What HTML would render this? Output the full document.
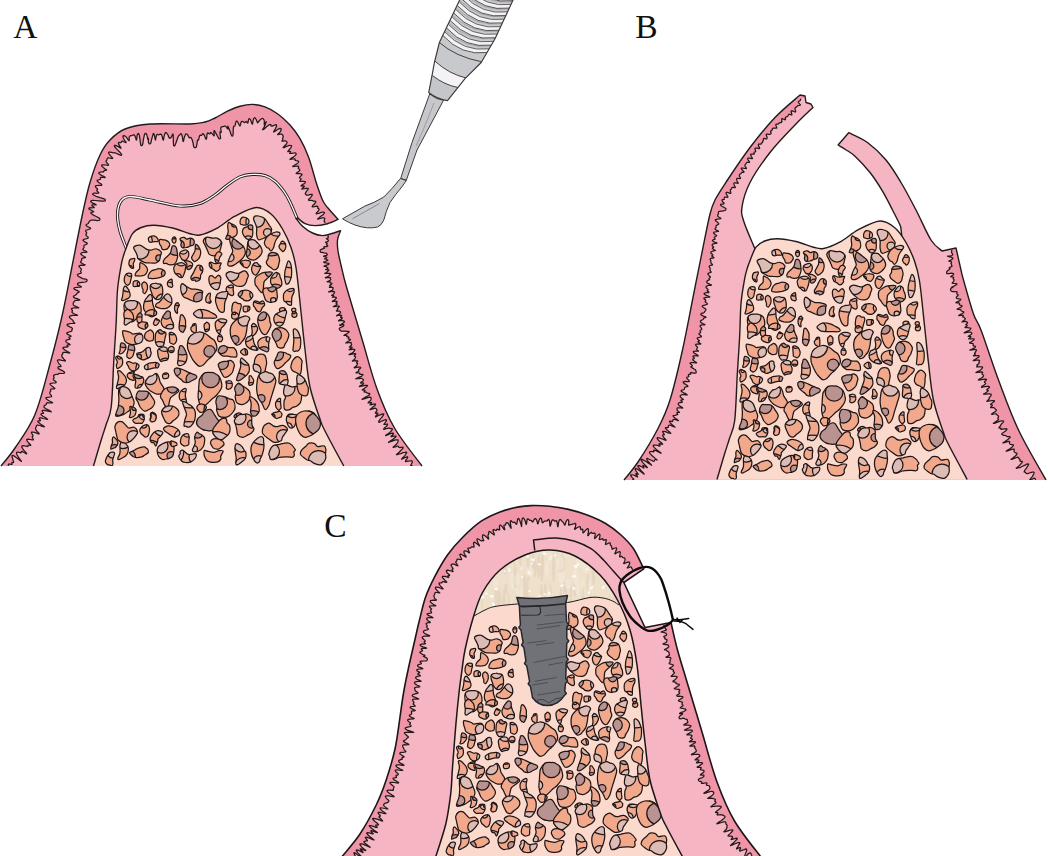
<!DOCTYPE html>
<html><head><meta charset="utf-8"><title>Figure</title>
<style>html,body{margin:0;padding:0;background:#fff}body{width:1048px;height:856px;overflow:hidden;font-family:"Liberation Serif",serif}svg{display:block}</style>
</head><body>
<svg width="1048" height="856" viewBox="0 0 1048 856">
<defs><path id="b0" d="M158.3 240.3C158.4 241 158.3 241.5 157.6 241.7C156.9 241.9 155.3 241.5 154.2 241.6C153.1 241.7 152.1 242.3 151.2 242.3C150.4 242.3 149.6 242.1 149.2 241.7C148.7 241.3 148.7 240.7 148.6 240.1C148.4 239.4 148 238.5 148.6 237.8C149.1 237.2 150.7 236.5 151.7 236.2C152.8 235.9 153.9 235.9 154.8 236.1C155.7 236.4 156.5 237.1 157.1 237.8C157.7 238.5 158.2 239.7 158.3 240.3Z"/>
<clipPath id="c0"><use href="#b0"/></clipPath>
<path id="b1" d="M168.7 242.1C169.4 242.9 169.9 243.9 169.8 244.9C169.7 245.9 168.5 247.4 167.9 248.2C167.2 248.9 166.8 249.2 165.9 249.4C164.9 249.6 163.2 249.9 162.4 249.4C161.6 248.9 161.6 247.3 161.1 246.3C160.6 245.3 159.6 244.5 159.4 243.4C159.1 242.3 159.1 240.2 159.7 239.6C160.4 239.1 162.4 239.8 163.4 239.9C164.4 240 164.6 239.7 165.5 240.1C166.4 240.5 168 241.3 168.7 242.1Z"/>
<path id="b2" d="M176 240C176 240.7 175.9 241.6 175.5 242.2C175.2 242.7 174.6 243.2 174.1 243.2C173.6 243.2 173.1 242.6 172.7 242.1C172.4 241.5 172 240.7 172 240C172 239.3 172.3 238.4 172.7 237.9C173 237.4 173.6 237 174.1 236.9C174.6 236.9 175.3 237.2 175.6 237.7C175.9 238.3 176.1 239.3 176 240Z"/>
<clipPath id="c2"><use href="#b2"/></clipPath>
<path id="b3" d="M194.3 241.5C194.4 242.6 193.9 244.4 193.2 245.1C192.5 245.8 191.3 245.6 190.2 246C189.1 246.4 187.7 247.2 186.4 247.5C185.1 247.8 183.3 248.2 182.4 247.8C181.5 247.4 181.1 246.2 180.9 245.2C180.7 244.3 181.5 243.3 181.4 242.3C181.2 241.2 179.6 239.6 180 238.7C180.5 237.9 182.9 237.2 184 237.3C185.1 237.4 185.7 239.1 186.7 239.2C187.7 239.3 189 238.3 190 238.2C191 238.1 191.9 238.2 192.6 238.7C193.3 239.3 194.2 240.5 194.3 241.5Z"/>
<clipPath id="c3"><use href="#b3"/></clipPath>
<path id="b4" d="M221.3 245.4C221 246.9 220.7 249.2 219.8 250.8C219 252.4 217.5 254.1 216.4 254.9C215.3 255.7 214.6 255.9 213.5 255.8C212.3 255.7 210.3 255.3 209.3 254.4C208.3 253.5 208.1 251.7 207.5 250.4C206.9 249 206.4 248 205.7 246.4C205 244.8 203.1 242.5 203.3 241C203.5 239.4 205.4 237.6 207 237.1C208.5 236.6 210.8 238 212.5 238.1C214.2 238.3 215.6 237.6 217.1 238.2C218.6 238.8 220.8 240.5 221.5 241.7C222.2 242.9 221.6 243.8 221.3 245.4Z"/>
<clipPath id="c4"><use href="#b4"/></clipPath>
<path id="b5" d="M237.2 232.8C237.1 234.4 236.4 235.2 235.4 236.1C234.4 236.9 232.4 237.4 231.4 237.9C230.4 238.4 230.1 238.8 229.2 239C228.2 239.2 226 239.7 225.7 238.9C225.5 238.1 227.2 235.3 227.6 234.1C228 232.8 228.2 232.7 228.2 231.4C228.3 230 227.6 227.3 227.7 225.9C227.8 224.4 228.1 222.9 228.7 222.5C229.3 222.2 230.5 223.4 231.4 223.8C232.3 224.2 233 224.4 233.8 224.9C234.6 225.4 235.5 225.5 236.1 226.8C236.7 228.2 237.4 231.3 237.2 232.8Z"/>
<clipPath id="c5"><use href="#b5"/></clipPath>
<path id="b6" d="M160.5 255.5C160.2 256.9 160.2 259.2 159.4 260.4C158.7 261.6 157.4 262.3 155.9 262.8C154.4 263.2 152.4 263.1 150.4 263C148.5 262.9 146.4 263 144.3 262.3C142.3 261.5 139.2 259.7 138.1 258.7C136.9 257.6 137.7 257 137.4 256C137 255 136.6 254 136 252.5C135.4 251.1 133.1 248.5 133.7 247.3C134.4 246.1 137.6 244.8 139.8 245.2C142 245.5 145.1 248.6 146.9 249.4C148.7 250.2 149.2 250.2 150.8 250.1C152.3 250 154.6 248.4 156.3 248.8C158.1 249.1 160.6 250.9 161.3 252.1C162 253.2 160.8 254.1 160.5 255.5Z"/>
<clipPath id="c6"><use href="#b6"/></clipPath>
<path id="b7" d="M177.3 258.3C176.9 259.8 176.1 262.8 174.7 263.9C173.4 265 170.5 264.8 169.1 264.7C167.7 264.6 167.5 263.7 166.5 263.4C165.6 263.2 164 263.9 163.6 263.3C163.2 262.6 163.2 260.9 164.1 259.6C164.9 258.2 167.5 256.4 168.6 255.2C169.7 254 170.2 253.6 170.7 252.3C171.3 250.9 171.4 248.1 171.9 247C172.4 245.9 173 245.5 173.7 245.6C174.4 245.7 175.6 246.1 176.2 247.6C176.9 249.2 177.3 252.9 177.5 254.7C177.7 256.4 177.8 256.8 177.3 258.3Z"/>
<clipPath id="c7"><use href="#b7"/></clipPath>
<path id="b8" d="M188.8 254.8C188.8 255.8 188.5 256.6 188 257.5C187.4 258.4 186.6 259.8 185.7 260.2C184.8 260.6 183.4 260.3 182.6 259.9C181.8 259.6 181.6 258.8 181.1 258C180.6 257.1 179.8 255.9 179.7 254.9C179.6 254 179.8 252.9 180.3 252.2C180.9 251.5 181.9 250.9 182.9 250.6C183.9 250.2 185.3 249.9 186.2 250C187 250.2 187.7 250.7 188.2 251.5C188.6 252.3 188.9 253.8 188.8 254.8Z"/>
<clipPath id="c8"><use href="#b8"/></clipPath>
<path id="b9" d="M200.2 255.4C199.9 256.6 199.7 257.6 198.8 258.6C197.8 259.7 195.4 261.3 194.6 261.6C193.7 261.9 193.8 261 193.5 260.7C193.2 260.4 192.8 260.3 192.5 259.7C192.2 259.2 191.4 258.7 191.6 257.5C191.9 256.4 193.4 254.3 193.9 253.1C194.5 251.9 194.9 251.6 195.1 250.3C195.4 249 195.1 246.1 195.4 245.2C195.6 244.2 196 244.2 196.6 244.6C197.3 245 198.6 246.4 199.2 247.6C199.9 248.7 200.5 250.2 200.6 251.5C200.8 252.8 200.6 254.2 200.2 255.4Z"/>
<clipPath id="c9"><use href="#b9"/></clipPath>
<path id="b10" d="M219.5 257.7C219 258.7 219.4 259.1 219.1 260C218.7 261 218.2 262.9 217.6 263.2C217 263.5 216.1 262.7 215.7 262C215.2 261.3 214.9 259.8 214.8 258.9C214.6 258 214.6 257.5 215 256.4C215.4 255.3 216.4 253.1 217.2 252.4C217.9 251.6 219 251.9 219.7 251.9C220.3 252 220.6 252.3 221 252.7C221.3 253 222 253.4 221.8 254.2C221.5 255.1 219.9 256.8 219.5 257.7Z"/>
<clipPath id="c10"><use href="#b10"/></clipPath>
<path id="b11" d="M245.3 253.2C245.1 255.1 243.8 256.8 242.6 258.3C241.4 259.8 239.6 261.1 238 262.3C236.5 263.5 234.8 264.8 233.4 265.4C231.9 266.1 230.3 266.4 229.3 266.1C228.4 265.9 227.6 265.5 227.7 264C227.8 262.5 228.9 259.3 229.8 257.2C230.6 255.1 232.3 253.3 232.7 251.7C233 250 232.1 249 231.6 247.3C231.2 245.6 230.2 243.2 229.9 241.6C229.7 239.9 229.4 237.4 230.4 237.2C231.4 237 234.4 239.3 236 240.4C237.6 241.4 238.7 242.5 240 243.6C241.2 244.6 242.9 245.2 243.7 246.8C244.6 248.4 245.5 251.3 245.3 253.2Z"/>
<clipPath id="c11"><use href="#b11"/></clipPath>
<path id="b12" d="M133.3 263.6C133.1 264.8 133.6 266.2 133.6 267C133.6 267.8 133.5 268.2 133.1 268.4C132.7 268.5 131.9 268.5 131.3 268.1C130.7 267.6 129.8 266.5 129.4 265.6C129 264.8 128.7 263.9 128.9 262.9C129 261.9 129.5 260.2 130.1 259.5C130.7 258.8 131.8 258.9 132.6 258.7C133.3 258.6 134.1 258.2 134.4 258.4C134.8 258.6 135 259.1 134.8 259.9C134.6 260.8 133.5 262.5 133.3 263.6Z"/>
<clipPath id="c12"><use href="#b12"/></clipPath>
<path id="b13" d="M147.3 271.4C146.9 272.6 146 274.3 144.8 275C143.7 275.8 141.7 275.8 140.5 276C139.3 276.1 138.6 276 137.7 275.9C136.8 275.9 135.3 276.1 135.1 275.5C134.8 274.9 135.6 273.3 136.3 272.2C137.1 271.1 138.9 269.8 139.5 268.9C140 268 139.6 267.7 139.7 266.7C139.8 265.6 139.6 263.1 140.1 262.6C140.5 262 141.4 263.1 142.2 263.5C143 263.9 143.8 264.1 144.6 264.9C145.5 265.7 146.8 267.2 147.2 268.3C147.6 269.3 147.7 270.3 147.3 271.4Z"/>
<path id="b14" d="M165.2 273C165.2 273.8 164.7 274.8 164.3 275.4C163.9 275.9 163.8 276 162.8 276.4C161.8 276.8 160.1 277.5 158.5 277.9C156.9 278.2 154.4 278.6 153.2 278.7C152 278.8 152.1 278.5 151.3 278.4C150.5 278.2 149 278.5 148.5 278C148 277.4 147.9 276.4 148.4 275.2C148.9 274 150.2 271.9 151.4 271C152.5 270.1 154.1 270 155.4 269.6C156.7 269.2 157.8 268.5 159.2 268.7C160.7 268.8 163.1 269.8 164.1 270.5C165.1 271.2 165.1 272.2 165.2 273Z"/>
<clipPath id="c14"><use href="#b14"/></clipPath>
<path id="b15" d="M185.1 270.6C184.8 272 184.6 272.4 184.2 273.5C183.8 274.6 183.2 276.6 182.5 277.3C181.7 277.9 180.4 277.5 179.6 277.2C178.9 277 178.6 276.3 177.9 275.7C177.1 275.1 175.9 274.4 175.2 273.4C174.5 272.3 173.9 270.5 173.8 269.3C173.6 268.2 173.7 267.4 174.2 266.5C174.7 265.5 175.7 264.3 176.8 263.7C177.8 263.1 179.5 263 180.6 262.8C181.6 262.7 182 262.6 182.9 263C183.7 263.4 185.4 264 185.8 265.2C186.1 266.5 185.3 269.2 185.1 270.6Z"/>
<clipPath id="c15"><use href="#b15"/></clipPath>
<path id="b16" d="M192.6 263.8C192.9 264.6 192.3 266 191.9 266.9C191.5 267.8 190.8 268.6 190.2 269C189.6 269.5 188.8 269.6 188.3 269.6C187.7 269.5 187.2 269.3 186.9 268.8C186.7 268.2 186.7 266.9 186.7 266.1C186.7 265.3 187.2 264.5 186.8 263.7C186.5 262.9 184.4 261.7 184.4 261.3C184.5 260.8 186.3 260.7 187.2 260.8C188.2 260.9 189.3 261.2 190.2 261.7C191.1 262.2 192.3 262.9 192.6 263.8Z"/>
<clipPath id="c16"><use href="#b16"/></clipPath>
<path id="b17" d="M200.7 274.9C200.3 276.3 200.7 278.5 199.9 279.6C199.2 280.7 197 281.3 196.1 281.5C195.3 281.6 195.8 280.5 195 280.2C194.3 280 192.5 280.6 191.8 280.1C191.1 279.5 190.7 278.2 190.9 277C191.2 275.8 192.7 274.2 193.4 272.9C194.1 271.6 194.5 270.3 195.1 269.1C195.7 268 196.3 266.6 197 265.9C197.7 265.3 198.5 265 199.4 265.2C200.3 265.3 201.8 265.8 202.3 266.9C202.9 267.9 202.9 270.3 202.6 271.6C202.4 272.9 201.2 273.6 200.7 274.9Z"/>
<clipPath id="c17"><use href="#b17"/></clipPath>
<path id="b18" d="M219.8 266.5C219.6 267.4 220.6 267.8 220 268.7C219.5 269.5 217.6 271.2 216.5 271.3C215.4 271.5 214.5 270 213.5 269.4C212.5 268.7 211.1 268.6 210.4 267.6C209.7 266.6 209.1 264.4 209.2 263.5C209.2 262.6 209.9 262.1 210.7 262.1C211.6 262.1 213 263.3 214.1 263.5C215.2 263.8 216 263.6 217.2 263.5C218.3 263.4 220.7 262.5 221.2 263C221.6 263.5 219.9 265.6 219.8 266.5Z"/>
<clipPath id="c18"><use href="#b18"/></clipPath>
<path id="b19" d="M220.4 281C220.3 282.1 220.4 283.1 220 284.4C219.7 285.8 219.1 288.2 218.3 289C217.6 289.9 216.4 289.8 215.3 289.5C214.2 289.2 212.7 288 211.9 287.2C211 286.5 210.7 285.9 210.2 284.8C209.7 283.8 209.1 282.4 209 281C208.8 279.6 208.8 277.4 209.4 276.5C210 275.6 211.4 275.6 212.4 275.8C213.3 276.1 214.1 278.2 215.1 278.1C216.1 278 217.2 275.4 218.2 275.3C219.1 275.1 220.4 276.4 220.8 277.4C221.2 278.3 220.6 279.8 220.4 281Z"/>
<clipPath id="c19"><use href="#b19"/></clipPath>
<path id="b20" d="M247.1 279C246.7 280.3 246.5 281.9 245.8 283C245.1 284.2 244.6 285.3 243.1 285.8C241.6 286.3 238.5 286.6 236.6 286C234.7 285.5 232.7 283.4 231.5 282.4C230.2 281.4 229.9 281.4 229 280.2C228.1 278.9 225.9 276.1 226 274.7C226.2 273.3 228.4 272 230 271.7C231.6 271.5 234 272.8 235.5 273C237 273.3 237.5 273.5 239.1 273.2C240.6 272.8 243.1 270.4 244.7 270.8C246.2 271.1 247.9 273.9 248.3 275.2C248.7 276.6 247.5 277.7 247.1 279Z"/>
<clipPath id="c20"><use href="#b20"/></clipPath>
<path id="b21" d="M131 278.9C130.7 280 130.5 281.7 130.2 282.7C129.8 283.6 129.4 284 128.9 284.4C128.4 284.9 128 285.6 127.3 285.3C126.6 285 125.2 283.7 124.7 282.6C124.2 281.4 124.1 279.8 124.3 278.4C124.5 277 125.2 275.1 126 274.2C126.7 273.3 127.8 273.2 128.7 273.1C129.6 273 130.8 273.2 131.3 273.7C131.8 274.2 131.7 275.1 131.7 276C131.6 276.9 131.2 277.8 131 278.9Z"/>
<clipPath id="c21"><use href="#b21"/></clipPath>
<path id="b22" d="M139.8 283.8C139.8 284.5 139.6 285.7 139.1 286.2C138.5 286.6 137.2 286.4 136.3 286.4C135.4 286.5 133.9 286.7 133.4 286.3C132.9 285.8 133 284.6 133.1 283.8C133.1 283 133.1 282.1 133.7 281.6C134.2 281 135.4 280.7 136.3 280.7C137.2 280.7 138.2 281.2 138.8 281.7C139.4 282.2 139.7 283.1 139.8 283.8Z"/>
<clipPath id="c22"><use href="#b22"/></clipPath>
<path id="b23" d="M147.5 287.8C147.5 288.8 147.4 289.3 147 290.2C146.5 291.2 145.5 293.2 144.9 293.6C144.3 293.9 143.5 293.1 143.1 292.5C142.8 291.9 143.1 290.7 143 289.8C142.8 288.9 142.3 288.3 142.1 287.4C141.9 286.5 141.7 285.2 141.8 284.4C142 283.6 142.6 282.9 143.1 282.5C143.6 282.1 144.2 281.8 144.9 282.1C145.5 282.3 146.6 283.2 147.1 284.2C147.5 285.1 147.5 286.8 147.5 287.8Z"/>
<path id="b24" d="M162.6 289.1C162.9 290.4 162.8 291.4 162.7 292.3C162.7 293.3 162.9 293.9 162.5 294.9C162.1 295.9 161.4 297.6 160.4 298.4C159.4 299.1 157.5 299.7 156.2 299.4C155 299 153.7 297.5 152.9 296.2C152.1 295 151.9 293.3 151.5 292.1C151 290.9 150.5 290.3 150.4 289.1C150.2 287.9 149.7 285.8 150.5 284.8C151.3 283.8 153.9 283.2 155.1 283.1C156.3 282.9 156.7 283.6 157.7 283.9C158.7 284.1 160.5 283.7 161.3 284.6C162.2 285.5 162.4 287.8 162.6 289.1Z"/>
<clipPath id="c24"><use href="#b24"/></clipPath>
<path id="b25" d="M172.3 283.9C172.4 284.7 172.9 285.4 172.8 286C172.7 286.5 172.2 287.1 171.7 287.3C171.2 287.4 170.5 287.1 169.9 287C169.4 286.8 168.6 286.8 168.2 286.2C167.8 285.7 167.3 284.3 167.4 283.4C167.4 282.5 167.9 281.5 168.4 280.9C168.9 280.2 169.8 279.8 170.3 279.5C170.9 279.3 171.5 279.1 171.8 279.3C172.1 279.6 172.1 280.3 172.2 281.1C172.3 281.8 172.2 283 172.3 283.9Z"/>
<clipPath id="c25"><use href="#b25"/></clipPath>
<path id="b26" d="M202.1 295.8C202 296.8 202.5 298.7 201.5 299.7C200.5 300.7 198 301.8 196.1 301.8C194.3 301.8 191.7 300.5 190.3 299.9C188.9 299.4 188.9 299.2 187.7 298.7C186.6 298.1 184.5 297.8 183.4 296.6C182.3 295.5 181.5 293.4 181.1 291.7C180.7 289.9 180.5 287.3 180.8 286C181 284.7 181.4 283.5 182.4 283.6C183.5 283.8 185.6 285.9 187 286.8C188.4 287.6 189.6 288.4 191 288.8C192.4 289.2 193.7 288.8 195.6 289.2C197.5 289.6 201.3 290.5 202.4 291.2C203.5 292 202.3 293.1 202.2 293.9C202.2 294.6 202.2 294.9 202.1 295.8Z"/>
<clipPath id="c26"><use href="#b26"/></clipPath>
<path id="b27" d="M209.9 298.5C210 299.4 211.1 300.9 211.1 301.7C211.2 302.5 210.5 303 210 303.3C209.6 303.5 209.3 303.1 208.7 302.9C208.1 302.7 206.9 302.8 206.4 302.2C205.9 301.5 205.6 300.2 205.7 299.1C205.8 298.1 206.3 296.6 206.9 295.6C207.5 294.6 208.7 293.6 209.2 293.3C209.8 293 210.3 293.2 210.4 293.7C210.6 294.2 210.3 295.5 210.2 296.3C210.1 297.1 209.7 297.6 209.9 298.5Z"/>
<clipPath id="c27"><use href="#b27"/></clipPath>
<path id="b28" d="M224.8 302.5C224.4 304.2 224.6 305.1 224.5 306.6C224.4 308 224.6 310.4 224.1 311.4C223.6 312.3 222.4 312.5 221.4 312.3C220.5 312 219.4 311.2 218.5 309.9C217.7 308.7 216.9 306.3 216.4 304.6C215.9 303 215.3 301.6 215.5 299.9C215.6 298.2 216.2 295.7 217.1 294.4C218 293.1 219.8 292.6 221.1 292.2C222.4 291.7 223.8 291.7 224.8 291.7C225.9 291.6 227.2 290.9 227.6 291.6C228 292.4 227.7 294.5 227.2 296.3C226.7 298.1 225.3 300.8 224.8 302.5Z"/>
<clipPath id="c28"><use href="#b28"/></clipPath>
<path id="b29" d="M233.1 289.4C233.2 290.5 233.6 291.9 233.6 292.8C233.7 293.6 233.8 294.2 233.5 294.6C233.2 295.1 232.7 295.8 231.8 295.6C230.8 295.4 229 294.3 228.1 293.5C227.2 292.7 226.6 292 226.4 291C226.1 289.9 226.1 288.1 226.6 287.2C227.1 286.2 228.6 285.9 229.4 285.5C230.2 285.1 230.9 284.7 231.5 284.8C232.2 284.9 233.1 285.3 233.4 286.1C233.6 286.8 233.1 288.3 233.1 289.4Z"/>
<clipPath id="c29"><use href="#b29"/></clipPath>
<path id="b30" d="M130.2 295.3C130.1 296.4 129.8 297.1 129 297.8C128.2 298.5 126.5 299.1 125.5 299.6C124.5 300 123.7 300.5 123 300.6C122.3 300.6 121.6 300.6 121.5 300.1C121.4 299.5 122.1 298.3 122.4 297.1C122.6 296 122.9 294.3 123 293C123.2 291.7 123.2 290.3 123.3 289.3C123.5 288.4 123.7 287.8 124 287.3C124.4 286.8 124.7 286 125.4 286.2C126.1 286.4 127.3 287.7 127.9 288.6C128.6 289.5 129 290.5 129.4 291.6C129.8 292.7 130.3 294.3 130.2 295.3Z"/>
<clipPath id="c30"><use href="#b30"/></clipPath>
<path id="b31" d="M141.2 311.1C141 313 139.4 314.2 138.6 315.6C137.7 316.9 137.1 317.9 136 319C134.9 320 133.3 321.9 132 321.9C130.7 321.8 128.9 320 127.9 318.7C127 317.5 127 315.8 126.4 314.4C125.8 312.9 124.6 311.9 124.3 310.1C123.9 308.3 123.9 305 124.4 303.5C125 302 126.2 301.4 127.6 300.9C129.1 300.4 131.8 300.6 133.1 300.6C134.5 300.7 134.5 300.5 135.7 301C136.8 301.6 138.9 302.2 139.9 303.8C140.8 305.5 141.4 309.1 141.2 311.1Z"/>
<clipPath id="c31"><use href="#b31"/></clipPath>
<path id="b32" d="M153.3 305.9C153.7 307.4 154.8 309.1 154.9 310.4C155.1 311.7 154.5 312.5 154.3 313.5C154 314.5 154.5 315.8 153.7 316.3C152.9 316.7 150.6 316.8 149.2 316C147.8 315.3 146.3 313.1 145.3 311.8C144.4 310.5 143.7 309.8 143.6 308.1C143.4 306.4 143.9 303.2 144.5 301.4C145.1 299.6 146.1 298.5 147.1 297.4C148 296.2 149.4 294.4 150.2 294.4C151.1 294.3 151.9 295.9 152.2 297C152.6 298.2 152.2 300 152.4 301.4C152.5 302.9 152.8 304.4 153.3 305.9Z"/>
<clipPath id="c32"><use href="#b32"/></clipPath>
<path id="b33" d="M170.1 295.3C170.8 296.1 171.4 297.3 171.7 298.7C171.9 300 172.2 302 171.7 303.5C171.2 304.9 169.5 306.4 168.5 307.3C167.4 308.1 166.6 308.4 165.3 308.6C163.9 308.8 161.9 308.7 160.3 308.4C158.7 308 156.3 307.3 155.6 306.5C155 305.7 155.9 304.3 156.5 303.6C157.1 302.9 158.2 303.1 159.2 302.2C160.2 301.4 161.2 300 162.3 298.7C163.3 297.4 164.8 295.4 165.7 294.6C166.6 293.8 166.9 293.7 167.6 293.9C168.4 294 169.4 294.5 170.1 295.3Z"/>
<clipPath id="c33"><use href="#b33"/></clipPath>
<path id="b34" d="M178.1 307.4C177.8 308.1 177.4 308.6 177.3 309.6C177.2 310.5 177.7 312.5 177.5 313C177.3 313.5 176.7 313.2 176.2 312.7C175.8 312.3 175.1 311.2 174.8 310.3C174.6 309.3 174.4 308.2 174.6 307.1C174.8 306 175.3 304.4 175.8 303.6C176.4 302.9 177.4 302.6 177.8 302.6C178.2 302.6 178.2 303.1 178.4 303.5C178.7 303.9 179.4 304.3 179.3 304.9C179.3 305.6 178.5 306.6 178.1 307.4Z"/>
<clipPath id="c34"><use href="#b34"/></clipPath>
<path id="b35" d="M216.7 317.5C216.6 318.1 215.6 318.1 214.3 318.2C213.1 318.4 210.8 318.2 209.3 318.2C207.8 318.1 206.5 318 205.4 318C204.2 318 203.5 318.1 202.3 318.1C201 318 199 317.9 197.9 317.6C196.8 317.3 196.4 316.8 195.7 316.3C195 315.8 194 314.9 193.7 314.4C193.4 313.8 193.3 313.6 193.8 313C194.3 312.3 195.5 311.1 196.7 310.5C197.9 309.9 199.1 309.3 200.9 309.4C202.7 309.4 205.8 310.1 207.5 310.6C209.2 311.1 209.8 311.8 211.1 312.5C212.4 313.2 214.3 314 215.3 314.8C216.2 315.6 216.9 316.9 216.7 317.5Z"/>
<clipPath id="c35"><use href="#b35"/></clipPath>
<path id="b36" d="M240.1 310.6C239.8 312 239.5 313.1 239.2 314.2C238.8 315.3 238.6 316.5 238 317.2C237.4 318 236.5 318.7 235.8 318.8C235.1 318.9 234.3 318.9 233.7 317.8C233.1 316.6 232.4 313.4 232.1 312.1C231.7 310.7 231.6 311.1 231.8 309.7C231.9 308.2 232.3 304.7 233 303.4C233.6 302.1 234.8 302 235.7 302.1C236.6 302.1 237.4 303.4 238.2 303.7C239 303.9 240 303.3 240.5 303.7C241 304.1 241.4 304.8 241.3 306C241.3 307.1 240.5 309.2 240.1 310.6Z"/>
<path id="b37" d="M249 221.5C249 222.4 248.7 223.5 248.1 224.1C247.5 224.6 246.3 224.9 245.5 225.1C244.7 225.2 244 225.1 243.1 225C242.3 224.9 241 224.8 240.5 224.2C240 223.6 240 222.2 240.1 221.3C240.2 220.4 240.5 219.5 240.9 218.8C241.4 218.1 241.9 217.3 242.7 217.1C243.5 216.9 244.8 217.2 245.7 217.5C246.6 217.9 247.7 218.4 248.2 219.1C248.8 219.8 249 220.7 249 221.5Z"/>
<clipPath id="c37"><use href="#b37"/></clipPath>
<path id="b38" d="M269.2 225.2C269.8 226.3 271.7 227.6 271.7 229.5C271.6 231.4 270.1 235.1 269 236.4C267.9 237.8 266.4 237.2 265.2 237.6C264 238 263 238.7 261.8 239C260.7 239.4 259.1 240.3 258.3 239.6C257.4 238.9 256.8 236.7 256.6 234.9C256.3 233 256.8 230.1 256.7 228.4C256.6 226.8 256.4 226.5 255.9 225C255.4 223.4 253.7 220.6 253.6 219.1C253.4 217.7 254.2 216.6 255 216.1C255.9 215.6 257 215.7 258.6 216C260.1 216.3 262.8 217 264.3 218.2C265.8 219.3 266.9 221.7 267.7 222.9C268.5 224 268.5 224.1 269.2 225.2Z"/>
<clipPath id="c38"><use href="#b38"/></clipPath>
<path id="b39" d="M252.8 233.1C252.6 234.2 252.7 235.7 252.1 236.7C251.5 237.8 250 239 249.1 239.4C248.2 239.7 247.4 239.1 246.8 238.8C246.2 238.6 246 238.4 245.6 237.8C245.1 237.3 244.4 236.6 243.8 235.6C243.3 234.7 242.5 233.5 242.4 232.3C242.3 231.1 242.8 229.2 243.5 228.3C244.2 227.4 245.6 227.4 246.7 226.9C247.7 226.3 248.8 225.1 249.8 224.9C250.8 224.7 252.1 225 252.6 225.9C253.1 226.7 252.7 228.9 252.7 230.1C252.8 231.3 252.9 232 252.8 233.1Z"/>
<clipPath id="c39"><use href="#b39"/></clipPath>
<path id="b40" d="M274.8 242.9C274.2 244.4 274.1 246.7 273.4 248C272.7 249.4 271.6 250.9 270.8 250.9C270 251 269.4 248.8 268.7 248.2C268 247.6 267.3 248.2 266.6 247.4C265.9 246.5 264.4 244.7 264.3 243C264.3 241.4 265.6 238.9 266.5 237.4C267.5 236 268.5 235.3 270 234.4C271.6 233.5 274.3 232.4 275.8 232C277.4 231.7 278.4 232 279.1 232.4C279.8 232.8 280.4 233.2 280 234.3C279.6 235.4 277.5 237.6 276.6 239C275.7 240.5 275.3 241.4 274.8 242.9Z"/>
<clipPath id="c40"><use href="#b40"/></clipPath>
<path id="b41" d="M285.8 246.1C285.8 247.1 285.5 248.6 285 249.5C284.5 250.4 283.4 251.5 282.8 251.7C282.3 251.8 282.1 250.7 281.7 250.3C281.3 250 280.8 250.1 280.4 249.4C279.9 248.8 279 247.3 279 246.4C279 245.4 280 244.5 280.4 243.7C280.8 242.9 281 242.1 281.4 241.7C281.8 241.2 282.1 240.9 282.7 241.1C283.3 241.4 284.6 242.3 285.1 243.2C285.6 244 285.8 245 285.8 246.1Z"/>
<clipPath id="c41"><use href="#b41"/></clipPath>
<path id="b42" d="M262.2 250.7C262.3 252.1 261.6 253.5 260.9 254.7C260.1 255.9 258.8 257.1 257.7 258C256.5 258.9 255.5 260 253.9 260C252.3 260.1 249.4 259.3 248.1 258.3C246.8 257.4 246.4 255.8 246.2 254.5C246 253.1 246.7 251.8 246.9 250.4C247.1 249 247.2 247.6 247.4 246C247.7 244.4 247.4 241.8 248.4 240.8C249.5 239.7 252.4 239.5 253.9 239.8C255.3 240.1 255.9 241.5 257 242.5C258 243.5 259.3 244.4 260.2 245.8C261 247.1 262.1 249.2 262.2 250.7Z"/>
<clipPath id="c42"><use href="#b42"/></clipPath>
<path id="b43" d="M279.6 259.9C279.7 261.3 279.3 261.7 279 262.9C278.7 264.2 278.6 266.4 277.8 267.6C277 268.8 275.3 269.9 274.2 269.9C273 269.9 271.8 268.3 270.7 267.5C269.6 266.7 268.3 266.1 267.6 265.2C266.9 264.3 266.3 263.2 266.3 262.1C266.4 261 267.7 259.9 268.1 258.8C268.4 257.7 267.9 256.4 268.3 255.4C268.7 254.4 269.4 253.2 270.5 252.8C271.7 252.3 274.1 252.6 275.3 252.9C276.6 253.3 277.3 253.6 278 254.7C278.7 255.9 279.4 258.5 279.6 259.9Z"/>
<clipPath id="c43"><use href="#b43"/></clipPath>
<path id="b44" d="M250.4 262.7C250.3 263.3 250.2 264.1 249.7 265C249.2 265.8 248.3 267.4 247.4 267.8C246.4 268.1 244.9 267.4 244 267C243.2 266.6 242.9 266.1 242.3 265.4C241.6 264.6 240.2 263.2 240 262.5C239.9 261.8 240.7 261.5 241.4 261.1C242 260.8 242.9 260.6 243.9 260.5C244.8 260.3 246 260.1 247 260.3C248 260.4 249.3 260.9 249.9 261.3C250.5 261.7 250.4 262.1 250.4 262.7Z"/>
<clipPath id="c44"><use href="#b44"/></clipPath>
<path id="b45" d="M259.6 269.7C259.1 270.7 258.9 271.4 258.3 272.3C257.7 273.2 256.7 274.7 255.9 275C255.1 275.3 254 274.6 253.3 273.9C252.6 273.2 252.1 271.7 251.8 270.7C251.6 269.7 251.4 269.1 251.7 267.9C252 266.8 252.8 264.6 253.6 263.7C254.4 262.9 255.9 262.6 256.7 262.7C257.5 262.8 257.7 263.9 258.4 264.5C259.1 265.2 260.6 265.6 260.8 266.4C261 267.3 260 268.7 259.6 269.7Z"/>
<clipPath id="c45"><use href="#b45"/></clipPath>
<path id="b46" d="M264.2 281.6C263.5 282.9 263.9 283.6 263.6 285.4C263.4 287.2 263.4 291.4 262.7 292.3C262.1 293.3 260.8 291.9 259.8 290.9C258.8 290 257.6 287.8 256.8 286.7C256 285.5 255.4 285.5 255.1 284.1C254.9 282.6 254.5 279.5 255.4 277.8C256.3 276.1 259.1 274.7 260.6 273.8C262.1 272.9 262.6 272.7 264.4 272.4C266.2 272.1 270.2 271.8 271.5 272C272.7 272.2 272.4 272.9 271.9 273.7C271.4 274.6 269.6 276.1 268.4 277.4C267.1 278.7 265 280.2 264.2 281.6Z"/>
<clipPath id="c46"><use href="#b46"/></clipPath>
<path id="b47" d="M281.4 280.1C281.7 281.2 282.1 282.9 281.9 284.1C281.7 285.3 280.7 286.5 280 287.1C279.3 287.8 278.4 288 277.7 288.2C276.9 288.4 276.4 288.9 275.5 288.4C274.6 288 273.1 286.5 272.4 285.6C271.6 284.6 271 284.1 270.8 282.8C270.5 281.6 270.6 279.3 270.9 278.1C271.3 276.9 271.9 276.4 272.6 275.5C273.4 274.6 274.4 272.8 275.5 272.6C276.6 272.3 278.5 273.2 279.3 274C280.1 274.8 279.8 276.4 280.2 277.4C280.5 278.4 281.1 279 281.4 280.1Z"/>
<clipPath id="c47"><use href="#b47"/></clipPath>
<path id="b48" d="M291.6 274C291.5 275.6 291.5 276.4 291.1 277.9C290.6 279.4 289.7 282 288.9 283C288.1 284 286.9 284.3 286.3 284.1C285.7 283.9 285.7 283 285.4 281.8C285.1 280.7 284.7 279 284.6 277.3C284.6 275.6 284.7 273.3 284.9 271.8C285.1 270.2 285.5 269.3 285.8 268.1C286.1 267 286.4 266 286.8 264.8C287.2 263.6 287.6 261.3 288.2 261C288.8 260.7 289.9 261.8 290.4 263C291 264.2 291.3 266.4 291.5 268.3C291.7 270.1 291.7 272.4 291.6 274Z"/>
<clipPath id="c48"><use href="#b48"/></clipPath>
<path id="b49" d="M252.8 296.4C252.6 297.3 251.8 298 251.1 298.7C250.4 299.4 249.8 300.4 248.7 300.6C247.6 300.9 245.4 300.6 244.4 300.3C243.4 300 243.5 299.4 242.8 298.9C242 298.4 240.6 297.9 239.8 297.2C239.1 296.4 238 295.4 238.1 294.5C238.2 293.5 239.6 292.1 240.4 291.5C241.2 290.8 242 290.8 242.9 290.6C243.9 290.4 244.8 290 246 290.1C247.2 290.2 248.9 290.6 249.9 291.2C250.9 291.8 251.8 292.6 252.2 293.5C252.7 294.4 253 295.6 252.8 296.4Z"/>
<clipPath id="c49"><use href="#b49"/></clipPath>
<path id="b50" d="M277 293.4C277.2 295 277.5 296.1 277.3 297.4C277.1 298.6 276.7 300.2 275.9 301C275.1 301.8 273.5 301.9 272.4 302.1C271.3 302.3 270.3 302.4 269.2 302.2C268.1 301.9 266.7 301.3 265.9 300.4C265.1 299.5 264.8 298.1 264.3 296.6C263.8 295.2 262.8 292.9 262.9 291.5C262.9 290.2 263.5 288.9 264.5 288.3C265.5 287.7 267.6 288.2 268.9 287.9C270.3 287.6 271.5 286.5 272.8 286.5C274 286.5 275.5 286.7 276.2 287.8C276.9 289 276.8 291.8 277 293.4Z"/>
<clipPath id="c50"><use href="#b50"/></clipPath>
<path id="b51" d="M291.9 297.1C291.5 298.7 291.7 300.6 291.6 301.9C291.5 303.3 291.8 304.9 291.2 305.3C290.6 305.7 288.7 304.8 287.9 304.4C287.1 303.9 286.9 303 286.2 302.3C285.5 301.7 284.4 301.9 283.9 300.6C283.5 299.3 283.3 296.1 283.5 294.5C283.8 293 284.5 292.3 285.4 291.4C286.3 290.5 287.8 289.6 288.7 289.2C289.5 288.7 289.6 288.7 290.5 288.7C291.3 288.6 293.2 288 293.8 288.6C294.4 289.2 294.3 290.6 294 292C293.7 293.4 292.3 295.4 291.9 297.1Z"/>
<clipPath id="c51"><use href="#b51"/></clipPath>
<path id="b52" d="M264.6 304.8C264.4 305.9 263 306.5 262.3 307.6C261.6 308.7 261.2 311 260.3 311.6C259.5 312.2 258.1 311.7 257.2 311.1C256.3 310.5 255.8 308.9 255.1 307.9C254.5 306.9 253.6 306.4 253.4 305.3C253.3 304.2 253.5 301.9 254.2 301.2C254.9 300.6 256.9 301.2 257.8 301.4C258.7 301.5 258.7 302.3 259.6 302.3C260.5 302.2 262.3 300.6 263.1 301C264 301.4 264.7 303.7 264.6 304.8Z"/>
<clipPath id="c52"><use href="#b52"/></clipPath>
<path id="b53" d="M249.9 308.8C249.8 309.5 249.2 310.3 248.6 310.8C248 311.3 247.2 311.8 246.3 311.9C245.4 311.9 244 311.7 243.5 311.2C243 310.7 243.2 309.6 243.2 308.8C243.2 308 243 306.8 243.5 306.4C244 305.9 245.4 306.2 246.3 306.2C247.2 306.2 248.6 305.9 249.2 306.3C249.8 306.8 250 308.1 249.9 308.8Z"/>
<clipPath id="c53"><use href="#b53"/></clipPath>
<path id="b54" d="M285.5 310C285.5 310.6 285.2 311.4 284.7 311.8C284.2 312.3 283.2 312.6 282.5 312.5C281.8 312.5 280.9 312.2 280.4 311.8C279.9 311.3 279.4 310.6 279.4 310C279.4 309.4 279.8 308.6 280.3 308.2C280.8 307.8 281.8 307.5 282.5 307.5C283.2 307.5 284.2 307.7 284.7 308.1C285.2 308.6 285.5 309.4 285.5 310Z"/>
<clipPath id="c54"><use href="#b54"/></clipPath>
<path id="b55" d="M295.8 310C295.8 310.5 295.6 311.1 295.3 311.5C294.9 311.8 294.3 312 293.8 312C293.3 312 292.8 311.7 292.4 311.4C292 311.1 291.6 310.5 291.6 310C291.6 309.5 292 308.9 292.4 308.6C292.7 308.3 293.3 308.1 293.8 308.1C294.3 308.1 295 308.1 295.3 308.5C295.7 308.8 295.8 309.5 295.8 310Z"/>
<path id="b56" d="M133.6 318.8C133.4 320.1 132.3 320.7 131.5 321.4C130.8 322.1 130 322.3 129 322.9C128.1 323.6 126.6 324.9 125.8 325.1C125 325.2 124.4 324.8 124.2 323.8C124 322.8 124.6 320.5 124.5 319.1C124.5 317.8 123.9 316.8 123.9 315.6C123.8 314.5 123.8 313.1 124.2 312.1C124.7 311.1 125.8 310 126.6 309.6C127.3 309.3 128.3 309.7 129 310C129.7 310.4 130.1 310.9 130.8 311.6C131.4 312.2 132.2 312.6 132.7 313.8C133.2 315 133.8 317.5 133.6 318.8Z"/>
<clipPath id="c56"><use href="#b56"/></clipPath>
<path id="b57" d="M141.9 318C141.9 319 142 319.9 141.9 320.6C141.7 321.3 141.5 321.8 141.1 322.3C140.7 322.7 140.3 323.3 139.7 323.2C139.1 323 137.7 322.4 137.3 321.5C136.8 320.6 136.9 318.8 136.9 317.8C136.9 316.8 136.9 316.1 137.4 315.2C138 314.4 139.5 312.8 140.1 312.6C140.7 312.3 140.7 313.3 141.1 313.7C141.4 314.1 142 314.1 142.1 314.9C142.2 315.6 141.9 317.1 141.9 318Z"/>
<clipPath id="c57"><use href="#b57"/></clipPath>
<path id="b58" d="M147.6 324.4C147.7 325 148.3 325.5 147.9 326.3C147.4 327 146.2 328.8 145.1 329.1C144.1 329.5 142.6 328.8 141.5 328.4C140.4 328 139 327.5 138.4 326.7C137.8 326 137.9 324.7 138 324.1C138.2 323.5 138.7 323.5 139.2 323.2C139.8 322.8 140.7 322.1 141.5 321.9C142.4 321.7 143.4 322.1 144.3 322.1C145.2 322.2 146.6 322.1 147.1 322.5C147.7 322.8 147.5 323.8 147.6 324.4Z"/>
<clipPath id="c58"><use href="#b58"/></clipPath>
<path id="b59" d="M156.6 313.8C156.5 314.5 156.1 314.9 155.5 315.2C154.9 315.6 154.1 315.8 153.2 315.8C152.2 315.8 151 315.3 150 315.2C149 315.1 147.9 315 147.1 314.9C146.3 314.9 145.2 315.2 145 314.8C144.9 314.3 145.3 313 146.1 312.2C146.8 311.4 148.2 310.5 149.3 310.1C150.5 309.6 151.6 309.4 152.8 309.6C153.9 309.9 155.6 310.8 156.3 311.5C156.9 312.2 156.7 313.2 156.6 313.8Z"/>
<clipPath id="c59"><use href="#b59"/></clipPath>
<path id="b60" d="M158.3 323.2C157.9 323.9 157.2 324.8 156.6 325.1C156 325.5 155 325.4 154.5 325.1C154 324.8 153.4 324 153.4 323.3C153.4 322.6 153.9 321.7 154.3 320.9C154.7 320 155.4 318.6 156 318.4C156.5 318.1 157.2 319.1 157.8 319.4C158.4 319.8 159.4 319.9 159.5 320.6C159.6 321.2 158.8 322.4 158.3 323.2Z"/>
<clipPath id="c60"><use href="#b60"/></clipPath>
<path id="b61" d="M171.8 320.4C172.3 321.7 173.3 322.9 173.5 324.2C173.7 325.5 173.6 327.4 173 328.2C172.4 329 170.9 328.8 169.7 328.8C168.6 328.8 167.2 328.7 166 328.2C164.8 327.7 163.3 326.9 162.5 325.8C161.7 324.7 161.2 323 161.1 321.7C161 320.4 161.5 319.4 162.1 318.2C162.6 316.9 163.6 315.3 164.4 314.2C165.2 313 166.1 311.5 167.1 311.1C168 310.8 169.5 311.3 170.1 312.2C170.7 313.1 170.2 315.1 170.5 316.5C170.8 317.8 171.3 319.1 171.8 320.4Z"/>
<clipPath id="c61"><use href="#b61"/></clipPath>
<path id="b62" d="M185.5 323.8C185.5 325 185.9 325.9 185.6 327.3C185.2 328.6 184 331.1 183.5 331.9C182.9 332.7 182.7 332.1 182.2 332C181.8 331.8 181.2 331.7 180.7 331.2C180.2 330.7 179.4 330 179.2 328.8C178.9 327.5 179.2 325.3 179.3 323.7C179.5 322.2 179.8 320.6 180 319.4C180.1 318.1 180 317 180.3 316.2C180.5 315.4 181 314.7 181.5 314.7C182.1 314.8 183.1 315.5 183.7 316.4C184.4 317.4 185.2 319.2 185.5 320.5C185.8 321.7 185.5 322.7 185.5 323.8Z"/>
<clipPath id="c62"><use href="#b62"/></clipPath>
<path id="b63" d="M196.3 328.1C196.3 329 196.4 330.3 196.3 331.1C196.1 332 195.8 333.1 195.4 333.3C194.9 333.4 194 332.6 193.4 332.2C192.7 331.8 192 331.7 191.6 331C191.2 330.3 190.8 328.9 190.8 328.2C190.9 327.4 191.5 327.1 191.9 326.5C192.3 325.8 192.6 324.6 193.2 324.1C193.9 323.7 195.2 323.5 195.7 323.8C196.2 324 196.1 325.1 196.2 325.8C196.3 326.5 196.3 327.2 196.3 328.1Z"/>
<clipPath id="c63"><use href="#b63"/></clipPath>
<path id="b64" d="M209.4 326.8C209.4 327.7 209.5 329.1 209.1 329.9C208.8 330.6 207.9 331 207.3 331.3C206.7 331.5 205.9 331.9 205.4 331.5C205 331.2 204.8 330 204.6 329.3C204.4 328.5 204.2 327.8 204.1 327C204.1 326.2 204.1 324.9 204.3 324.3C204.6 323.7 205.1 323.7 205.5 323.3C205.9 323 206.2 321.9 206.8 322.1C207.5 322.3 208.9 323.6 209.3 324.4C209.7 325.2 209.5 325.9 209.4 326.8Z"/>
<clipPath id="c64"><use href="#b64"/></clipPath>
<path id="b65" d="M223.5 325.9C222.8 326.7 221.8 327.4 221.3 328.3C220.8 329.2 220.8 330.5 220.5 331.4C220.2 332.3 220.1 333.7 219.5 333.6C218.9 333.6 217.5 332.5 216.8 331.2C216.1 330 215.6 327.8 215.4 326.3C215.2 324.8 214.9 323.5 215.4 322.4C216 321.2 217.7 319.7 218.8 319.2C219.9 318.6 221.2 318.9 222.1 318.9C223.1 319 223.6 319 224.4 319.2C225.2 319.4 226.7 319.6 226.8 320.3C227 321 226.1 322.6 225.5 323.5C225 324.4 224.2 325.1 223.5 325.9Z"/>
<clipPath id="c65"><use href="#b65"/></clipPath>
<path id="b66" d="M142.8 339.4C142.5 340.5 142 341.7 140.9 342.5C139.8 343.3 137.8 343.9 136.2 344.2C134.5 344.5 132.6 344.7 130.8 344.3C129 343.9 126.3 342.7 125.2 341.6C124 340.5 124.3 338.9 123.9 337.8C123.5 336.6 123 335.9 122.9 334.7C122.8 333.5 122 331 123.2 330.6C124.5 330.3 128.9 331.9 130.5 332.5C132.1 333.1 131.3 333.9 132.9 334C134.4 334.1 138.3 332.8 139.9 333.1C141.6 333.3 142.1 334.7 142.6 335.7C143.1 336.8 143 338.2 142.8 339.4Z"/>
<clipPath id="c66"><use href="#b66"/></clipPath>
<path id="b67" d="M153.6 336.1C153.6 337.3 153.7 338.9 153.2 339.8C152.7 340.6 151.5 340.9 150.7 341C149.9 341.2 149.1 341.2 148.2 340.9C147.3 340.5 145.9 339.8 145.3 338.9C144.7 338.1 144.4 336.8 144.5 335.7C144.7 334.6 145.4 333.2 146 332.4C146.7 331.6 147.6 331.3 148.3 330.9C149.1 330.5 149.7 329.6 150.5 329.9C151.4 330.2 152.8 331.8 153.3 332.8C153.8 333.8 153.6 335 153.6 336.1Z"/>
<path id="b68" d="M164.9 338.8C164.5 340.4 164.3 342.6 164 343.8C163.6 345 163.4 345.4 162.9 345.9C162.3 346.3 161.6 346.4 160.7 346.4C159.9 346.5 158.7 346.9 157.8 346.2C156.9 345.4 155.8 343.7 155.4 342.1C155 340.6 155.2 338.4 155.3 336.8C155.4 335.2 155.4 333.9 156.1 332.7C156.9 331.5 159 329.8 160 329.6C161.1 329.4 161.5 330.8 162.4 331.3C163.2 331.7 164.4 331.7 165.1 332.2C165.7 332.6 166.1 332.8 166 333.9C166 335 165.2 337.1 164.9 338.8Z"/>
<clipPath id="c68"><use href="#b68"/></clipPath>
<path id="b69" d="M176.5 337.9C176.8 339.2 176.6 340.6 176.2 341.6C175.8 342.7 174.6 343.8 173.9 344.2C173.2 344.5 172.6 343.8 171.9 343.6C171.3 343.4 170.4 343.5 170 342.8C169.6 342 169.8 340.3 169.6 339C169.5 337.7 169.4 336 169.3 335C169.3 333.9 169 333.3 169.4 332.8C169.7 332.4 170.4 332.2 171.3 332.3C172.1 332.5 173.4 332.8 174.3 333.8C175.2 334.7 176.2 336.6 176.5 337.9Z"/>
<clipPath id="c69"><use href="#b69"/></clipPath>
<path id="b70" d="M222.6 338.3C222.7 339.1 222.2 340.3 221.8 340.8C221.4 341.4 220.6 341.7 220 341.7C219.4 341.7 218.5 341.6 218.1 341C217.7 340.4 217.5 339.1 217.5 338.3C217.6 337.5 217.9 336.6 218.3 335.9C218.7 335.3 219.4 334.4 220 334.4C220.6 334.4 221.2 335.3 221.7 336C222.1 336.6 222.6 337.5 222.6 338.3Z"/>
<clipPath id="c70"><use href="#b70"/></clipPath>
<path id="b71" d="M216.8 349C216.3 351.7 213.1 354.9 211.5 356.7C210 358.6 209 358.7 207.7 360C206.3 361.3 205.1 363.5 203.7 364.6C202.2 365.6 200.8 366.8 199.1 366.2C197.5 365.7 195.1 362.7 193.8 361.1C192.4 359.5 192.1 358.7 191.1 356.6C190.1 354.5 188.3 351.2 187.7 348.7C187.2 346.1 187.2 343.5 187.8 341.3C188.3 339.1 189.1 337.1 190.9 335.6C192.8 334 196.3 332.3 198.8 332C201.2 331.7 203.5 332.8 205.5 333.8C207.5 334.8 209.3 336.8 210.9 338C212.4 339.1 213.7 339 214.7 340.9C215.7 342.7 217.3 346.4 216.8 349Z"/>
<clipPath id="c71"><use href="#b71"/></clipPath>
<path id="b72" d="M236.6 352.1C236.8 353.3 237.5 356 236.5 356.7C235.6 357.5 232.4 356.9 230.8 356.8C229.3 356.7 228.8 356.3 227.5 356.1C226.1 356 224.2 356.6 222.7 355.9C221.2 355.2 219.1 353.2 218.4 352C217.8 350.9 218.4 350 218.8 349C219.2 348.1 220 346.9 220.9 346.4C221.9 345.8 223 345.5 224.3 345.7C225.5 345.9 226.8 347.1 228.3 347.4C229.8 347.8 232.1 347.4 233.3 347.7C234.4 348.1 234.8 348.8 235.4 349.5C235.9 350.3 236.4 350.9 236.6 352.1Z"/>
<clipPath id="c72"><use href="#b72"/></clipPath>
<path id="b73" d="M125.9 348.4C125.7 349.3 125.2 350 124.5 350.8C123.8 351.7 122.6 353.1 121.7 353.5C120.8 354 119.3 354.1 119.1 353.6C118.8 353.2 119.8 351.8 120 350.8C120.2 349.8 120.2 348.8 120.2 347.8C120.3 346.8 120.3 345.5 120.5 344.7C120.7 343.9 120.9 343.1 121.4 342.9C121.9 342.6 122.7 342.9 123.4 343.3C124.1 343.7 125.2 344.6 125.6 345.4C126 346.3 126.1 347.5 125.9 348.4Z"/>
<clipPath id="c73"><use href="#b73"/></clipPath>
<path id="b74" d="M134 352C133.7 353.1 133.6 354.9 132.9 356C132.2 357.1 130.5 358.3 129.7 358.6C128.9 358.8 128.5 357.9 128 357.6C127.6 357.3 127.1 357.3 126.9 356.8C126.8 356.3 126.8 355.4 126.9 354.4C127.1 353.4 127.6 352.1 127.9 350.7C128.2 349.3 128.2 346.9 128.6 345.9C128.9 344.9 129.6 344.8 130.1 344.7C130.7 344.6 131.2 345.1 131.9 345.2C132.5 345.3 133.3 344.6 133.8 345.3C134.3 346 134.7 348.1 134.8 349.3C134.8 350.4 134.3 350.9 134 352Z"/>
<clipPath id="c74"><use href="#b74"/></clipPath>
<path id="b75" d="M150.5 350.8C150.7 351.6 151.3 352.1 151.2 353.1C151 354.2 150.6 356 149.7 357C148.7 358 146.8 358.8 145.6 359.2C144.4 359.7 143.9 360 142.7 359.8C141.5 359.5 139.3 358.3 138.3 357.7C137.4 357.1 137.5 356.6 137.2 355.9C137 355.2 136.3 354 136.9 353.4C137.5 352.8 139.8 352.6 140.8 352.3C141.8 351.9 142.1 352 143.1 351.2C144.1 350.5 145.7 348.3 146.9 347.8C148.1 347.3 149.6 347.7 150.2 348.2C150.8 348.7 150.4 349.9 150.5 350.8Z"/>
<clipPath id="c75"><use href="#b75"/></clipPath>
<path id="b76" d="M168.6 355C168.7 356.3 168.2 358.6 167.7 359.5C167.2 360.4 166.5 360.3 165.7 360.5C164.9 360.7 163.7 360.6 162.9 360.8C162.1 360.9 161.7 362 161 361.4C160.3 360.9 159.1 358.6 158.6 357.4C158.1 356.2 158.1 355.2 157.9 354.2C157.8 353.1 157.3 351.9 157.6 350.9C157.9 349.9 158.6 348.9 159.6 348.2C160.7 347.5 162.5 346.8 163.7 346.8C164.9 346.8 166.2 347.4 166.9 348.2C167.5 349.1 167.2 350.8 167.5 351.9C167.8 353.1 168.6 353.8 168.6 355Z"/>
<clipPath id="c76"><use href="#b76"/></clipPath>
<path id="b77" d="M174.2 349.5C174.2 350.2 174 351.2 173.5 351.7C173 352.2 172 352.6 171.3 352.6C170.6 352.6 169.7 352.2 169.2 351.6C168.6 351.1 168.2 350.2 168.2 349.5C168.2 348.8 168.7 347.9 169.2 347.4C169.7 346.9 170.6 346.4 171.3 346.4C172 346.4 173.1 346.7 173.5 347.3C174 347.8 174.2 348.8 174.2 349.5Z"/>
<clipPath id="c77"><use href="#b77"/></clipPath>
<path id="b78" d="M187 356.6C187 358.2 186.5 360.6 185.8 361.9C185.1 363.3 184 364.1 182.9 364.7C181.7 365.3 179.8 365.8 178.9 365.6C178 365.4 177.7 364.4 177.5 363.4C177.4 362.4 177.9 360.7 178.1 359.6C178.2 358.4 178.2 357.9 178.3 356.6C178.3 355.2 178.2 352.9 178.3 351.6C178.5 350.2 178.9 349.4 179.2 348.5C179.5 347.5 179.3 346.1 180 345.8C180.7 345.6 182.2 345.7 183.2 346.8C184.2 347.9 185.4 350.8 186.1 352.4C186.7 354.1 187.1 355 187 356.6Z"/>
<clipPath id="c78"><use href="#b78"/></clipPath>
<path id="b79" d="M122.7 362.6C122.7 363.8 122.4 364.6 121.8 365.5C121.3 366.3 120 367.2 119.2 367.7C118.4 368.2 117.5 368.9 117 368.4C116.5 367.9 116.4 365.8 116.4 364.8C116.5 363.7 117.5 363.3 117.4 362.1C117.2 360.9 115.7 358.8 115.7 357.8C115.6 356.7 116.6 356.2 117.2 356C117.8 355.8 118.4 356.2 119.2 356.6C120 357 121.4 357.4 122 358.4C122.5 359.4 122.7 361.4 122.7 362.6Z"/>
<clipPath id="c79"><use href="#b79"/></clipPath>
<path id="b80" d="M138.5 367.7C138.1 368.5 137.4 369.2 136.6 369.8C135.8 370.3 134.6 371.2 133.4 371.1C132.3 371.1 130.6 370.1 129.8 369.2C128.9 368.4 128.9 367.4 128.4 366.3C127.8 365.2 126.4 363.6 126.5 362.8C126.6 362 127.8 361.5 129 361.6C130.1 361.7 132.1 363.1 133.2 363.3C134.3 363.5 134.5 362.6 135.4 362.9C136.4 363.1 138.4 364.3 138.9 365.1C139.4 365.9 138.9 366.9 138.5 367.7Z"/>
<clipPath id="c80"><use href="#b80"/></clipPath>
<path id="b81" d="M158.5 366.6C158.3 367.1 158.5 367.5 157.8 367.8C157.1 368 155.4 367.8 154.4 367.9C153.5 368 153 368.1 151.9 368.4C150.8 368.7 148.9 369.6 147.8 369.7C146.7 369.8 145.8 369.4 145.3 369C144.7 368.7 144.5 368.1 144.5 367.6C144.4 367 144.1 366.5 144.8 365.8C145.4 365.1 147.3 364 148.4 363.5C149.5 363 149.9 363 151.3 362.8C152.6 362.6 155.3 362.3 156.6 362.5C157.9 362.8 158.8 363.6 159.2 364.3C159.5 365 158.7 366 158.5 366.6Z"/>
<clipPath id="c81"><use href="#b81"/></clipPath>
<path id="b82" d="M233.6 368.4C233.3 369.8 233 371.3 232.3 372.5C231.5 373.7 230.1 375 229.1 375.8C228.2 376.5 227.4 376.9 226.5 377.1C225.6 377.3 224.8 377.6 224 376.9C223.1 376.3 222.3 374.5 221.5 373C220.7 371.5 219.7 369.4 219.2 367.9C218.7 366.4 217.7 365.1 218.3 364.1C218.9 363 221.2 362 222.6 361.6C224 361.1 225.4 361.5 226.8 361.4C228.1 361.2 229.4 359.9 230.7 360.4C231.9 360.9 233.9 363 234.3 364.4C234.8 365.7 234 367.1 233.6 368.4Z"/>
<clipPath id="c82"><use href="#b82"/></clipPath>
<path id="b83" d="M126.5 381C126.3 382.3 125.4 384.1 124.7 385C124.1 386 123.6 385.9 122.5 386.5C121.3 387.1 119.1 388.3 118.1 388.5C117.1 388.7 116.6 388.5 116.5 387.8C116.3 387 116.8 385.7 117.2 384.2C117.5 382.8 118.2 380.5 118.4 379.1C118.7 377.7 118.6 377.1 118.5 375.8C118.3 374.4 117.3 371.7 117.6 371C117.9 370.2 119.2 370.6 120.2 371.1C121.1 371.6 122.4 373.1 123.3 374.1C124.2 375.1 125 376 125.5 377.1C126 378.2 126.6 379.6 126.5 381Z"/>
<clipPath id="c83"><use href="#b83"/></clipPath>
<path id="b84" d="M133 376.1C133 377 133.8 377.6 134 378.3C134.1 379 134.5 380.2 134 380.4C133.5 380.6 132 380 131.1 379.7C130.3 379.4 129.5 379.2 128.8 378.5C128.1 377.8 127.1 376.3 127.1 375.4C127.1 374.5 128.1 373.6 128.8 373C129.5 372.5 130.4 372.3 131.4 372C132.3 371.6 134 370.7 134.4 370.8C134.8 371 134.2 372 133.9 372.9C133.7 373.7 133 375.2 133 376.1Z"/>
<clipPath id="c84"><use href="#b84"/></clipPath>
<path id="b85" d="M143.8 380.4C143.8 381.4 143.3 382.8 142.7 383.9C142.1 385 141.2 386.5 140.4 387.1C139.7 387.8 139 387.7 138.3 387.9C137.5 388.1 136.5 388.4 136 388.2C135.4 387.9 135 387.3 135 386.2C134.9 385.1 135.7 382.8 135.7 381.5C135.8 380.2 135.4 379.5 135.1 378.4C134.8 377.2 133.9 375.1 134.1 374.5C134.3 373.9 135.5 374.4 136.4 374.7C137.4 374.9 138.8 375.5 139.8 376C140.9 376.4 142.1 376.6 142.8 377.3C143.4 378 143.8 379.3 143.8 380.4Z"/>
<clipPath id="c85"><use href="#b85"/></clipPath>
<path id="b86" d="M168.7 375.8C168.6 376.6 168.3 377.5 167.8 378C167.3 378.4 166.4 378.5 165.6 378.5C164.8 378.6 163.7 378.7 163.2 378.2C162.7 377.8 162.5 376.5 162.5 375.8C162.6 375.1 163 374.2 163.5 373.7C164 373.2 164.9 372.9 165.6 372.9C166.3 372.9 167.4 373 167.9 373.5C168.4 374 168.7 375 168.7 375.8Z"/>
<clipPath id="c86"><use href="#b86"/></clipPath>
<path id="b87" d="M160.2 382.3C161 384.1 162.7 385.7 163.4 387.2C164 388.8 164.6 390.4 164.3 391.5C164 392.5 162.7 393 161.5 393.5C160.3 393.9 158.8 394.5 157 394.1C155.2 393.7 152.1 392 150.5 391C148.9 390 148.4 389.5 147.5 388.2C146.6 386.8 144.9 384.9 145.1 383C145.3 381.1 147.4 378.2 148.6 377C149.7 375.8 150.8 376.4 152.1 375.8C153.4 375.2 155.1 373.2 156.2 373.3C157.3 373.4 158 374.9 158.6 376.4C159.3 377.9 159.5 380.5 160.2 382.3Z"/>
<clipPath id="c87"><use href="#b87"/></clipPath>
<path id="b88" d="M196.3 378.1C195.6 379 193 380 191.6 380.8C190.3 381.5 189.5 382.4 188.1 382.5C186.8 382.7 184.6 382.4 183.5 381.9C182.4 381.5 182.3 380.5 181.5 379.8C180.7 379.1 179.6 378.5 178.6 377.6C177.6 376.7 176.3 375.8 175.6 374.5C174.8 373.2 174.1 371.1 174.2 370C174.3 369 175.2 368.4 176 368.1C176.8 367.8 177.6 368 178.8 368.3C180.1 368.6 182.1 369.4 183.6 370C185 370.6 186 371.3 187.5 371.9C188.9 372.5 190.8 373.2 192.2 373.8C193.7 374.4 195.5 374.7 196.1 375.4C196.8 376.1 197.1 377.2 196.3 378.1Z"/>
<clipPath id="c88"><use href="#b88"/></clipPath>
<path id="b89" d="M221 389C220.1 390.9 217.7 393.9 216.3 395.5C214.9 397.1 214.4 396.9 212.5 398.5C210.6 400.2 207.2 404.3 205.1 405.2C203 406.2 201.3 405.6 200.1 404.2C199 402.8 198.4 399.3 198.1 396.9C197.9 394.6 198.4 392.2 198.6 389.9C198.7 387.7 198.8 385.4 199 383.6C199.2 381.8 198.9 380.7 199.8 378.9C200.7 377.2 202.6 374.2 204.3 373.1C206.1 372 208.8 372.5 210.3 372.5C211.9 372.5 212.3 372.2 213.9 372.9C215.4 373.7 218.2 375.1 219.5 377C220.8 378.9 221.5 382.3 221.8 384.3C222.1 386.3 222 387.2 221 389Z"/>
<clipPath id="c89"><use href="#b89"/></clipPath>
<path id="b90" d="M232.3 384.6C232.4 385.6 232.2 386.6 231.6 387.3C231.1 388.1 229.7 388.9 228.9 389.2C228.2 389.4 227.4 389.1 227 388.9C226.5 388.7 226.3 388.6 226.3 387.9C226.2 387.3 226.6 386.3 226.6 385.2C226.5 384.1 225.7 382 225.9 381.4C226.1 380.7 227.2 381.3 227.8 381.1C228.3 381 228.4 380.5 229 380.5C229.6 380.6 230.8 380.8 231.4 381.5C231.9 382.2 232.3 383.6 232.3 384.6Z"/>
<clipPath id="c90"><use href="#b90"/></clipPath>
<path id="b91" d="M170.7 397.7C169.6 399.3 169.6 401.4 169.1 403.2C168.6 405.1 168.4 408.6 167.6 408.9C166.9 409.1 165.4 406.4 164.6 404.9C163.7 403.5 163.2 401.7 162.5 400.3C161.8 398.9 160.4 398 160.4 396.6C160.3 395.2 161.4 393.3 162.2 391.9C163 390.5 163.7 389.3 165.3 388.5C167 387.6 170.4 387 172.2 386.9C174 386.8 175.1 387.2 176.2 387.9C177.3 388.5 178.9 389.7 178.9 390.7C178.8 391.7 177.1 392.6 175.7 393.8C174.4 395 171.8 396.1 170.7 397.7Z"/>
<clipPath id="c91"><use href="#b91"/></clipPath>
<path id="b92" d="M185.3 395.6C185.4 397 186 398.9 186.2 400.1C186.4 401.3 186.8 402.4 186.5 402.8C186.3 403.2 185.5 402.9 184.7 402.7C184 402.4 182.9 401.8 182.1 401.3C181.3 400.7 180.4 400.3 179.9 399.3C179.4 398.3 179.2 396.5 179.2 395.4C179.2 394.3 179.4 393.6 179.9 392.7C180.4 391.8 181.1 390.8 182 390.1C182.9 389.4 184.4 388.4 185.1 388.3C185.8 388.2 186.1 388.8 186.2 389.4C186.3 390.1 185.9 391 185.8 392C185.6 393.1 185.2 394.3 185.3 395.6Z"/>
<clipPath id="c92"><use href="#b92"/></clipPath>
<path id="b93" d="M134.2 402.8C134.1 404.4 133.3 406.4 132.3 407.8C131.3 409.2 129.8 410.1 128.4 411.2C127 412.3 125.8 413.5 123.7 414.4C121.7 415.2 117.5 416.5 116.2 416.2C115 415.9 116 414 116.3 412.5C116.7 411 117.8 409.4 118.2 407.2C118.6 404.9 118.9 401.1 118.9 399C119 397 118.6 396.3 118.6 394.6C118.6 392.9 118.3 390.2 119 388.8C119.6 387.5 121.3 387 122.5 386.7C123.6 386.4 124.8 386.7 125.9 387.2C127.1 387.7 128.3 388.1 129.4 389.8C130.5 391.6 131.9 395.7 132.7 397.9C133.5 400 134.3 401.1 134.2 402.8Z"/>
<clipPath id="c93"><use href="#b93"/></clipPath>
<path id="b94" d="M152.2 397.4C153 398.8 154.6 400.5 154.7 402.1C154.8 403.6 154 405.3 152.9 406.6C151.9 407.9 149.9 409.1 148.5 409.8C147.1 410.6 145.8 411.5 144.4 411.1C143.1 410.7 141.5 409 140.4 407.5C139.4 406 138.7 403.6 138 402C137.2 400.5 135.9 399.7 135.9 398C135.9 396.2 137 392.8 138 391.6C139 390.5 140.3 391.2 141.8 391.1C143.3 391.1 145.6 390.8 146.9 391.3C148.3 391.7 148.9 392.6 149.8 393.6C150.6 394.7 151.3 396 152.2 397.4Z"/>
<clipPath id="c94"><use href="#b94"/></clipPath>
<path id="b95" d="M235.1 407.6C235.1 409.4 234.5 410.1 233.5 411.5C232.5 412.9 230.5 415.1 229.1 416.1C227.7 417.1 226.9 417.3 225.2 417.4C223.6 417.4 220.6 417.4 219.2 416.3C217.8 415.2 217.2 412.4 216.8 410.8C216.4 409.2 216.9 408.4 216.8 406.8C216.6 405.2 215.6 403 215.9 401.2C216.2 399.4 217 396.7 218.4 396C219.9 395.2 222.7 396.3 224.5 396.7C226.3 397.2 227.6 398.2 229.2 398.8C230.7 399.4 232.5 399.1 233.5 400.5C234.5 402 235.1 405.8 235.1 407.6Z"/>
<clipPath id="c95"><use href="#b95"/></clipPath>
<path id="b96" d="M135.8 412.6C135.6 413.7 135.3 414.8 134.6 415.6C133.8 416.4 132.5 417.2 131.6 417.4C130.7 417.7 129.6 417.8 129.4 417.3C129.2 416.8 130 415.2 130.2 414.3C130.3 413.5 130.5 413.2 130.5 412C130.4 410.7 129.7 407.6 129.9 406.7C130.1 405.9 131 406.8 131.6 406.9C132.3 406.9 133.1 406.7 133.8 407.2C134.5 407.6 135.6 408.5 136 409.4C136.3 410.3 136.1 411.6 135.8 412.6Z"/>
<clipPath id="c96"><use href="#b96"/></clipPath>
<path id="b97" d="M178.8 414.9C178.5 416.1 177.5 417.3 176.5 418.2C175.6 419.2 174.4 419.7 173.3 420.6C172.3 421.4 171.4 423 170.2 423.4C169 423.8 167.4 423.4 166.4 422.7C165.4 422 164.9 420.7 164.2 419.3C163.5 417.9 162.5 415.7 162 414.3C161.6 412.9 161.3 411.9 161.8 410.7C162.3 409.5 163.6 407.9 165 407.1C166.5 406.3 169 405.9 170.6 405.9C172.2 405.9 173.3 406.2 174.6 407C175.9 407.8 177.7 409.3 178.4 410.6C179.1 411.9 179.1 413.6 178.8 414.9Z"/>
<clipPath id="c97"><use href="#b97"/></clipPath>
<path id="b98" d="M195.4 414.1C195.5 415.9 195.4 418.2 194.6 420.2C193.9 422.2 192 425 190.9 426.1C189.8 427.3 188.9 427.1 188 427.1C187.2 427.1 186.4 426.4 185.7 426.2C185 425.9 184.1 426.8 184 425.7C183.9 424.6 184.5 421.5 184.9 419.7C185.3 417.9 186.3 416.3 186.5 414.9C186.6 413.5 186.3 413.3 185.7 411.3C185.1 409.3 182.9 404.5 182.7 402.9C182.6 401.3 184 401.6 185 401.8C186 402.1 187.8 403.7 188.8 404.4C189.9 405 190.2 404.8 191.2 405.7C192.1 406.5 193.7 408.1 194.4 409.5C195.1 410.9 195.4 412.4 195.4 414.1Z"/>
<clipPath id="c98"><use href="#b98"/></clipPath>
<path id="b99" d="M206.4 407.7C206.3 408.4 205.4 409.5 204.8 410.2C204.2 411 203.7 411.7 202.8 412C202 412.3 200.6 412.4 199.8 412.1C199.1 411.8 198.7 411 198.2 410.3C197.7 409.6 196.9 408.8 196.8 408C196.8 407.1 197.5 405.8 198 405.2C198.5 404.6 199.2 404.4 200 404.2C200.8 404 201.7 403.9 202.6 404.2C203.5 404.5 205 405.3 205.6 405.8C206.2 406.4 206.5 406.9 206.4 407.7Z"/>
<clipPath id="c99"><use href="#b99"/></clipPath>
<path id="b100" d="M144.2 416.4C144.2 417 144 417.9 143.5 418.3C143.1 418.7 142 418.9 141.3 418.9C140.6 418.8 139.7 418.6 139.1 418.2C138.6 417.8 138.2 417 138.2 416.4C138.2 415.8 138.6 415 139.1 414.6C139.6 414.2 140.5 414.1 141.3 414C142.1 414 143.2 414.1 143.6 414.4C144.1 414.8 144.2 415.8 144.2 416.4Z"/>
<clipPath id="c100"><use href="#b100"/></clipPath>
<path id="b101" d="M156.1 416.3C156 417.1 155.9 418.7 155.6 419.3C155.2 419.9 154.6 419.6 154 419.9C153.3 420.1 152.4 420.9 151.8 420.8C151.2 420.6 150.4 419.8 150.2 419.1C150.1 418.4 150.8 417.2 150.8 416.4C150.8 415.6 150.2 415.1 150.4 414.4C150.6 413.7 151.4 412.5 152 412.3C152.6 412 153.2 412.5 153.9 412.8C154.5 413.2 155.4 413.8 155.7 414.4C156.1 415 156.1 415.5 156.1 416.3Z"/>
<clipPath id="c101"><use href="#b101"/></clipPath>
<path id="b102" d="M238.8 315.8C238.9 316.6 238.1 317.7 237.5 318.3C236.9 318.9 235.9 319.2 235 319.2C234.1 319.2 232.9 319 232.4 318.4C231.8 317.9 231.5 316.7 231.6 315.8C231.6 314.9 231.8 313.8 232.4 313.2C233 312.6 234.2 312.1 235 312.1C235.8 312.2 236.7 312.9 237.3 313.5C237.9 314.1 238.8 315 238.8 315.8Z"/>
<clipPath id="c102"><use href="#b102"/></clipPath>
<path id="b103" d="M246.4 332C246 333.9 245.7 336.1 244.8 337.9C243.9 339.7 242.1 341.5 241.2 342.6C240.3 343.7 240.2 344.1 239.4 344.4C238.5 344.8 237.3 345.4 236.2 344.9C235.1 344.4 234 343.1 233 341.3C232 339.6 230.7 336.9 230.4 334.4C230 331.9 230.2 328.6 230.9 326.3C231.7 324.1 233.5 322.1 235.1 320.7C236.6 319.2 238.4 318.4 240.3 317.6C242.1 316.8 244.6 315.9 246.2 316C247.8 316.2 249.5 317.6 249.8 318.5C250.2 319.4 248.9 320.3 248.5 321.6C248 322.8 247.6 324.4 247.2 326.2C246.9 327.9 246.8 330 246.4 332Z"/>
<clipPath id="c103"><use href="#b103"/></clipPath>
<path id="b104" d="M257.7 328.9C257.6 330.1 256.6 331.9 256 332.9C255.4 333.9 255 334.2 254.3 334.8C253.5 335.4 251.8 336.8 251.5 336.3C251.2 335.9 252.1 333.3 252.2 332.1C252.3 331 252.1 330.4 252 329.3C251.8 328.2 251.4 326.4 251.5 325.6C251.6 324.8 252.2 324.7 252.6 324.3C252.9 323.9 252.8 323.2 253.4 323.4C254.1 323.6 255.6 324.7 256.3 325.6C257 326.5 257.7 327.7 257.7 328.9Z"/>
<clipPath id="c104"><use href="#b104"/></clipPath>
<path id="b105" d="M269.8 321.1C270 322.3 271 323.7 271 325.1C270.9 326.5 270.1 327.8 269.4 329.2C268.6 330.7 267.5 333.2 266.5 334C265.4 334.8 264.2 334.9 263.1 334.1C262 333.3 260.7 331.1 259.9 329.2C259 327.3 258.3 324.6 258 322.9C257.6 321.2 257.6 320.4 257.8 319.1C258 317.7 258.4 316.1 259.3 314.9C260.2 313.7 261.9 311.9 263.3 311.8C264.7 311.7 266.7 313.1 267.7 314.1C268.7 315.1 269.2 316.7 269.6 317.9C269.9 319.1 269.6 319.9 269.8 321.1Z"/>
<clipPath id="c105"><use href="#b105"/></clipPath>
<path id="b106" d="M284.8 319.5C284.4 320.8 283.8 322.8 283.3 323.8C282.7 324.8 282 325.1 281.3 325.5C280.7 325.9 280.3 326.4 279.5 326.2C278.6 326.1 277.2 325.6 276.2 324.6C275.3 323.6 274.2 321.9 273.9 320.3C273.7 318.8 274 316.7 274.7 315.5C275.5 314.2 277 313.5 278.3 312.7C279.5 311.9 281.1 311.2 282.4 310.9C283.6 310.5 285 310.2 285.7 310.4C286.4 310.6 286.6 311.3 286.6 312.2C286.6 313.2 285.8 314.9 285.5 316.1C285.2 317.3 285.2 318.3 284.8 319.5Z"/>
<clipPath id="c106"><use href="#b106"/></clipPath>
<path id="b107" d="M297 314.5C297 315.2 296.7 316.2 296.2 316.7C295.8 317.2 295 317.4 294.4 317.4C293.8 317.4 292.9 317.2 292.5 316.7C292.1 316.3 291.8 315.2 291.9 314.5C291.9 313.8 292.2 312.9 292.6 312.4C293.1 311.9 293.8 311.3 294.4 311.3C295 311.3 295.7 311.9 296.1 312.4C296.6 313 297 313.8 297 314.5Z"/>
<clipPath id="c107"><use href="#b107"/></clipPath>
<path id="b108" d="M253.9 342.7C254.3 344.1 254.6 344.7 255.3 345.7C256 346.8 257.6 348.1 257.9 348.8C258.2 349.6 258 350 257.2 350.2C256.4 350.4 254.4 350.1 253.2 349.8C251.9 349.6 251.1 349.3 250 348.6C248.9 348 247.4 346.9 246.7 345.8C245.9 344.6 245.5 343.1 245.5 341.7C245.6 340.3 246.5 338.4 247.1 337.5C247.7 336.7 248.4 337 249.1 336.6C249.9 336.3 251 335.3 251.6 335.4C252.2 335.5 252.5 336 252.8 337.2C253.2 338.5 253.5 341.2 253.9 342.7Z"/>
<clipPath id="c108"><use href="#b108"/></clipPath>
<path id="b109" d="M268.6 344.4C268.5 345.8 269 348.7 268.7 350C268.5 351.3 267.9 351.9 267.1 351.9C266.2 352 264.7 351 263.6 350.5C262.5 350 261.3 349.6 260.5 349C259.7 348.5 259.1 348.2 258.6 347C258.2 345.9 257.6 343.7 257.8 342.3C258.1 341 259.1 339.7 260.2 338.9C261.3 338 263.4 337.5 264.6 337.2C265.8 336.8 266.6 336.6 267.5 336.7C268.4 336.9 269.7 337.1 270 337.9C270.2 338.6 269.3 340.3 269.1 341.4C268.8 342.5 268.7 343 268.6 344.4Z"/>
<clipPath id="c109"><use href="#b109"/></clipPath>
<path id="b110" d="M288.9 334.6C289.1 336.4 287.7 339.2 287.1 340.8C286.4 342.4 285.6 343 285 344.1C284.4 345.3 284.4 347.2 283.3 347.7C282.1 348.2 279.3 348.1 278 347.3C276.8 346.5 276.8 344.4 275.9 342.7C275.1 341 273.5 338.8 272.9 337.3C272.2 335.8 271.8 335 272.2 333.6C272.5 332.3 273.7 330.2 274.8 329.2C275.9 328.2 277.3 328 278.6 327.8C279.8 327.5 281 327.5 282.3 327.9C283.5 328.3 285 328.8 286.1 329.9C287.2 331.1 288.7 332.8 288.9 334.6Z"/>
<clipPath id="c110"><use href="#b110"/></clipPath>
<path id="b111" d="M300.7 339.7C300.8 341.6 300.7 345.9 300.2 347.8C299.7 349.7 298.6 350.6 297.9 351.1C297.2 351.6 296.8 350.7 296.2 350.8C295.7 350.9 295.1 351.5 294.5 351.5C294 351.4 293.2 351.2 293 350.6C292.8 349.9 293.1 349.3 293.2 347.6C293.3 345.9 293.8 342.3 293.8 340.4C293.9 338.5 293.6 337.9 293.6 336.2C293.5 334.5 293.2 331.4 293.3 330.2C293.4 329 293.7 329.2 294.1 329C294.4 328.8 294.8 328.6 295.4 329C296 329.4 297.2 330.3 297.9 331.4C298.6 332.6 299.4 334.8 299.9 336.1C300.3 337.5 300.7 337.8 300.7 339.7Z"/>
<clipPath id="c111"><use href="#b111"/></clipPath>
<path id="b112" d="M247.5 352C247.6 352.8 247.8 354 247.3 354.5C246.8 355 245.3 355.2 244.4 355.1C243.5 355 242.9 354.4 242.2 353.9C241.6 353.4 240.5 352.7 240.5 352C240.4 351.3 241.4 350.5 242 350C242.7 349.4 243.6 348.8 244.4 348.7C245.2 348.7 246.4 349.3 246.9 349.9C247.4 350.4 247.4 351.2 247.5 352Z"/>
<clipPath id="c112"><use href="#b112"/></clipPath>
<path id="b113" d="M249.3 370.7C249 372.3 248.2 373.3 247.3 374.4C246.3 375.6 244.8 376.8 243.5 377.8C242.3 378.8 240.7 380 239.6 380.4C238.5 380.9 237.2 380.7 236.7 380.3C236.2 380 236.6 379.3 236.9 378.2C237.1 377.1 237.8 375.2 238.3 373.8C238.8 372.3 239.5 370.8 239.9 369.5C240.3 368.1 240.7 367.2 240.8 365.8C240.9 364.4 240.2 362.5 240.3 361.2C240.4 359.9 240.9 358.2 241.4 358C242 357.7 242.8 358.9 243.6 359.6C244.5 360.3 245.6 361.3 246.4 362.2C247.3 363.1 248.3 363.7 248.8 365.1C249.2 366.6 249.5 369.2 249.3 370.7Z"/>
<clipPath id="c113"><use href="#b113"/></clipPath>
<path id="b114" d="M266.1 365.9C265.7 367.6 265.4 370.6 264.6 372C263.8 373.3 262.5 374 261.3 374C260.1 374 258.7 372.4 257.5 371.8C256.3 371.2 254.8 371.4 254.1 370.4C253.3 369.4 253.1 367 253.1 365.8C253.2 364.6 254 364.2 254.3 363.1C254.6 362 254.3 360.5 254.9 359.2C255.4 357.8 256.3 355.9 257.5 355.1C258.7 354.2 260.7 354 262 354.2C263.3 354.3 264.3 354.6 265.1 355.9C265.8 357.2 266.4 360.3 266.6 362C266.8 363.6 266.4 364.2 266.1 365.9Z"/>
<clipPath id="c114"><use href="#b114"/></clipPath>
<path id="b115" d="M285.5 362.7C284.4 363.8 283.7 364.8 282.7 365.7C281.7 366.6 280.3 367.7 279.3 368.1C278.3 368.5 277.5 369.1 276.6 368.3C275.8 367.5 274.4 364.7 274.2 363.2C274 361.7 274.9 360.5 275.4 359.4C275.8 358.2 276.3 357.4 276.9 356.2C277.5 355 277.6 352.8 278.8 352.2C280.1 351.6 283 352.3 284.3 352.5C285.7 352.8 286 353.2 287 353.7C288.1 354.2 290.4 354.8 290.8 355.7C291.1 356.7 290.2 358 289.3 359.2C288.4 360.4 286.6 361.6 285.5 362.7Z"/>
<clipPath id="c115"><use href="#b115"/></clipPath>
<path id="b116" d="M301.6 364.7C301.5 366.1 301.6 368 301.4 369.5C301.2 371.1 300.9 373.3 300.4 374C299.9 374.7 298.9 374.1 298.2 373.8C297.4 373.5 296.7 372.6 295.8 372.2C294.9 371.7 293.7 371.8 292.9 371C292.1 370.1 291.1 368.6 290.9 367.3C290.7 366.1 291.3 364.7 291.6 363.5C291.9 362.4 292 361.5 292.7 360.5C293.5 359.4 294.9 357.7 295.9 357.1C296.9 356.5 297.7 356.4 298.7 357C299.7 357.6 301.5 359.5 302 360.8C302.5 362.1 301.7 363.2 301.6 364.7Z"/>
<path id="b117" d="M253.7 380.5C253.7 381.6 253.2 383.4 252.8 384.1C252.3 384.9 251.5 384.8 251 385C250.4 385.3 249.9 385.6 249.5 385.4C249.1 385.2 248.6 384.5 248.5 383.7C248.5 383 249.1 381.6 249.2 380.6C249.3 379.7 249 379.1 249.1 378.3C249.1 377.5 249.1 376.3 249.4 376C249.7 375.6 250.6 375.7 251.1 376C251.6 376.4 252 377.3 252.5 378C252.9 378.8 253.6 379.5 253.7 380.5Z"/>
<clipPath id="c117"><use href="#b117"/></clipPath>
<path id="b118" d="M287.5 378C287.7 379.3 288.3 380.3 288.1 381.5C288 382.7 287.3 385 286.6 385.5C285.8 386 284.5 384.9 283.7 384.7C282.9 384.6 282.4 384.8 281.7 384.5C280.9 384.2 279.5 383.9 279.1 383C278.7 382.1 279 380.1 279 378.9C279.1 377.7 279.3 376.9 279.3 375.9C279.4 374.8 279.2 373.4 279.3 372.6C279.5 371.8 279.6 371.3 280.3 371C281.1 370.7 282.8 370.4 283.9 370.9C284.9 371.4 286.1 372.9 286.7 374C287.3 375.2 287.3 376.8 287.5 378Z"/>
<clipPath id="c118"><use href="#b118"/></clipPath>
<path id="b119" d="M273.8 389C273 391.9 271.9 395.2 271 398C270.2 400.8 269.7 403.8 268.7 405.8C267.7 407.7 266.2 409.7 265.2 409.7C264.3 409.6 263.7 406.7 263 405.4C262.4 404.2 262.1 403.5 261.3 402.3C260.6 401.1 259.2 400.2 258.4 398C257.6 395.8 256.8 391.9 256.6 389C256.5 386.1 256.9 382.8 257.3 380.5C257.8 378.2 257.8 376.4 259.1 374.9C260.5 373.4 263.7 372 265.3 371.6C267 371.2 267.6 372.3 268.9 372.8C270.2 373.3 272 373.4 273.1 374.7C274.3 376 275.8 378.2 275.9 380.6C276 383 274.7 386.1 273.8 389Z"/>
<clipPath id="c119"><use href="#b119"/></clipPath>
<path id="b120" d="M249.3 391.1C250 392.5 250.2 395.3 250.1 396.9C250 398.4 249.5 399.5 248.5 400.6C247.6 401.8 245.8 403.1 244.7 403.8C243.5 404.4 242.9 404.7 241.6 404.6C240.2 404.4 237.9 404.1 236.9 402.9C235.8 401.6 235.4 398.7 235.2 397.1C235 395.5 235.9 394.8 235.8 393.3C235.7 391.8 234.3 389.7 234.7 388C235.2 386.4 237.2 383.6 238.6 383.2C239.9 382.9 241.6 385.3 242.8 386.1C244 386.9 244.8 387.2 245.9 388C247 388.9 248.6 389.6 249.3 391.1Z"/>
<clipPath id="c120"><use href="#b120"/></clipPath>
<path id="b121" d="M301.6 396.5C301.5 398.4 301.2 401 300.4 402.6C299.5 404.3 297.6 405.5 296.4 406.3C295.1 407.1 294.1 406.8 292.8 407.4C291.6 408 290.4 409.5 289.1 409.8C287.7 410.1 285.5 410.7 284.7 409.4C283.8 408 283.9 403.7 284 401.7C284.1 399.6 285.6 398.6 285.5 397.2C285.5 395.7 283.6 395 283.6 393C283.5 391 284.2 386.2 285.3 385.1C286.4 384 288.7 385.9 289.9 386.2C291.1 386.5 291.2 386.9 292.5 387C293.8 387 296 385.8 297.5 386.6C299 387.4 300.7 389.9 301.4 391.5C302.1 393.2 301.8 394.7 301.6 396.5Z"/>
<clipPath id="c121"><use href="#b121"/></clipPath>
<path id="b122" d="M306.7 384.3C307.2 385.5 308.1 386.4 308.3 388C308.5 389.6 308.1 392.7 307.8 394C307.4 395.3 306.8 395.5 306.1 395.8C305.4 396.1 304.4 395.9 303.5 395.7C302.7 395.5 301.6 395 300.8 394.5C300 393.9 299.3 393.5 298.7 392.2C298.1 391 297.5 388.7 297.2 387C296.9 385.3 297 383.3 297 381.9C296.9 380.5 296.6 379.7 296.7 378.5C296.9 377.4 297 375.5 297.6 375C298.2 374.4 299.4 374.9 300.4 375.4C301.5 376 303 377.3 303.9 378.2C304.7 379.2 305.2 380.2 305.7 381.2C306.2 382.2 306.3 383.2 306.7 384.3Z"/>
<clipPath id="c122"><use href="#b122"/></clipPath>
<path id="b123" d="M258.8 406.1C259 407.5 259.5 410 259.1 411.5C258.7 413.1 257.1 414.6 256.3 415.4C255.4 416.2 254.7 416.1 254 416.1C253.3 416.2 252.8 416.5 252.2 415.8C251.6 415.2 250.7 413.5 250.5 412.2C250.3 411 250.8 409.9 250.9 408.3C251 406.8 251.3 404.6 251.1 402.8C250.8 400.9 249.2 398.2 249.4 397.3C249.5 396.4 250.9 396.9 251.8 397.2C252.7 397.6 253.8 398.3 254.8 399.3C255.8 400.3 257.2 402 257.8 403.1C258.5 404.2 258.6 404.7 258.8 406.1Z"/>
<clipPath id="c123"><use href="#b123"/></clipPath>
<path id="b124" d="M280.8 404.9C280.9 405.9 281.2 407.3 281.1 407.9C281 408.6 280.5 408.6 280.1 409C279.7 409.4 279.5 410.6 278.8 410.4C278.2 410.1 276.7 408.7 276.2 407.6C275.6 406.5 275.5 405 275.5 404C275.5 403 275.7 402.5 276.2 401.7C276.6 400.9 277.5 399.6 278.3 399.1C279 398.5 280 398 280.4 398.5C280.8 398.9 280.4 400.8 280.5 401.8C280.5 402.9 280.7 403.9 280.8 404.9Z"/>
<clipPath id="c124"><use href="#b124"/></clipPath>
<path id="b125" d="M282 414.4C281.9 415 281.7 416.4 281.1 416.9C280.5 417.5 279.2 417.6 278.4 417.9C277.6 418.1 277.1 418.6 276.4 418.5C275.6 418.3 274.8 417.6 274 416.9C273.3 416.2 271.8 414.9 271.7 414.2C271.6 413.6 272.9 413.3 273.6 412.9C274.4 412.6 275.1 412.5 276.2 412.2C277.2 412 279 411.3 279.8 411.5C280.7 411.6 281.2 412.6 281.5 413.1C281.9 413.5 282.1 413.7 282 414.4Z"/>
<clipPath id="c125"><use href="#b125"/></clipPath>
<path id="b126" d="M243.3 416.7C243.2 417.3 242.8 417.7 242.2 418C241.6 418.3 240.4 418.5 239.6 418.6C238.9 418.7 238.3 418.7 237.6 418.6C236.9 418.5 236.1 418.3 235.5 418C234.9 417.7 234.2 417.4 234.1 416.9C234 416.4 234.2 415.7 234.8 415C235.4 414.4 236.9 413.4 237.8 413.1C238.7 412.8 239.3 412.9 240.1 413.2C241 413.5 242.1 414.4 242.7 415C243.2 415.5 243.4 416.2 243.3 416.7Z"/>
<clipPath id="c126"><use href="#b126"/></clipPath>
<path id="b127" d="M296.2 417.6C296.4 418.1 296.8 418.7 296.3 418.9C295.7 419.2 293.9 419.1 292.9 419.1C291.8 419.1 291.1 418.9 290 419C289 419 287.3 419.5 286.8 419.2C286.2 418.9 286.7 417.6 286.8 417.1C287 416.5 287.2 416.2 287.5 415.7C287.9 415.2 288.3 414.4 289.2 414.2C290.2 414 292.2 414.1 293.2 414.4C294.2 414.7 294.7 415.4 295.2 415.9C295.7 416.5 296 417.1 296.2 417.6Z"/>
<clipPath id="c127"><use href="#b127"/></clipPath>
<path id="b128" d="M315.8 417.2C315.9 418 315.5 418.5 314.8 418.8C314.1 419 312.8 418.6 311.6 418.7C310.5 418.7 309.2 419.1 308.1 419.1C307 419.2 305.4 419.5 305 419.1C304.5 418.7 305.3 417.4 305.3 416.6C305.3 415.9 304.3 415.5 304.8 414.5C305.4 413.6 307.6 411.5 308.6 411C309.7 410.6 310 411.2 311 411.6C312 412.1 313.8 412.8 314.7 413.8C315.5 414.7 315.8 416.4 315.8 417.2Z"/>
<clipPath id="c128"><use href="#b128"/></clipPath>
<path id="b129" d="M143.1 416.9C143.5 417.6 144.6 417.7 144.4 418.8C144.3 419.8 143.1 422.4 142.2 423.2C141.3 423.9 140.2 423.2 139 423.2C137.8 423.2 136.1 423.5 135.1 423.1C134 422.6 132.9 421.1 132.7 420.4C132.6 419.7 133.4 419.4 134.1 418.9C134.7 418.5 135.8 418.3 136.6 417.9C137.5 417.4 138.2 416.7 139.1 416.2C140 415.7 141.3 414.8 142 414.9C142.7 415 142.7 416.3 143.1 416.9Z"/>
<clipPath id="c129"><use href="#b129"/></clipPath>
<path id="b130" d="M156.1 417.5C156 418.5 155.6 420.1 155 420.8C154.4 421.5 153.1 421.7 152.4 421.8C151.8 421.9 151.4 421.7 151 421.4C150.6 421.1 150 420.7 150 420C150 419.4 150.9 418.2 151.1 417.4C151.3 416.7 151.1 416.2 151.2 415.6C151.2 414.9 151 413.8 151.2 413.4C151.4 413 151.7 412.8 152.4 413.1C153.1 413.4 154.9 414.2 155.5 415C156.1 415.7 156.2 416.6 156.1 417.5Z"/>
<path id="b131" d="M216.2 417.5C217 418.9 219.7 421.1 219.7 423C219.8 425 218.1 428 216.6 429.3C215.1 430.5 212.4 430.5 210.8 430.7C209.1 430.9 208.2 430.7 206.8 430.5C205.4 430.3 204.1 430.4 202.4 429.4C200.8 428.4 197.7 426.2 196.9 424.4C196 422.7 196.7 420.7 197.6 419.1C198.5 417.6 201 416.3 202.2 415C203.4 413.7 203.2 412.4 204.6 411.4C205.9 410.5 208.8 408.8 210.4 409.4C212.1 409.9 213.6 413.4 214.5 414.8C215.5 416.1 215.3 416.1 216.2 417.5Z"/>
<clipPath id="c131"><use href="#b131"/></clipPath>
<path id="b132" d="M229.7 431.9C229.4 433.4 228.6 434.1 227.7 435.1C226.8 436.1 225.3 437.2 224.3 438C223.3 438.8 222.7 439.5 221.6 439.6C220.6 439.8 219.2 439.8 217.8 438.8C216.3 437.7 213.7 435 212.9 433.4C212.2 431.7 212.4 430.7 213.1 429C213.8 427.3 216 424.9 217.3 423.2C218.6 421.6 219.6 419.9 221.1 419.1C222.5 418.4 225 418 226 418.6C227 419.2 226.5 421.6 227.1 422.8C227.7 424 229.2 424.3 229.7 425.8C230.1 427.3 230 430.3 229.7 431.9Z"/>
<clipPath id="c132"><use href="#b132"/></clipPath>
<path id="b133" d="M135.7 435.8C134.8 437.1 133.3 438.8 132.2 439.8C131.1 440.8 130.6 441.4 129.2 442C127.9 442.6 126.2 443.6 124.3 443.3C122.5 443 119.6 441.7 118.3 440.3C117 439 117 436.7 116.6 435.3C116.2 433.9 116.2 433.7 115.9 432.2C115.7 430.7 114.6 428.1 114.9 426.4C115.3 424.7 116.8 422.6 118 421.9C119.3 421.1 120.8 421.1 122.4 421.9C123.9 422.7 126.1 425.8 127.3 426.9C128.4 427.9 127.9 427.9 129.1 428C130.3 428.1 132.9 426.6 134.4 427.3C135.8 428 137.3 430.7 137.6 432.2C137.8 433.6 136.6 434.5 135.7 435.8Z"/>
<clipPath id="c133"><use href="#b133"/></clipPath>
<path id="b134" d="M149.4 430.8C149.2 432.2 148.7 434.6 148.1 435.6C147.5 436.6 146.4 437.1 145.6 437.1C144.8 437.1 144.1 436.2 143.3 435.5C142.5 434.8 141.3 434 140.8 433.1C140.2 432.2 139.6 431.2 139.8 430.1C140 429 141.3 427.3 142.1 426.5C142.9 425.7 143.8 425.4 144.7 425.1C145.6 424.8 146.8 424.5 147.5 424.9C148.3 425.3 149 426.6 149.3 427.6C149.6 428.5 149.6 429.5 149.4 430.8Z"/>
<clipPath id="c134"><use href="#b134"/></clipPath>
<path id="b135" d="M158 438.9C157.4 439.8 158.1 440 157.7 441.2C157.3 442.4 156.4 445.7 155.7 446C155 446.2 154.4 443.4 153.7 442.8C153 442.2 152 443 151.4 442.3C150.8 441.6 149.9 440 150.1 438.7C150.2 437.4 151.4 435.5 152.2 434.4C153 433.2 153.8 432.4 154.8 431.8C155.7 431.2 156.7 430.7 157.7 430.6C158.7 430.5 160.1 430.8 160.9 431.1C161.8 431.4 162.8 431.9 162.9 432.7C162.9 433.4 161.9 434.6 161.1 435.6C160.3 436.7 158.6 438 158 438.9Z"/>
<clipPath id="c135"><use href="#b135"/></clipPath>
<path id="b136" d="M178.6 435.4C178.1 435.8 177.4 436.3 176.6 436.5C175.8 436.8 174.8 437.3 173.7 437C172.6 436.7 171.1 435.4 169.9 434.6C168.7 433.9 167.5 433 166.6 432.3C165.6 431.6 164.7 431.1 164.2 430.4C163.7 429.8 163.2 428.9 163.7 428.2C164.2 427.5 166 426.5 167.1 426.1C168.2 425.7 169.2 425.8 170.5 426.1C171.8 426.3 173.4 426.8 174.8 427.5C176.1 428.2 177.8 429.1 178.6 430.2C179.5 431.3 179.9 433.3 179.8 434.1C179.8 435 179.1 435 178.6 435.4Z"/>
<clipPath id="c136"><use href="#b136"/></clipPath>
<path id="b137" d="M188.8 440.5C188.7 441.7 189.2 443.6 188.6 444.6C188 445.5 186.1 445.9 185.2 446C184.2 446.1 183.5 445.9 182.8 445.3C182 444.8 181 443.9 180.6 442.9C180.3 442 180.5 440.6 180.7 439.5C180.9 438.4 181.2 437.2 181.9 436.3C182.5 435.5 183.6 434.6 184.6 434.1C185.6 433.7 187.2 433.2 188 433.8C188.7 434.3 189.1 436.2 189.2 437.3C189.4 438.4 188.9 439.3 188.8 440.5Z"/>
<clipPath id="c137"><use href="#b137"/></clipPath>
<path id="b138" d="M204 444.9C203.6 446.6 202.8 447.4 202 448.3C201.1 449.3 200.2 450.2 198.9 450.8C197.6 451.3 195.3 451.9 194.2 451.8C193.1 451.7 192.3 451.3 192.3 450.1C192.4 448.9 194.2 446.2 194.7 444.8C195.1 443.4 195.3 443 195.3 441.7C195.3 440.4 194.4 438.6 194.6 437C194.9 435.5 196.1 432.9 196.9 432.3C197.7 431.8 198.6 433.3 199.4 433.7C200.2 434.1 201.1 434.2 202 435C202.8 435.7 204.2 436.5 204.6 438.1C204.9 439.8 204.4 443.2 204 444.9Z"/>
<clipPath id="c138"><use href="#b138"/></clipPath>
<path id="b139" d="M224 444.5C223.7 445.5 222 446.6 221.1 447.3C220.2 448.1 219.7 449 218.5 449.1C217.2 449.3 214.7 448.8 213.6 448.2C212.4 447.6 212.2 446.6 211.7 445.7C211.2 444.8 210.5 443.7 210.5 442.7C210.6 441.7 211.1 440.4 212 439.7C212.9 439 214.8 438.7 216 438.7C217.2 438.7 218 439 219.2 439.5C220.3 439.9 222.1 440.6 222.9 441.4C223.7 442.3 224.3 443.5 224 444.5Z"/>
<path id="b140" d="M117.9 443.5C117.6 444.6 116.5 446.4 115.8 447.2C115 448 114.2 447.9 113.4 448.2C112.6 448.6 111.2 449.5 110.8 449.1C110.5 448.7 111 447 111.2 445.9C111.5 444.9 112.3 443.7 112.5 442.6C112.6 441.5 112.2 440.3 112.3 439.3C112.5 438.4 112.8 437.2 113.2 437C113.7 436.7 114.3 437.3 114.9 437.9C115.5 438.5 116.6 439.6 117.1 440.5C117.6 441.5 118.1 442.3 117.9 443.5Z"/>
<clipPath id="c140"><use href="#b140"/></clipPath>
<path id="b141" d="M128 451.8C127.7 453.1 127 454.3 126.3 455.1C125.7 456 125.3 456.2 124.1 456.9C122.9 457.6 120 459.3 119 459.5C117.9 459.7 117.6 459.2 117.8 458.3C117.9 457.4 119.3 455.3 119.7 454C120.1 452.8 120 452.2 120.1 450.8C120.1 449.4 119.8 447 119.9 445.6C120.1 444.3 120.4 443.2 120.9 442.7C121.5 442.2 122.3 442.6 123.1 442.8C123.9 443 124.9 443.1 125.8 443.9C126.6 444.7 127.9 446.2 128.2 447.5C128.6 448.9 128.3 450.6 128 451.8Z"/>
<clipPath id="c141"><use href="#b141"/></clipPath>
<path id="b142" d="M147.6 449.2C148 449.9 148.9 451.4 148.4 452.4C147.9 453.4 145.6 454.6 144.5 455.3C143.3 456 143 456.5 141.6 456.8C140.3 457.2 137.8 457.6 136.4 457.5C135 457.5 134.2 457.3 133 456.5C131.9 455.7 129.6 453.7 129.5 452.8C129.3 451.9 131.1 451.9 132 451.4C133 450.9 134.2 450.3 135.2 449.7C136.3 449.2 136.8 448.6 138.3 448.1C139.8 447.6 143 446.8 144.3 446.8C145.6 446.8 145.5 447.7 146.1 448.1C146.6 448.5 147.2 448.5 147.6 449.2Z"/>
<clipPath id="c142"><use href="#b142"/></clipPath>
<path id="b143" d="M173.8 451.4C173.6 453.1 173.4 455.1 172.6 456.3C171.7 457.5 169.7 458.2 168.6 458.6C167.6 459.1 167 458.8 166 459C165 459.1 163.9 459.9 162.6 459.5C161.4 459 159.6 457.6 158.7 456.3C157.7 454.9 157.3 452.9 157.2 451.3C157.1 449.8 157.3 448.4 158.1 447.2C158.8 446.1 160.1 445.2 161.5 444.4C163 443.5 164.8 442.4 166.6 442.1C168.4 441.9 171.1 442.2 172.3 442.9C173.5 443.6 173.7 444.8 173.9 446.3C174.2 447.7 174.1 449.8 173.8 451.4Z"/>
<clipPath id="c143"><use href="#b143"/></clipPath>
<path id="b144" d="M176.9 445.1C176.6 445.6 175.6 445.8 174.8 446C174.1 446.2 173 446.7 172.3 446.5C171.6 446.3 170.9 445.2 170.5 444.6C170.2 443.9 169.9 443.2 170 442.6C170.2 442 170.7 441.1 171.3 440.9C172 440.8 173.2 441.4 174.1 441.7C174.9 442.1 176 442.4 176.5 442.9C176.9 443.5 177.1 444.6 176.9 445.1Z"/>
<clipPath id="c144"><use href="#b144"/></clipPath>
<path id="b145" d="M196.3 455.5C196.2 456.3 195.8 457.6 194.9 458.7C194 459.7 192.5 461.3 190.9 461.9C189.4 462.6 187.3 462.6 185.7 462.5C184.2 462.4 182.9 462.3 181.8 461.3C180.6 460.3 179.1 457.6 178.8 456.3C178.6 455.1 180 454.6 180.2 453.8C180.4 452.9 179.8 451.9 180.2 451.3C180.6 450.7 181.4 449.7 182.6 450.1C183.8 450.6 186.3 453.4 187.5 454.1C188.7 454.9 188.5 454.7 189.8 454.6C191.2 454.5 194.4 453.6 195.5 453.7C196.6 453.9 196.4 454.6 196.3 455.5Z"/>
<clipPath id="c145"><use href="#b145"/></clipPath>
<path id="b146" d="M220.7 456.3C220.3 457.6 221.2 458.2 220.8 459.1C220.3 460.1 219.2 461.4 217.8 461.9C216.4 462.4 214 462.4 212.3 462.3C210.6 462.1 208.7 461.7 207.5 460.9C206.2 460 205.4 458.3 204.8 457C204.2 455.8 204 454.5 204 453.4C203.9 452.3 203.8 450.8 204.5 450.4C205.3 450.1 206.9 451.1 208.4 451.4C210 451.8 212.1 452.5 213.9 452.4C215.6 452.3 217.4 450.9 219 450.7C220.5 450.5 222.9 450.2 223.2 451.1C223.4 452 221.1 454.9 220.7 456.3Z"/>
<path id="b147" d="M112.7 459.9C112.5 461.2 113.1 462.9 112.9 464C112.7 465 112.2 465.8 111.6 465.9C111.1 466.1 110.2 465 109.5 464.8C108.8 464.6 108.3 465.2 107.6 464.7C106.9 464.1 105.6 462.9 105.4 461.8C105.2 460.7 106 459.2 106.3 458.2C106.7 457.2 106.8 456.8 107.5 455.8C108.2 454.9 109.5 453 110.5 452.4C111.4 451.8 112.5 452.1 113.2 452.2C113.9 452.4 114.4 452.6 114.6 453.2C114.7 453.8 114.2 454.8 113.9 455.9C113.6 457 112.9 458.5 112.7 459.9Z"/>
<clipPath id="c147"><use href="#b147"/></clipPath>
<path id="b148" d="M296.3 421.2C296 422.3 295.7 423.5 295.3 424.5C294.8 425.5 294.4 426.5 293.7 427.1C292.9 427.7 291.7 428.3 290.8 428.1C289.9 427.9 289.1 427 288.4 426.1C287.8 425.2 287.4 423.8 287.1 422.7C286.7 421.6 286.2 420.5 286.3 419.3C286.4 418.1 286.7 416.5 287.6 415.7C288.5 414.9 290.4 414.6 291.5 414.4C292.7 414.2 293.4 414.4 294.2 414.5C295.1 414.7 296.3 414.6 296.8 415.2C297.3 415.8 297.2 417.1 297.1 418.1C297 419.1 296.6 420.1 296.3 421.2Z"/>
<clipPath id="c148"><use href="#b148"/></clipPath>
<path id="b149" d="M252.1 425.5C252.5 426.9 254.2 428 254 429.3C253.8 430.6 252.2 432.3 251.1 433.3C250.1 434.2 249.3 434.2 247.9 434.9C246.5 435.6 244.4 437.3 242.7 437.4C241.1 437.4 238.8 436.5 237.8 435.2C236.9 433.9 237.2 431.5 236.8 429.8C236.4 428 236 426.1 235.6 424.6C235.1 423 233.9 422.1 234.4 420.5C234.9 418.9 237.2 416.1 238.6 415.1C239.9 414.1 241.1 414.6 242.6 414.5C244.1 414.3 246.1 413.7 247.6 414.1C249.1 414.4 250.8 415.7 251.5 416.8C252.2 417.9 251.6 419.3 251.7 420.7C251.8 422.2 251.7 424 252.1 425.5Z"/>
<clipPath id="c149"><use href="#b149"/></clipPath>
<path id="b150" d="M284.4 434.3C283.5 435.7 282.8 436.4 282.3 437.5C281.7 438.6 282.3 439.9 281 440.7C279.6 441.5 276.3 442.7 274.2 442.4C272.2 442 270.2 439.8 268.7 438.8C267.2 437.7 266.2 437.1 265.1 436.1C264.1 435.1 262.8 434.2 262.4 432.9C262.1 431.6 262.4 429.7 262.8 428.3C263.3 427 264.1 425.6 265.1 424.8C266.2 423.9 267.5 422.9 269 423.1C270.4 423.3 272.4 425.5 273.7 426.1C275 426.7 275.1 426.7 276.6 426.6C278.2 426.5 281.2 424.9 283 425.4C284.8 425.8 287.2 427.8 287.5 429.2C287.7 430.7 285.2 432.9 284.4 434.3Z"/>
<clipPath id="c150"><use href="#b150"/></clipPath>
<path id="b151" d="M320.5 423.7C320.4 425.2 320.1 427.5 318.9 429.2C317.7 431 314.8 432.9 313.3 434C311.8 435.1 311 435.4 309.7 436C308.3 436.5 306.7 437.6 305.2 437.4C303.7 437.2 302.1 436.1 300.8 434.8C299.6 433.6 298.7 431.6 297.9 429.7C297 427.8 296.3 425.5 296 423.5C295.6 421.6 295.4 419.7 295.7 418.1C296 416.5 296.5 415.1 297.8 413.9C299.2 412.7 301.6 411.3 303.9 411C306.3 410.7 309.8 411.4 311.8 412.3C313.9 413.1 314.9 414.6 316.2 415.9C317.4 417.2 318.7 418.8 319.4 420.1C320.2 421.4 320.6 422.2 320.5 423.7Z"/>
<clipPath id="c151"><use href="#b151"/></clipPath>
<path id="b152" d="M246 453.1C246.2 454.5 246.1 456.9 245.3 458.5C244.5 460 242.7 461.1 241.3 462.2C240 463.2 238.1 464.7 237.2 464.9C236.3 465.1 236 464.5 235.8 463.4C235.7 462.2 236.2 459.6 236.2 457.9C236.1 456.3 235.7 455.1 235.5 453.5C235.3 451.8 234.9 449.6 234.9 448C235 446.5 235.3 444.9 235.9 444.2C236.5 443.6 237.6 443.6 238.6 444.1C239.7 444.5 241.1 445.7 242 446.7C242.9 447.8 243.6 449.2 244.2 450.3C244.9 451.4 245.8 451.7 246 453.1Z"/>
<clipPath id="c152"><use href="#b152"/></clipPath>
<path id="b153" d="M263.6 449.6C263.2 451.3 262.5 453.9 261.9 455.4C261.4 456.9 260.8 457.6 260.3 458.6C259.9 459.7 260.1 461 259.4 461.7C258.8 462.4 257.5 463.4 256.5 462.8C255.4 462.2 253.9 459.8 253 458.1C252.1 456.4 251.5 454.4 251.2 452.6C250.8 450.9 250.9 449.1 251.1 447.6C251.3 446.1 251.3 445.3 252.4 443.8C253.4 442.3 256 439.5 257.5 438.3C258.9 437.2 260.2 436.7 261.2 436.7C262.2 436.7 263 437.5 263.4 438.3C263.8 439.2 263.5 440.5 263.6 441.6C263.7 442.8 264 443.9 264 445.2C264 446.5 263.9 447.9 263.6 449.6Z"/>
<clipPath id="c153"><use href="#b153"/></clipPath>
<path id="b154" d="M293.9 451.7C293.7 452.7 294.5 454.2 294.3 455.1C294.1 456 293.9 456.9 292.7 457.2C291.6 457.5 289.7 456.8 287.4 456.9C285.1 457 281 457.1 278.8 457.5C276.6 457.9 275.5 459.2 274.1 459.5C272.7 459.8 271.3 459.8 270.5 459.2C269.8 458.7 269.9 457.2 269.6 456.2C269.3 455.3 268.4 455.1 268.9 453.4C269.4 451.7 270.9 447.6 272.7 446.1C274.5 444.6 277.8 444.8 279.6 444.4C281.4 443.9 281.8 443.5 283.4 443.4C285.1 443.2 287.4 442.3 289.4 443.3C291.3 444.3 294.5 448.1 295.3 449.5C296 450.9 294 450.8 293.9 451.7Z"/>
<clipPath id="c154"><use href="#b154"/></clipPath>
<path id="b155" d="M325.5 453.3C325.5 455 326.3 457.2 325.5 459.1C324.8 461 322.8 464 321.1 464.7C319.3 465.5 316.7 464.3 314.9 463.6C313.2 463 311.8 461.5 310.5 460.8C309.1 460.1 308.5 460.7 306.8 459.7C305.2 458.6 301.6 456.3 300.7 454.8C299.8 453.2 300.6 451.8 301.5 450.4C302.4 449 304.7 447.4 305.9 446.2C307.2 445 307.6 443.6 309.1 443.2C310.5 442.8 313.2 443.1 314.7 443.7C316.1 444.3 316.2 446.3 317.8 446.7C319.3 447 322.7 445.4 324 445.8C325.4 446.2 325.6 447.8 325.8 449.1C326.1 450.3 325.6 451.6 325.5 453.3Z"/>
<clipPath id="c155"><use href="#b155"/></clipPath><g id="trab" stroke="#1f1618" stroke-width="1.25" stroke-linejoin="round"><use href="#b0" fill="#f1a88b" stroke="none"/><g clip-path="url(#c0)"><circle cx="143.1" cy="240.8" r="9.2" fill="#dcbcb5"/></g><use href="#b0" fill="none"/>
<use href="#b1" fill="#f1a88b"/>
<use href="#b2" fill="#f1a88b" stroke="none"/><g clip-path="url(#c2)"><circle cx="173.3" cy="233.4" r="5.6" fill="#dcbcb5"/></g><use href="#b2" fill="none"/>
<use href="#b5" fill="#f1a88b" stroke="none"/><g clip-path="url(#c5)"><circle cx="234.7" cy="224" r="3.1" fill="#dcbcb5"/><circle cx="228" cy="238.6" r="3.2" fill="#b9938f"/></g><use href="#b5" fill="none"/>
<use href="#b6" fill="#f1a88b" stroke="none"/><g clip-path="url(#c6)"><circle cx="140.5" cy="250.5" r="8.5" fill="#dcbcb5"/><circle cx="159" cy="258" r="3.2" fill="#b9938f"/></g><use href="#b6" fill="none"/>
<use href="#b7" fill="#f1a88b" stroke="none"/><g clip-path="url(#c7)"><circle cx="176.3" cy="243.3" r="12" fill="#b9938f"/></g><use href="#b7" fill="none"/>
<use href="#b11" fill="#f1a88b" stroke="none"/><g clip-path="url(#c11)"><circle cx="238" cy="243" r="6.2" fill="#b9938f"/><circle cx="230" cy="257.5" r="4" fill="#dcbcb5"/></g><use href="#b11" fill="none"/>
<use href="#b12" fill="#f1a88b" stroke="none"/><g clip-path="url(#c12)"><circle cx="130.4" cy="267.5" r="1.8" fill="#dcbcb5"/></g><use href="#b12" fill="none"/>
<use href="#b13" fill="#f1a88b"/>
<use href="#b14" fill="#f1a88b" stroke="none"/><g clip-path="url(#c14)"><circle cx="165.6" cy="273.6" r="4.2" fill="#b9938f"/></g><use href="#b14" fill="none"/>
<use href="#b20" fill="#f1a88b" stroke="none"/><g clip-path="url(#c20)"><circle cx="231.5" cy="273.5" r="7.5" fill="#dcbcb5"/></g><use href="#b20" fill="none"/>
<use href="#b21" fill="#f1a88b" stroke="none"/><g clip-path="url(#c21)"><circle cx="129.8" cy="273.1" r="3.2" fill="#dcbcb5"/></g><use href="#b21" fill="none"/>
<use href="#b22" fill="#f1a88b" stroke="none"/><g clip-path="url(#c22)"><circle cx="139.3" cy="284" r="2.1" fill="#dcbcb5"/></g><use href="#b22" fill="none"/>
<use href="#b23" fill="#f1a88b"/>
<use href="#b24" fill="#f1a88b" stroke="none"/><g clip-path="url(#c24)"><circle cx="155.7" cy="282.9" r="5.7" fill="#dcbcb5"/><circle cx="162.9" cy="301.1" r="7.2" fill="#dcbcb5"/></g><use href="#b24" fill="none"/>
<use href="#b25" fill="#f1a88b" stroke="none"/><g clip-path="url(#c25)"><circle cx="171.7" cy="272.3" r="10.4" fill="#b9938f"/></g><use href="#b25" fill="none"/>
<use href="#b29" fill="#f1a88b" stroke="none"/><g clip-path="url(#c29)"><circle cx="230.4" cy="283" r="4.8" fill="#dcbcb5"/></g><use href="#b29" fill="none"/>
<use href="#b30" fill="#f1a88b" stroke="none"/><g clip-path="url(#c30)"><circle cx="128.1" cy="283.8" r="8" fill="#dcbcb5"/></g><use href="#b30" fill="none"/>
<use href="#b31" fill="#f1a88b" stroke="none"/><g clip-path="url(#c31)"><circle cx="131" cy="303.5" r="6.5" fill="#dcbcb5"/><circle cx="127" cy="316" r="4" fill="#b9938f"/></g><use href="#b31" fill="none"/>
<use href="#b32" fill="#f1a88b" stroke="none"/><g clip-path="url(#c32)"><circle cx="144.9" cy="278.9" r="22.6" fill="#dcbcb5"/></g><use href="#b32" fill="none"/>
<use href="#b33" fill="#f1a88b" stroke="none"/><g clip-path="url(#c33)"><circle cx="175.9" cy="288.8" r="14.9" fill="#dcbcb5"/></g><use href="#b33" fill="none"/>
<use href="#b36" fill="#f1a88b"/>
<use href="#b37" fill="#f1a88b" stroke="none"/><g clip-path="url(#c37)"><circle cx="255.3" cy="221.8" r="9.4" fill="#dcbcb5"/></g><use href="#b37" fill="none"/>
<use href="#b38" fill="#f1a88b" stroke="none"/><g clip-path="url(#c38)"><circle cx="257.5" cy="220" r="7" fill="#dcbcb5"/><circle cx="267.5" cy="232.5" r="4" fill="#dcbcb5"/></g><use href="#b38" fill="none"/>
<use href="#b39" fill="#f1a88b" stroke="none"/><g clip-path="url(#c39)"><circle cx="251" cy="226.6" r="3" fill="#b9938f"/><circle cx="248.3" cy="240.1" r="4.3" fill="#dcbcb5"/></g><use href="#b39" fill="none"/>
<use href="#b40" fill="#f1a88b" stroke="none"/><g clip-path="url(#c40)"><circle cx="276.7" cy="227.5" r="8.7" fill="#dcbcb5"/></g><use href="#b40" fill="none"/>
<use href="#b41" fill="#f1a88b" stroke="none"/><g clip-path="url(#c41)"><circle cx="283.2" cy="232.1" r="11.7" fill="#dcbcb5"/></g><use href="#b41" fill="none"/>
<use href="#b42" fill="#f1a88b" stroke="none"/><g clip-path="url(#c42)"><circle cx="254" cy="243" r="6" fill="#dcbcb5"/><circle cx="246.3" cy="252.5" r="4" fill="#b9938f"/></g><use href="#b42" fill="none"/>
<use href="#b43" fill="#f1a88b" stroke="none"/><g clip-path="url(#c43)"><circle cx="271.2" cy="238.7" r="17.1" fill="#b9938f"/></g><use href="#b43" fill="none"/>
<use href="#b44" fill="#f1a88b" stroke="none"/><g clip-path="url(#c44)"><circle cx="240.1" cy="265.6" r="3" fill="#dcbcb5"/></g><use href="#b44" fill="none"/>
<use href="#b45" fill="#f1a88b" stroke="none"/><g clip-path="url(#c45)"><circle cx="260" cy="253.6" r="13.1" fill="#dcbcb5"/></g><use href="#b45" fill="none"/>
<use href="#b46" fill="#f1a88b" stroke="none"/><g clip-path="url(#c46)"><circle cx="270.6" cy="271.5" r="5.6" fill="#b9938f"/></g><use href="#b46" fill="none"/>
<use href="#b47" fill="#f1a88b" stroke="none"/><g clip-path="url(#c47)"><circle cx="275.7" cy="292.4" r="8.3" fill="#b9938f"/><circle cx="273" cy="273.9" r="4.2" fill="#dcbcb5"/></g><use href="#b47" fill="none"/>
<use href="#b48" fill="#f1a88b" stroke="none"/><g clip-path="url(#c48)"><circle cx="283.8" cy="300.9" r="24.3" fill="#dcbcb5"/><circle cx="291.3" cy="248.9" r="18.9" fill="#dcbcb5"/></g><use href="#b48" fill="none"/>
<use href="#b49" fill="#f1a88b" stroke="none"/><g clip-path="url(#c49)"><circle cx="256.1" cy="294.2" r="6.3" fill="#dcbcb5"/><circle cx="236.7" cy="291.6" r="6" fill="#b9938f"/></g><use href="#b49" fill="none"/>
<use href="#b50" fill="#f1a88b" stroke="none"/><g clip-path="url(#c50)"><circle cx="271.8" cy="287.6" r="4.2" fill="#b9938f"/><circle cx="273.3" cy="300.2" r="2.7" fill="#dcbcb5"/></g><use href="#b50" fill="none"/>
<use href="#b51" fill="#f1a88b" stroke="none"/><g clip-path="url(#c51)"><circle cx="290" cy="287.6" r="4" fill="#dcbcb5"/><circle cx="287.3" cy="317.3" r="16" fill="#dcbcb5"/></g><use href="#b51" fill="none"/>
<use href="#b52" fill="#f1a88b" stroke="none"/><g clip-path="url(#c52)"><circle cx="261.4" cy="290.1" r="13.7" fill="#b9938f"/></g><use href="#b52" fill="none"/>
<use href="#b53" fill="#f1a88b" stroke="none"/><g clip-path="url(#c53)"><circle cx="250.9" cy="309.2" r="3.2" fill="#dcbcb5"/></g><use href="#b53" fill="none"/>
<use href="#b54" fill="#f1a88b" stroke="none"/><g clip-path="url(#c54)"><circle cx="286.6" cy="310.7" r="2.4" fill="#b9938f"/></g><use href="#b54" fill="none"/>
<use href="#b55" fill="#f1a88b"/>
<use href="#b56" fill="#f1a88b" stroke="none"/><g clip-path="url(#c56)"><circle cx="126.6" cy="335.3" r="16.9" fill="#dcbcb5"/></g><use href="#b56" fill="none"/>
<use href="#b57" fill="#f1a88b" stroke="none"/><g clip-path="url(#c57)"><circle cx="139.1" cy="303.2" r="14" fill="#b9938f"/></g><use href="#b57" fill="none"/>
<use href="#b58" fill="#f1a88b" stroke="none"/><g clip-path="url(#c58)"><circle cx="147.8" cy="326" r="2.7" fill="#b9938f"/></g><use href="#b58" fill="none"/>
<use href="#b59" fill="#f1a88b" stroke="none"/><g clip-path="url(#c59)"><circle cx="165.6" cy="314.1" r="11.8" fill="#b9938f"/></g><use href="#b59" fill="none"/>
<use href="#b60" fill="#f1a88b" stroke="none"/><g clip-path="url(#c60)"><circle cx="157.6" cy="318.2" r="1.9" fill="#b9938f"/></g><use href="#b60" fill="none"/>
<use href="#b61" fill="#f1a88b" stroke="none"/><g clip-path="url(#c61)"><circle cx="166.5" cy="314.2" r="4.8" fill="#b9938f"/><circle cx="170.4" cy="329.4" r="5.1" fill="#dcbcb5"/></g><use href="#b61" fill="none"/>
<use href="#b62" fill="#f1a88b" stroke="none"/><g clip-path="url(#c62)"><circle cx="181.8" cy="331.5" r="6" fill="#b9938f"/></g><use href="#b62" fill="none"/>
<use href="#b63" fill="#f1a88b" stroke="none"/><g clip-path="url(#c63)"><circle cx="192.8" cy="323.9" r="1.9" fill="#dcbcb5"/></g><use href="#b63" fill="none"/>
<use href="#b64" fill="#f1a88b" stroke="none"/><g clip-path="url(#c64)"><circle cx="207.8" cy="332.6" r="3.4" fill="#b9938f"/></g><use href="#b64" fill="none"/>
<use href="#b65" fill="#f1a88b" stroke="none"/><g clip-path="url(#c65)"><circle cx="223.8" cy="315.6" r="7.3" fill="#dcbcb5"/><circle cx="219.4" cy="333.5" r="3.7" fill="#dcbcb5"/></g><use href="#b65" fill="none"/>
<use href="#b66" fill="#f1a88b" stroke="none"/><g clip-path="url(#c66)"><circle cx="140" cy="339.5" r="5.5" fill="#dcbcb5"/></g><use href="#b66" fill="none"/>
<use href="#b67" fill="#f1a88b"/>
<use href="#b68" fill="#f1a88b" stroke="none"/><g clip-path="url(#c68)"><circle cx="159.6" cy="350.5" r="8.9" fill="#dcbcb5"/><circle cx="161.6" cy="330.6" r="3.4" fill="#b9938f"/></g><use href="#b68" fill="none"/>
<use href="#b69" fill="#f1a88b" stroke="none"/><g clip-path="url(#c69)"><circle cx="172.2" cy="332.1" r="2.8" fill="#dcbcb5"/></g><use href="#b69" fill="none"/>
<use href="#b70" fill="#f1a88b" stroke="none"/><g clip-path="url(#c70)"><circle cx="221.3" cy="330.3" r="6.6" fill="#b9938f"/></g><use href="#b70" fill="none"/>
<use href="#b71" fill="#f1a88b" stroke="none"/><g clip-path="url(#c71)"><circle cx="193" cy="333" r="11" fill="#dcbcb5"/><circle cx="209.6" cy="351.4" r="5.7" fill="#b9938f"/></g><use href="#b71" fill="none"/>
<use href="#b72" fill="#f1a88b" stroke="none"/><g clip-path="url(#c72)"><circle cx="221.5" cy="347.5" r="6" fill="#b9938f"/></g><use href="#b72" fill="none"/>
<use href="#b73" fill="#f1a88b" stroke="none"/><g clip-path="url(#c73)"><circle cx="123.5" cy="341.6" r="5.9" fill="#b9938f"/></g><use href="#b73" fill="none"/>
<use href="#b74" fill="#f1a88b" stroke="none"/><g clip-path="url(#c74)"><circle cx="132.1" cy="342.6" r="7.8" fill="#b9938f"/></g><use href="#b74" fill="none"/>
<use href="#b75" fill="#f1a88b" stroke="none"/><g clip-path="url(#c75)"><circle cx="160.2" cy="350.4" r="14.4" fill="#dcbcb5"/><circle cx="139" cy="356.7" r="2.5" fill="#b9938f"/></g><use href="#b75" fill="none"/>
<use href="#b76" fill="#f1a88b" stroke="none"/><g clip-path="url(#c76)"><circle cx="164.7" cy="344.3" r="7.2" fill="#dcbcb5"/><circle cx="164.9" cy="364" r="5.8" fill="#b9938f"/></g><use href="#b76" fill="none"/>
<use href="#b77" fill="#f1a88b" stroke="none"/><g clip-path="url(#c77)"><circle cx="171.4" cy="353" r="2.5" fill="#b9938f"/></g><use href="#b77" fill="none"/>
<use href="#b78" fill="#f1a88b" stroke="none"/><g clip-path="url(#c78)"><circle cx="182.4" cy="344.1" r="10.8" fill="#b9938f"/><circle cx="177.4" cy="382.3" r="21.8" fill="#dcbcb5"/></g><use href="#b78" fill="none"/>
<use href="#b79" fill="#f1a88b" stroke="none"/><g clip-path="url(#c79)"><circle cx="119.3" cy="357.2" r="1.8" fill="#dcbcb5"/></g><use href="#b79" fill="none"/>
<use href="#b80" fill="#f1a88b" stroke="none"/><g clip-path="url(#c80)"><circle cx="147" cy="368.4" r="11.2" fill="#dcbcb5"/></g><use href="#b80" fill="none"/>
<use href="#b81" fill="#f1a88b" stroke="none"/><g clip-path="url(#c81)"><circle cx="159.7" cy="365.7" r="4.2" fill="#b9938f"/><circle cx="132.1" cy="367.4" r="15.9" fill="#dcbcb5"/></g><use href="#b81" fill="none"/>
<use href="#b82" fill="#f1a88b" stroke="none"/><g clip-path="url(#c82)"><circle cx="222" cy="363" r="6.5" fill="#b9938f"/></g><use href="#b82" fill="none"/>
<use href="#b83" fill="#f1a88b" stroke="none"/><g clip-path="url(#c83)"><circle cx="120.6" cy="391.9" r="7.5" fill="#dcbcb5"/></g><use href="#b83" fill="none"/>
<use href="#b84" fill="#f1a88b" stroke="none"/><g clip-path="url(#c84)"><circle cx="130.7" cy="362.6" r="10.7" fill="#b9938f"/></g><use href="#b84" fill="none"/>
<use href="#b85" fill="#f1a88b" stroke="none"/><g clip-path="url(#c85)"><circle cx="138.7" cy="372" r="6.7" fill="#b9938f"/><circle cx="141.4" cy="388.2" r="3.8" fill="#dcbcb5"/></g><use href="#b85" fill="none"/>
<use href="#b86" fill="#f1a88b" stroke="none"/><g clip-path="url(#c86)"><circle cx="165.3" cy="372.1" r="2.2" fill="#b9938f"/></g><use href="#b86" fill="none"/>
<use href="#b87" fill="#f1a88b" stroke="none"/><g clip-path="url(#c87)"><circle cx="150" cy="377.5" r="7" fill="#dcbcb5"/></g><use href="#b87" fill="none"/>
<use href="#b88" fill="#f1a88b" stroke="none"/><g clip-path="url(#c88)"><circle cx="192.5" cy="379" r="6.5" fill="#b9938f"/><circle cx="176.5" cy="371.5" r="4" fill="#b9938f"/></g><use href="#b88" fill="none"/>
<use href="#b89" fill="#f1a88b" stroke="none"/><g clip-path="url(#c89)"><circle cx="210.6" cy="378.9" r="8.8" fill="#b9938f"/><circle cx="196.9" cy="395.3" r="5" fill="#dcbcb5"/></g><use href="#b89" fill="none"/>
<use href="#b90" fill="#f1a88b" stroke="none"/><g clip-path="url(#c90)"><circle cx="230.4" cy="372.8" r="10.6" fill="#dcbcb5"/></g><use href="#b90" fill="none"/>
<use href="#b91" fill="#f1a88b" stroke="none"/><g clip-path="url(#c91)"><circle cx="172.5" cy="387.5" r="5.5" fill="#b9938f"/></g><use href="#b91" fill="none"/>
<use href="#b92" fill="#f1a88b" stroke="none"/><g clip-path="url(#c92)"><circle cx="184.5" cy="386.8" r="5" fill="#dcbcb5"/><circle cx="185" cy="406.2" r="7" fill="#dcbcb5"/></g><use href="#b92" fill="none"/>
<use href="#b93" fill="#f1a88b" stroke="none"/><g clip-path="url(#c93)"><circle cx="127" cy="391" r="7.5" fill="#dcbcb5"/><circle cx="119" cy="410.5" r="5" fill="#b9938f"/></g><use href="#b93" fill="none"/>
<use href="#b94" fill="#f1a88b" stroke="none"/><g clip-path="url(#c94)"><circle cx="141.5" cy="393" r="7" fill="#b9938f"/></g><use href="#b94" fill="none"/>
<use href="#b95" fill="#f1a88b" stroke="none"/><g clip-path="url(#c95)"><circle cx="220" cy="402" r="7.5" fill="#b9938f"/></g><use href="#b95" fill="none"/>
<use href="#b96" fill="#f1a88b" stroke="none"/><g clip-path="url(#c96)"><circle cx="134.7" cy="407.4" r="3" fill="#b9938f"/></g><use href="#b96" fill="none"/>
<use href="#b97" fill="#f1a88b" stroke="none"/><g clip-path="url(#c97)"><circle cx="166" cy="405.2" r="6.6" fill="#dcbcb5"/></g><use href="#b97" fill="none"/>
<use href="#b98" fill="#f1a88b" stroke="none"/><g clip-path="url(#c98)"><circle cx="190.2" cy="383.4" r="24.5" fill="#dcbcb5"/><circle cx="188.9" cy="451.2" r="29.7" fill="#dcbcb5"/></g><use href="#b98" fill="none"/>
<use href="#b99" fill="#f1a88b" stroke="none"/><g clip-path="url(#c99)"><circle cx="213.4" cy="409.2" r="9.4" fill="#b9938f"/></g><use href="#b99" fill="none"/>
<use href="#b100" fill="#f1a88b" stroke="none"/><g clip-path="url(#c100)"><circle cx="149.6" cy="417" r="6.8" fill="#dcbcb5"/></g><use href="#b100" fill="none"/>
<use href="#b101" fill="#f1a88b" stroke="none"/><g clip-path="url(#c101)"><circle cx="151.5" cy="420.5" r="2.2" fill="#dcbcb5"/></g><use href="#b101" fill="none"/>
<use href="#b102" fill="#f1a88b" stroke="none"/><g clip-path="url(#c102)"><circle cx="234.1" cy="312.9" r="1.8" fill="#b9938f"/></g><use href="#b102" fill="none"/>
<use href="#b103" fill="#f1a88b" stroke="none"/><g clip-path="url(#c103)"><circle cx="244" cy="320" r="6" fill="#dcbcb5"/><circle cx="235" cy="339.5" r="4" fill="#b9938f"/></g><use href="#b103" fill="none"/>
<use href="#b104" fill="#f1a88b" stroke="none"/><g clip-path="url(#c104)"><circle cx="254" cy="320.7" r="6" fill="#dcbcb5"/></g><use href="#b104" fill="none"/>
<use href="#b105" fill="#f1a88b" stroke="none"/><g clip-path="url(#c105)"><circle cx="261" cy="315" r="5.6" fill="#b9938f"/></g><use href="#b105" fill="none"/>
<use href="#b106" fill="#f1a88b" stroke="none"/><g clip-path="url(#c106)"><circle cx="288.5" cy="298.3" r="19.9" fill="#dcbcb5"/><circle cx="279.6" cy="329.7" r="7.5" fill="#dcbcb5"/></g><use href="#b106" fill="none"/>
<use href="#b107" fill="#f1a88b" stroke="none"/><g clip-path="url(#c107)"><circle cx="293.5" cy="311.8" r="2" fill="#b9938f"/></g><use href="#b107" fill="none"/>
<use href="#b108" fill="#f1a88b" stroke="none"/><g clip-path="url(#c108)"><circle cx="240.9" cy="324.4" r="18.3" fill="#dcbcb5"/><circle cx="253.7" cy="349.2" r="3" fill="#dcbcb5"/></g><use href="#b108" fill="none"/>
<use href="#b109" fill="#f1a88b" stroke="none"/><g clip-path="url(#c109)"><circle cx="264" cy="353" r="6.3" fill="#b9938f"/><circle cx="268.9" cy="339.1" r="2.9" fill="#dcbcb5"/></g><use href="#b109" fill="none"/>
<use href="#b110" fill="#f1a88b" stroke="none"/><g clip-path="url(#c110)"><circle cx="275" cy="335" r="6.5" fill="#b9938f"/></g><use href="#b110" fill="none"/>
<use href="#b111" fill="#f1a88b" stroke="none"/><g clip-path="url(#c111)"><circle cx="294.8" cy="305" r="32.8" fill="#dcbcb5"/></g><use href="#b111" fill="none"/>
<use href="#b112" fill="#f1a88b" stroke="none"/><g clip-path="url(#c112)"><circle cx="254.3" cy="350.6" r="9.1" fill="#b9938f"/></g><use href="#b112" fill="none"/>
<use href="#b113" fill="#f1a88b" stroke="none"/><g clip-path="url(#c113)"><circle cx="247.1" cy="357.6" r="7.6" fill="#dcbcb5"/><circle cx="238.2" cy="383.7" r="10.6" fill="#b9938f"/></g><use href="#b113" fill="none"/>
<use href="#b114" fill="#f1a88b" stroke="none"/><g clip-path="url(#c114)"><circle cx="255" cy="370" r="6" fill="#dcbcb5"/></g><use href="#b114" fill="none"/>
<use href="#b115" fill="#f1a88b" stroke="none"/><g clip-path="url(#c115)"><circle cx="277.5" cy="354.5" r="6" fill="#b9938f"/></g><use href="#b115" fill="none"/>
<use href="#b116" fill="#f1a88b"/>
<use href="#b117" fill="#f1a88b" stroke="none"/><g clip-path="url(#c117)"><circle cx="251.3" cy="387.6" r="5.1" fill="#dcbcb5"/></g><use href="#b117" fill="none"/>
<use href="#b118" fill="#f1a88b" stroke="none"/><g clip-path="url(#c118)"><circle cx="286.7" cy="387.4" r="7.7" fill="#dcbcb5"/><circle cx="283.9" cy="368.6" r="5.9" fill="#b9938f"/></g><use href="#b118" fill="none"/>
<use href="#b119" fill="#f1a88b" stroke="none"/><g clip-path="url(#c119)"><circle cx="267" cy="374.5" r="8.2" fill="#dcbcb5"/><circle cx="261.2" cy="398.5" r="3.9" fill="#b9938f"/></g><use href="#b119" fill="none"/>
<use href="#b120" fill="#f1a88b" stroke="none"/><g clip-path="url(#c120)"><circle cx="238.1" cy="389.5" r="5.8" fill="#b9938f"/></g><use href="#b120" fill="none"/>
<use href="#b121" fill="#f1a88b" stroke="none"/><g clip-path="url(#c121)"><circle cx="287" cy="388" r="8" fill="#dcbcb5"/></g><use href="#b121" fill="none"/>
<use href="#b122" fill="#f1a88b" stroke="none"/><g clip-path="url(#c122)"><circle cx="299.5" cy="378" r="6" fill="#dcbcb5"/></g><use href="#b122" fill="none"/>
<use href="#b123" fill="#f1a88b" stroke="none"/><g clip-path="url(#c123)"><circle cx="253.1" cy="421.7" r="11" fill="#b9938f"/></g><use href="#b123" fill="none"/>
<use href="#b124" fill="#f1a88b" stroke="none"/><g clip-path="url(#c124)"><circle cx="279.7" cy="390.9" r="10.8" fill="#dcbcb5"/></g><use href="#b124" fill="none"/>
<use href="#b125" fill="#f1a88b" stroke="none"/><g clip-path="url(#c125)"><circle cx="272.6" cy="416.5" r="2.4" fill="#b9938f"/></g><use href="#b125" fill="none"/>
<use href="#b126" fill="#f1a88b" stroke="none"/><g clip-path="url(#c126)"><circle cx="233.9" cy="415.2" r="2.8" fill="#dcbcb5"/></g><use href="#b126" fill="none"/>
<use href="#b127" fill="#f1a88b" stroke="none"/><g clip-path="url(#c127)"><circle cx="297.5" cy="417.6" r="5.4" fill="#dcbcb5"/></g><use href="#b127" fill="none"/>
<use href="#b128" fill="#f1a88b" stroke="none"/><g clip-path="url(#c128)"><circle cx="317.8" cy="413.9" r="4.5" fill="#dcbcb5"/></g><use href="#b128" fill="none"/>
<use href="#b129" fill="#f1a88b" stroke="none"/><g clip-path="url(#c129)"><circle cx="143.8" cy="415" r="4.6" fill="#dcbcb5"/></g><use href="#b129" fill="none"/>
<use href="#b130" fill="#f1a88b"/>
<use href="#b131" fill="#f1a88b" stroke="none"/><g clip-path="url(#c131)"><circle cx="208.3" cy="421.3" r="16" fill="#b9938f"/></g><use href="#b131" fill="none"/>
<use href="#b132" fill="#f1a88b" stroke="none"/><g clip-path="url(#c132)"><circle cx="215.4" cy="452.3" r="20.6" fill="#dcbcb5"/></g><use href="#b132" fill="none"/>
<use href="#b133" fill="#f1a88b" stroke="none"/><g clip-path="url(#c133)"><circle cx="133.5" cy="437" r="6.5" fill="#dcbcb5"/></g><use href="#b133" fill="none"/>
<use href="#b134" fill="#f1a88b" stroke="none"/><g clip-path="url(#c134)"><circle cx="143.6" cy="424.6" r="3.4" fill="#dcbcb5"/></g><use href="#b134" fill="none"/>
<use href="#b135" fill="#f1a88b" stroke="none"/><g clip-path="url(#c135)"><circle cx="148.4" cy="457.7" r="17.6" fill="#b9938f"/><circle cx="168.7" cy="417.2" r="20.6" fill="#dcbcb5"/></g><use href="#b135" fill="none"/>
<use href="#b136" fill="#f1a88b" stroke="none"/><g clip-path="url(#c136)"><circle cx="181.6" cy="436.8" r="7.3" fill="#dcbcb5"/></g><use href="#b136" fill="none"/>
<use href="#b137" fill="#f1a88b" stroke="none"/><g clip-path="url(#c137)"><circle cx="187.2" cy="432.9" r="4.1" fill="#dcbcb5"/></g><use href="#b137" fill="none"/>
<use href="#b138" fill="#f1a88b" stroke="none"/><g clip-path="url(#c138)"><circle cx="197.6" cy="432.5" r="5.6" fill="#b9938f"/><circle cx="194" cy="449.1" r="3.5" fill="#dcbcb5"/></g><use href="#b138" fill="none"/>
<use href="#b139" fill="#f1a88b"/>
<use href="#b140" fill="#f1a88b" stroke="none"/><g clip-path="url(#c140)"><circle cx="114.5" cy="449.5" r="5" fill="#b9938f"/></g><use href="#b140" fill="none"/>
<use href="#b141" fill="#f1a88b" stroke="none"/><g clip-path="url(#c141)"><circle cx="122.9" cy="439.6" r="9" fill="#dcbcb5"/></g><use href="#b141" fill="none"/>
<use href="#b142" fill="#f1a88b" stroke="none"/><g clip-path="url(#c142)"><circle cx="128" cy="456.9" r="7.5" fill="#b9938f"/></g><use href="#b142" fill="none"/>
<use href="#b143" fill="#f1a88b" stroke="none"/><g clip-path="url(#c143)"><circle cx="161" cy="446" r="7" fill="#dcbcb5"/><circle cx="171" cy="455.5" r="4" fill="#b9938f"/></g><use href="#b143" fill="none"/>
<use href="#b144" fill="#f1a88b" stroke="none"/><g clip-path="url(#c144)"><circle cx="169" cy="443.2" r="2.2" fill="#dcbcb5"/></g><use href="#b144" fill="none"/>
<use href="#b145" fill="#f1a88b" stroke="none"/><g clip-path="url(#c145)"><circle cx="198.3" cy="456.9" r="9.3" fill="#dcbcb5"/><circle cx="167.8" cy="451.5" r="15.9" fill="#dcbcb5"/></g><use href="#b145" fill="none"/>
<use href="#b146" fill="#f1a88b"/>
<use href="#b147" fill="#f1a88b" stroke="none"/><g clip-path="url(#c147)"><circle cx="112.8" cy="452.1" r="5.9" fill="#dcbcb5"/></g><use href="#b147" fill="none"/>
<use href="#b148" fill="#f1a88b" stroke="none"/><g clip-path="url(#c148)"><circle cx="292.3" cy="410.3" r="7.3" fill="#dcbcb5"/><circle cx="287.2" cy="427.7" r="5.2" fill="#dcbcb5"/></g><use href="#b148" fill="none"/>
<use href="#b149" fill="#f1a88b" stroke="none"/><g clip-path="url(#c149)"><circle cx="239" cy="417.5" r="7" fill="#dcbcb5"/><circle cx="251.5" cy="424" r="4" fill="#b9938f"/></g><use href="#b149" fill="none"/>
<use href="#b150" fill="#f1a88b" stroke="none"/><g clip-path="url(#c150)"><circle cx="283.5" cy="436.5" r="7" fill="#dcbcb5"/></g><use href="#b150" fill="none"/>
<use href="#b151" fill="#f1a88b" stroke="none"/><g clip-path="url(#c151)"><circle cx="317" cy="423.5" r="11" fill="#b9938f"/></g><use href="#b151" fill="none"/>
<use href="#b152" fill="#f1a88b" stroke="none"/><g clip-path="url(#c152)"><circle cx="241.1" cy="444.5" r="7.5" fill="#dcbcb5"/><circle cx="243" cy="466" r="8.3" fill="#dcbcb5"/></g><use href="#b152" fill="none"/>
<use href="#b153" fill="#f1a88b" stroke="none"/><g clip-path="url(#c153)"><circle cx="266" cy="416.2" r="28.8" fill="#dcbcb5"/><circle cx="258.9" cy="461.6" r="5.9" fill="#dcbcb5"/></g><use href="#b153" fill="none"/>
<use href="#b154" fill="#f1a88b" stroke="none"/><g clip-path="url(#c154)"><circle cx="271.5" cy="451.5" r="8" fill="#dcbcb5"/></g><use href="#b154" fill="none"/>
<use href="#b155" fill="#f1a88b" stroke="none"/><g clip-path="url(#c155)"><circle cx="318.5" cy="460.5" r="10" fill="#dcbcb5"/></g><use href="#b155" fill="none"/></g><g id="trabx" stroke="#1f1618" stroke-width="1.25" stroke-linejoin="round"><use href="#b3" fill="#f1a88b" stroke="none"/><g clip-path="url(#c3)"><circle cx="207.3" cy="243.2" r="17.2" fill="#b9938f"/><circle cx="179.2" cy="245.1" r="5.1" fill="#b9938f"/></g><use href="#b3" fill="none"/>
<use href="#b4" fill="#f1a88b" stroke="none"/><g clip-path="url(#c4)"><circle cx="213.5" cy="240.5" r="8" fill="#dcbcb5"/></g><use href="#b4" fill="none"/>
<use href="#b8" fill="#f1a88b" stroke="none"/><g clip-path="url(#c8)"><circle cx="183.2" cy="249.7" r="4.3" fill="#dcbcb5"/></g><use href="#b8" fill="none"/>
<use href="#b9" fill="#f1a88b" stroke="none"/><g clip-path="url(#c9)"><circle cx="198.5" cy="243.4" r="5.8" fill="#b9938f"/></g><use href="#b9" fill="none"/>
<use href="#b10" fill="#f1a88b" stroke="none"/><g clip-path="url(#c10)"><circle cx="213.1" cy="267.8" r="8.7" fill="#b9938f"/></g><use href="#b10" fill="none"/>
<use href="#b15" fill="#f1a88b" stroke="none"/><g clip-path="url(#c15)"><circle cx="177.8" cy="277" r="3.5" fill="#dcbcb5"/><circle cx="181.3" cy="259.9" r="6" fill="#dcbcb5"/></g><use href="#b15" fill="none"/>
<use href="#b16" fill="#f1a88b" stroke="none"/><g clip-path="url(#c16)"><circle cx="190.6" cy="269.6" r="3.9" fill="#b9938f"/></g><use href="#b16" fill="none"/>
<use href="#b17" fill="#f1a88b" stroke="none"/><g clip-path="url(#c17)"><circle cx="202.8" cy="267.8" r="3" fill="#b9938f"/><circle cx="195.9" cy="283.5" r="6.1" fill="#b9938f"/></g><use href="#b17" fill="none"/>
<use href="#b18" fill="#f1a88b" stroke="none"/><g clip-path="url(#c18)"><circle cx="207.5" cy="266.5" r="4.4" fill="#dcbcb5"/></g><use href="#b18" fill="none"/>
<use href="#b19" fill="#f1a88b" stroke="none"/><g clip-path="url(#c19)"><circle cx="216.5" cy="292.1" r="9.6" fill="#dcbcb5"/></g><use href="#b19" fill="none"/>
<use href="#b26" fill="#f1a88b" stroke="none"/><g clip-path="url(#c26)"><circle cx="181.3" cy="289" r="5.6" fill="#dcbcb5"/><circle cx="199.8" cy="298.5" r="6.2" fill="#b9938f"/></g><use href="#b26" fill="none"/>
<use href="#b27" fill="#f1a88b" stroke="none"/><g clip-path="url(#c27)"><circle cx="210.2" cy="303.4" r="1.7" fill="#dcbcb5"/></g><use href="#b27" fill="none"/>
<use href="#b28" fill="#f1a88b" stroke="none"/><g clip-path="url(#c28)"><circle cx="224.3" cy="271.9" r="26.7" fill="#dcbcb5"/></g><use href="#b28" fill="none"/>
<use href="#b34" fill="#f1a88b" stroke="none"/><g clip-path="url(#c34)"><circle cx="177.5" cy="302.9" r="2.8" fill="#b9938f"/></g><use href="#b34" fill="none"/>
<use href="#b35" fill="#f1a88b" stroke="none"/><g clip-path="url(#c35)"><circle cx="195.2" cy="315" r="7.4" fill="#dcbcb5"/></g><use href="#b35" fill="none"/></g></defs>
<rect width="1048" height="856" fill="#fff"/>
<clipPath id="silA"><path d="M1 466C3.3 463 9.3 456.6 15 448C20.7 439.4 29.2 428.5 35 414.5C40.8 400.5 45.4 380.8 50 364C54.6 347.2 58.8 330.7 62.5 314C66.2 297.3 69.2 280.7 72.5 264C75.8 247.3 79.6 227.6 82.5 214C85.4 200.4 87.1 192.3 90 182.5C92.9 172.7 96.7 162.1 100 155C103.3 147.9 105.8 144.3 110 140C114.2 135.7 118.3 131.7 125 129C131.7 126.3 139.2 124.8 150 124C160.8 123.2 180.8 124.3 190 124C199.2 123.7 200.8 123 205 122C209.2 121 211.2 119.8 215 118C218.8 116.2 223.3 113.2 227.5 111.2C231.7 109.2 235.8 107.3 240 106.2C244.2 105.1 248.3 104.3 252.5 104.4C256.7 104.5 260.8 105.4 265 106.9C269.2 108.5 273.3 110.7 277.5 113.7C281.7 116.7 286.2 120.8 290 125C293.8 129.2 296.9 133.3 300 138.7C303.1 144.1 306 150.2 308.7 157.5C311.4 164.8 313.9 175.4 316.2 182.5C318.5 189.6 320.6 195.8 322.5 200C324.4 204.2 324.9 204.3 327.5 207.5C330.1 210.7 336.3 217.4 338.1 219.4C336.3 220.1 331.4 222.7 327.5 223.7C323.6 224.7 318.8 225.6 315 225.6C311.2 225.6 307.9 225 305 223.7C302.1 222.4 298.8 218.8 297.5 217.8L296.2 218.6C297.2 219.9 299.8 223.8 302.5 226.2C305.2 228.6 309.2 231.4 312.5 233C315.8 234.6 319.4 235.5 322.5 235.6C325.6 235.7 328 234.6 331 233.8C334 233 339 231.1 340.6 230.6C340.1 232.2 337.9 236.6 337.5 240C337.1 243.4 337.4 246.8 338 251C338.6 255.2 339.6 259 341 265C342.4 271 343 274.7 346.5 287C350 299.3 356.9 322 362 339C367.1 356 371.6 374.2 377 389C382.4 403.8 387 415.2 394.5 428C402 440.8 417.4 459.7 422 466Z"/></clipPath>
<clipPath id="boneA"><path d="M93.5 466C94.8 461.7 99.1 446.8 101.2 440C103.3 433.2 104.3 430.5 106 425C107.7 419.5 109.9 417.4 111.2 407C112.5 396.6 112.9 376.7 113.7 362.5C114.5 348.3 115.6 334.1 116.2 322C116.8 309.9 116.7 299.5 117.5 290C118.3 280.5 120.2 270.8 121.2 265C122.2 259.2 122.9 257.8 123.7 255C124.5 252.2 124.7 251.6 126.2 248C127.7 244.4 130 237.1 132.5 233.7C135 230.3 137.7 228.9 141.2 227.5C144.7 226.1 148.5 225.1 153.7 225.2C158.9 225.3 166.4 226.6 172.5 228C178.6 229.4 185.4 232.5 190 233.7C194.6 234.9 195.6 235.8 200 235C204.4 234.2 210.4 231.8 216.2 228.7C222 225.6 228.3 219.7 235 216.2C241.7 212.7 250.2 207.9 256.2 207.5C262.2 207.1 266.6 210.4 271 214C275.4 217.6 279.2 223.4 282.5 229C285.8 234.6 288.8 241.1 291 247.5C293.2 253.9 294.3 256.8 296 267.5C297.7 278.2 299.5 298.3 301 312C302.5 325.7 303.5 337 305 349.5C306.5 362 307.5 375.4 310 387C312.5 398.6 317.5 411.7 320 419C322.5 426.3 321 423.2 325 431C329 438.8 340.6 460.2 343.8 466Z"/></clipPath>
<path d="M1 466C3.3 463 9.3 456.6 15 448C20.7 439.4 29.2 428.5 35 414.5C40.8 400.5 45.4 380.8 50 364C54.6 347.2 58.8 330.7 62.5 314C66.2 297.3 69.2 280.7 72.5 264C75.8 247.3 79.6 227.6 82.5 214C85.4 200.4 87.1 192.3 90 182.5C92.9 172.7 96.7 162.1 100 155C103.3 147.9 105.8 144.3 110 140C114.2 135.7 118.3 131.7 125 129C131.7 126.3 139.2 124.8 150 124C160.8 123.2 180.8 124.3 190 124C199.2 123.7 200.8 123 205 122C209.2 121 211.2 119.8 215 118C218.8 116.2 223.3 113.2 227.5 111.2C231.7 109.2 235.8 107.3 240 106.2C244.2 105.1 248.3 104.3 252.5 104.4C256.7 104.5 260.8 105.4 265 106.9C269.2 108.5 273.3 110.7 277.5 113.7C281.7 116.7 286.2 120.8 290 125C293.8 129.2 296.9 133.3 300 138.7C303.1 144.1 306 150.2 308.7 157.5C311.4 164.8 313.9 175.4 316.2 182.5C318.5 189.6 320.6 195.8 322.5 200C324.4 204.2 324.9 204.3 327.5 207.5C330.1 210.7 336.3 217.4 338.1 219.4C336.3 220.1 331.4 222.7 327.5 223.7C323.6 224.7 318.8 225.6 315 225.6C311.2 225.6 307.9 225 305 223.7C302.1 222.4 298.8 218.8 297.5 217.8L296.2 218.6C297.2 219.9 299.8 223.8 302.5 226.2C305.2 228.6 309.2 231.4 312.5 233C315.8 234.6 319.4 235.5 322.5 235.6C325.6 235.7 328 234.6 331 233.8C334 233 339 231.1 340.6 230.6C340.1 232.2 337.9 236.6 337.5 240C337.1 243.4 337.4 246.8 338 251C338.6 255.2 339.6 259 341 265C342.4 271 343 274.7 346.5 287C350 299.3 356.9 322 362 339C367.1 356 371.6 374.2 377 389C382.4 403.8 387 415.2 394.5 428C402 440.8 417.4 459.7 422 466Z" fill="#ef95a7"/>
<g clip-path="url(#silA)"><path d="M8 466l.4-.2-.1-.5 0-.6 .2-.5 .5-.2 .9 .1 1.2 .2 .8 .2 .1-.3-.2-.6 .1-.9 .2-.3 .3 .3 .7 0 .4-.3 .1-.5-.2-.8-.4-.8-.1-.9-.3-1.1-.5-1-.1-1.1 .2-.7 .9 0 1.6 .9 2.2 1.7 2.6 1.9 1.6 1.3 .4 .1-.7-1.1-1.5-1.9-1.4-2.1-.9-1.6-.4-1.1 0-.8 .2-.5 .5-.2 .8 0 1 .3 1 .2 .7 .3 .4-.4 .1-.7 0-.3 .8-.1 1.4 .9 1.8 .9 1.3 .7 .1-.3-1.1-1.4-1.9-2.1-1.2-1.8-.7-1.2 0-.8 .4-.4 .7-.1 .9-.1 .8 .3 1.1 .1 1.3 .2 .8 .2 .2-.2 0-.6 .1-.4 .6-.2 1 .1 .8 .3 .3-.4-.8-.8-1.5-1.6-1.1-1.3-.6-1.2-.1-.6 .5-.2 1.1-.2 1.2 .2 1.2 .1 1.1 .4 .9 0 .5 0 .3-.4-.3-.5-.4-.8-.5-.6-.1-.7 .2-.5 .5-.3 .1-.2-.1-.7-.5-.9-.7-1-.4-.8 .3-.5 1.1 0 1.6 .4 2.4 .7 1.7 .7 .7 .1-.1-.7-.9-.8-1-.9-.8-1-.4-.9-.3-.5 0-.6 0-.5 .2-.5 .3-.5 .2-.5 .1-.5 .2-.5 .5-.3 .9-.1 1.9 .4 2.3 .9 1.9 .4 .4-.1-1.3-1-2.4-1.5-2.1-1.6-.9-1 .1-.5 1.1-.3 1 0 .5-.1-.3-.6-.6-.9-.4-.7 .5-.6 1.3 0 2 .6 2.5 .5 1.6 .4 .6-.1-.7-.5-1.7-1.3-2.3-1.2-1.4-1.2-.7-.8 .3-.4 1-.4 1.1-.1 .3-.2-.3-.6-.7-.8-.5-.8 .5-.6 1.5 0 2.6 .4 2.8 .7 1.7 .4 0-.3-1.4-.8-2.1-1.2-2.1-1-1.1-.9-.6-.7 .1-.8 .3-.4 .5-.4 .5-.3 .5-.3 .4-.5 .2-.4 .1-.5 .3-.4 .6-.3 1.3 .1 1.8 0 1.4 .2 .8-.3-.6-.4-1.7-.8-2.2-1.2-1.4-1-.9-.7 0-.8 .7-.3 1.1-.2 1.2-.1 1.1-.2 1-.2 .4-.1 .2-.5-.1-.3-.2-.6-.5-.4-.6-.7-.3-.7-.2-.5 .1-.5 .3-.5 .4-.4 .2-.2 0-.5-.2-.6 0-.5 .3-.4 .8-.4 1.4-.1 1.2 0 .7-.4-.1-.2-.7-.5-.9-.7-1-.8-.8-.7-.8-.7-.6-.7 0-.5 .8-.4 1.3-.1 1.5-.2 1.5-.1 .7-.1 .4-.4 0-.3-.4-.6-.7-.5-1-.7-.6-.7-.2-.5 .2-.5 .4-.4 .2-.2 0-.6-.3-.6-.2-.5-.1-.6 .3-.4 .6-.4 .8-.3 1.1-.2 1 .1 .8-.3 .4-.1 .2-.5 .7-.3 1.9 .2 2.1-.1 .9-.2 .2-.3 .1-.5-.2-.5-1.5-1-2.7-1.3-1.9-1-.3-.6 0-.2 0-.5 .3-.4 .7-.3 .9-.1 .8 .1 .5-.3-.2-.3-.5-.8-.7-.8-.8-.7-.5-.7-.4-1-.4-.7-.3-.7 .3-.6 .8-.2 1.4 .1 1.8 .4 2.1 .4 1.2 .4 .4-.4-.4-.5-.8-.6-.7-.9-.5-.8-.6-.5-.3-.7-.3-.7-.1-.6 .2-.5 .4-.3 .3-.4 .2-.5-.1-.6 .2-.5 .7-.2 1.6 0 2.3 .3 1.8 .4 .5-.1-1-.7-1.9-1-2-1.3-1.2-1-.7-.8 0-.6 .7-.3 1.3-.2 1.3 .1 1.4-.2 .3-.4-.5-.3-.5-.6 .2-.7 1-.2 1.2 .1 .7-.3-.3-.3-1.3-.8-1.5-.8-.8-.9-.4-.6 0-.4 .5-.6 .7-.3 .9-.2 1.1-.2 .9-.3 .2-.5-.5-.3-.6-.6-.2-.5 .6-.4 1-.2 .7-.4-.1-.3-1.3-.7-1.4-.7-1.1-.7-.5-.6 .4-.6 .9-.4 1.1-.3 1.1-.3 .9-.3 .4-.2 .3-.4 .1-.5 .1-.3 0-.5 .2-.2 .2-.5 0-.2-.3-.6-1-.7-1.4-.5-1.3-.7-1.1-.7-.2-.9 .6-.4 1.4-.3 1.8-.3 2.3-.1 1.4-.1 .3-.2-.4-.3-.7-.7-.5-.4-.2-.6 0-.3-.2-.5-.5-.4-.8-.7-.8-.5-.8-.7-.5-.7-.1-.6 .4-.5 1.1-.4 1.4-.4 2.1 .1 1.9 0 1.1-.1-.1-.3-1.1-.5-1.8-.6-1.5-.9-.8-.6-.1-.7 .2-.4 .2-.4 0-.4-.4-.8-.4-.5-.1-.7 .7-.3 1.3-.3 2.3 0 2.1-.1 .9-.1-.5-.3-1.4-.7-1.7-.6-1.2-.7-.6-.5-.2-.6 0-.7 0-.5 .2-.4 .3-.5 .3-.4 .3-.4 .3-.5 .5-.4 1.1-.3 1.5 0 1.5-.2 .6-.2-.7-.4-1.9-.8-2.1-.6-1.3-.7-.4-.9 .2-.4 .8-.4 .8-.4 .7-.4 .4-.4 .3-.5 .2-.2 .4-.5 .4-.4 .5-.2 .6-.4 .4-.2 .1-.3-.6-.6-1.5-.8-1.4-.5-1.2-.7-.6-.9 .4-.5 1.3-.3 1.8-.2 2.3-.2 1.4 0 .3-.2-.7-.7-1.2-.4-1.1-.7-.7-.4-.2-.6 0-.5 .5-.5 1.8-.5 3-.3 2.5-.3 1.3-.6 .4-.5 0-.3 .1-.5-.3-.6-1.1-.4-1.7-.3-1.3-.2-.5-.1-.6-.7-1.1-.4-1.5-.8-1-.7-.6-.7 0-.5 .6-.4 .9-.4 1-.4 1-.1 .4-.4-.1-.3-.2-.6-.3-.3-.1-.5 .1-.5 .2-.3 .3-.5 .2-.4 0-.3-.3-.6-.6-.6-.6-.7-.7-.6-.3-.6 .4-.4 1-.4 1.6-.2 1.9 .1 1.3-.3-.1-.3-1.1-.4-1.6-.8-1.2-.7-.5-.6 .1-.5 .4-.5 .4-.4 .2-.5 0-.2-.1-.6 0-.5 .3-.4 .7-.4 1.2-.4 1 0 .7-.4-.1-.3-.8-.4-1.3-.7-1.2-.8-.9-.6-.4-.6 .1-.5 .8-.7 1.2-.3 1.6 0 1.6-.2 .8-.2-.1-.3-.9-.6-1.4-.5-1.1-.7-.5-.6 .1-.5 .3-.5 .5-.5 .3-.4 0-.3-.2-.5-.1-.6 .1-.5 .4-.5 .6-.1 .9-.4 .7-.4 .5-.2 .3-.5-.1-.2-.6-.6-1.2-.5-1.1-.7-.9-.7-.4-.6 .3-.5 .8-.4 1.1-.3 1.3-.3 1-.3 .5-.2 .2-.5 0-.3-.3-.5-.6-.4-.7-.6-.5-.7-.3-.5 .1-.3 .3-.4 .4-.5 .1-.5-.2-.5-.4-.6-.4-.6 0-.5 .3-.5 .7-.3 .8-.2 1-.3 .9-.3 .6-.2 .5-.4 .1-.2-.4-.6-1.1-.5-1.5-.7-1-.7-.6-.6 .2-.5 .7-.6 .8-.4 .6-.3 .2-.3 .1-.4 .1-.5 .4-.4 .4-.4 .2-.5 .2-.2 .6-.3 .9-.3 .9-.1 1.1 0 1.6 .1 2.1 .4 1.8-.1 .7-.3 .2-.4 .1-.7 0-.4-.8-.6-1.8-1.1-2.6-1.3-2.1-1.1-1-.8-.6-.4-.2-.7 .5-.4 .9-.1 1.2-.3 .4-.2-.7-.4-1.8-1-1.5-.7-1-.8 .2-.8 1.3-.3 1.6 .1 1.9-.1 .5-.1-.7-.8-1.3-.6-.5-.7 .3-.5 1.2 0 1.9-.1 1 0-.4-.3-1.7-1-1.9-.8-1.2-.9-.3-.7 .7-.6 1.5-.2 2.5 .1 3.6 .4 3.2 .3 2 0 .8-.3 .2-.2 .2-.5 0-.2-.4-.7-1.6-.7-3.3-.9-4-1.4-2.6-1.3-.9-.8 .2-.5 1-.5 1.4-.1 1.6 .2 1.5-.1 .5-.2-.1-.5-.7-.5-.7-.7-.5-.7-.1-.3 .3-.4 .5-.4 .1-.5-.5-.4-.7-.7-.7-.7-.3-.9 .2-.4 .9-.3 1.2-.1 1.6 0 1.4 0 .7-.1 .4-.3 0-.3-.4-.6-.9-.7-1.5-.7-1-1.1-.8-.7-.1-.5 .5-.5 1-.2 1-.3 .8-.2 .2-.4-.2-.5-.1-.5 .4-.5 1.1 0 1.6 .1 1.3 .2 .5-.3-.7-.6-2-.9-2-1.1-1.2-1.1-.6-.6 .4-.6 1.2-.3 1.4-.2 1.1 0 .7 0 .3-.6 0-.3 .2-.2 .7-.4 .8 0 .7-.1 .4-.4-.5-.5-1.3-.8-1.5-1.2-1.1-1-.6-.8 .3-.8 1-.1 1.5 0 1.6 .2 1.4 .4 .8-.1 .4-.4-.2-.3-.3-.7-.8-.6-.8-.8-.4-.7-.1-.6 .4-.6 .3-.3 .2-.3 .2-.7 0-.5 .1-.4 .5-.4 .8-.1 1.1 .1 1.3 .3 1 .1 .6 .1 .2-.4-.4-.5-.9-1-1.2-1.2-.9-1.2-.6-1-.1-.8 .6-.3 1 0 1.3 .2 1.1 .4 1.1 .1 .4 0 .7-.1 1.8 .8 2.4 1.1 1.6 .7 .6 0 .2-.2 .1-.1 .2-.4-.5-.8-1.8-2.1-2.9-2.8-2-2.4-.1-1.2 .7 0 1.2 .4 1.4 .7 1.8 1 1.1 .8 .4 0-.3-.9-1-1.3-.9-1.6-.4-1 .2-.8 .5-.2 .7 .2 .9 0 .5-.1 .3-.4 0-.4 .3-.5 .6-.2 .9 .5 1.4 .7 1.1 .4 .3 0-.4-1-1.3-1.5-.9-1.8-.6-1.4 .2-1 .8-.3 1.3 .5 1.1 1 1.1 1.5 .8 1.4 .7 .6 .2 .1 .1-.6 0-1 0-1.1 0-1 .6-.7 .3-.4 .4-.2 .6 0 .6 0 .5-.2 .4-.2 .5-.4 .4-.2 .6 .1 .5 .6 .6 1.2 .6 1.8 .3 1.4 .4 .3 .2-.9 .3-2 .1-2 .7-1.3 .4-.5 .5 .3 .6 1.6 .6 3.3 .4 3.7 .4 2.3 .3 .9 .2 .1 .5 0 .2-.1 .5-.5 .5-1.7 .4-3.2 .7-3.4 .5-2.2 .5-.9 .6-.3 .5 .3 .6 1 .6 1.8 .3 1.9 .2 1 .6-.2 0-.6 0 1.3 0 2.4 .6 1.3 .2 .3 .6 0 .5-.1 .6-.8 .5-2.6 1.1-4.2 .8-2.6 .6 .3 .5 1.6 .6 2.6 .2 1.8 .3 .2 .3-1.3 .3-2.1 .5-1.6 .5-.7 .6 0 .5 .3 .5 .2 .3 0 .5-.3 .5-.3 .5-.1 .7 .3 .5 .6 .3 1 .5 1.5 .2 1.5 .5 1 .2 .1 .3-1.2 .3-2.3 .6-2.2 .6-1.3 .5-.6 .8 .3 .5 .7 .5 .8 .6 .8 .2 .8 .5 1 .2 .8 .6 .5 .2 .1 .3-.2 .5-.2 .3-.3 .6-.5 .3-1.1 .6-1.2 .6-.8 .2 1 .1 3.9 .1 4.2 .2 2.1 .2 .6 .3 0 .5 0 .3-.1 .3-.8 .9-2.4 1.2-3.5 .9-2.5 .6-.9 .5-.3 .5-.5 .6-.7 .5-.4 .5 .3 .5 .9 .4 1.7 .4 2.4 .1 1.8 .5 .7 .3-.6 .3-1.7 .5-2.1 .6-1.6 .5-1 .4-.6 .7 0 .6 .4 .4 .7 .6 .8 .4 .8 .4 .8 .4 .4 .4-.1 .2-.2 .7-.1 .4 .3 .4 .7 .3 .7 .4 .6 .3 1.3 .7 2.6 .4 2.7 .6 1.2 .7 .2 .6 0 .6-.3 .5-1.4 .5-3.1 .4-2.6 .3-.5 .2 .4 .5-.1 .2-.9 .4-1.5 .4-1.5 .3-.8 .4-.2 .7 .2 .4 .1 .4-.3 .5-.8 .3-.6 .6-.1 .7 .7 .7 1.4 .8 2 .5 1.3 .4 .2 .2-.6 .4-1.2 0-1.3 .2-1.5 .2-1.1 .3-.6 .5-.1 .6 .5 .7 .4 .5 .1 .3-.6 .2-.6 .5-.1 .8 .6 1.3 1.5 1 1.1 .3 .1 0-.7 0-1.2-.3-1.2 0-1.2 .2-1 .4 .1 1.6 2.9 2 3.7 1 1.6 .6 0 .5-.2 .4-.5-.2-1.6-.4-3.2 0-1.6 .8 .4 .4 .2 0-.7-.2-1.3-.2-1.5-.1-.8 .3-.6 .3-.4 .5-.3 .5-.1 .6-.1 .3 .1 .5-.2 .5-.3 .4-.2 .7 .1 .8 .7 .8 1.3 .9 .8 .2 .1-.1-.9-.1-1.6 .1-.3 1 2.2 1.4 3.6 .9 2.8 .7 1 .2 .3 .3-.1 .3-.1 .2-.5 .2-1.5 .1-2.8 .1-3 .4-1.7 .2-.3 .5 0 .5-.1 .2-.6 .3-1.3 .3-1.3 .3-1.1 .4-.7 .6 .1 .6 .9 .7 1.2 .8 1.6 .5 1 .5 .1 .2-.5 .3-1 .1-1.1 .3-.9 .4-.6 .4-.4 .5-.1 .6 .2 .6 .4 .7 .5 .3 .3 .5-.2 .4-.6 .2-.3 .5-.1 .6 .4 .4 .8 .6 .4 .2-.3 .3-1.3 .2-1.3 .3-1.1 .5-.4 .8 .3 .7 1.1 .5 1.7 .7 1.6 .4 .8 .2-.2 .3-1.1 .1-1.6 .4-1.4 .4-1.2 .5-.7 .5-.3 .6 .4 .6 .9 .6 1.2 .6 1.5 .3 .9 .2 .2 .5-.4 .3-.7 .5-.5 .3-.3 .5-.3 .2-.5 .6-.5 .5-.5 .5-.5 .8-.1 .5 0 .4 .3 .4 .5 .6 .8 .1 1.4 0 1.7-.1 1.3 .2 .3 .4-.8 .7-1.6 .8-.8-.9 2.5-1.5 3.6-1.1 1.7-.3 .2 .1 .1 .4 0 1.2-.7 1.8-1.8 2.1-1.6 1.1-.9 1-.2 .5 .2 .3 .4-.1 .4 .2 .5 .4 .2 .6 0 .6-.3 .8-.3 1-.4 .9-.4 .8-.1 .3 .4 .1 1.2-.7 1.3-1 2.1-1 1.5-.3 .8 .3-.1 1.2-.6 1.4-1.1 1.6-1 1.2-.5 1.1-.3 .6 .2 .2 .6-.2 1.2-.7 1.2-1.1 1.4-1.2 1-.3 .6 .3 .1 .9-.3 1.3-.2 1.1-.1 .6 .3 .3 .1 .3 .4 .3 .4 .3 .7 .2 .5-.1 .6-.4 .4-.2 .6 .1 .6 .2 .2-.1 .6-.4 .8-.5 .6 .1 .3 1.1 0 1.4-.3 .9 0 .7 .4 .4 .3 .4 .3 .2 .4-.2 .7-.7 1.2-1.5 1.6-1.3 1.3-.3 .5 .9 0 1.4-.7 1.8-.7 1.3-.6 1.2-.2 1.2 .1 .6 .2 .1 .6-.5 1-.9 1.2-1.2 1.5-1 1.2-.2 .4 .6 0 1-.1 .9 0 .2 .1-.2 .7-.4 .8-.3 .4 .5 0 1.4-.2 1.6-.2 1.4-.1 1 0 .6 .4 .1 .8-.5 .8-.9 .9-1.4 1.2-1.9 1-1.3 1.1-.2 .3 .9-.1 1.7-.4 1.8-.1 .8 .2 0 .5-.2 .6 .3 .2 .9 .2 1.2 .2 .9 .2 .4 .6-.3 .7-.7 .8-.9 .8-1.6 .8-1.5 1.1-1 .6 .2 .2 1.6-.1 2.1-.4 1.5 0 .6 .4-.1 .6-.3 .6-.1 .5 .3 .4 .6 .4 .4 .4 .3 .4-.1 .6-.4 .6-.7 .4-1 .8-1 .8-.5 .4 .3 .2 1.4 .1 1.9 0 1.4 .2 .8 .2 .1 .5-.5 .7-.8 .8-.8 .8-.4 .6 0 .3 .5 .4 .6 .3 .3 .2 .2 .4-.2 .6-.5 .7-.5 .5 0 .5 .7 .1 1.5-.1 1.5 0 1.2 .1 .6 .3-.3 1-1.1 .9-1.7 .9-1.2 1.1-.1 .3 1.1 .1 1.4-.3 .7 .3 0 .6-.9 .9-1.2 .8-.3 .7 .9-.1 2.1-.3 1.7-.3 1.3-.1 .5 .4-.3 .6-.7 .9-.7 1-.6 .9-.5 .9-.2 .4 .1 .6 .1 .2 .4 .4 .2 .2 .4 .4 .5 0 1.2-.1 1.5-.4 1.5-.3 1-.1 0 .6-.6 1.4-1.2 1.4-1.5 1.3-.5 .9 .1 .3 .4 0 .6 .2 .5 0 .8 0 .9 0 .7 .2 .5 .2 .5 .3 .7 .1 .8 0 .7 .2 .2 .6-.6 1-1.1 1.3-1.4 1.2-.5 1 0 .2 .5 .1 .7 .1 .9-.3 1.3-.3 1.2-.1 .8 .1 .3 .3-.1 .7-.1 .6 .2 .5 .5 .2 .5 .3 .2 .5-.3 .7-.7 1-.9 1.1-.8 .8-.3 .7 .2 .2 .7-.2 1.7-.4 1.9-.7 1.7-.4 1.5-.1 .7 .6-.5 .9-1.3 1.4-1.9 1.3-2 1.7-1.2 .9 .1 .3 1-.2 1.7-.5 1.8-.6 1.4-.1 .8 .2 .4 .4-.1 .7-.3 .7-.2 .7-.1 .5 .1 .4 .3 .3 .2 .3 .2 .5 .6 0L327.5 235.5l.8 .4-.2 .5-.2 .3 .2 .4 .2 .5-.2 .4-.9 .3-.8 0 0 .5 .9 .5 .8 .7 .3 .3-.1 .5-.4 .5-.4 .2-.8 .4-.8 .2-.4 .2 .5 .4 .9 .4 .3 .7-.2 .2-.6 .6 .1 .3 .6 .4 .7 .6-.1 .3-1.2 .4-1.9 .1-1 .3 .6 .6 .3 .5-1.4 .6-1.7 .6-.9 .4-.3 .4 0 .5 0 .5 0 .5 .2 .2 .5 .6 .6 0 .9 0 1.7 .4 1.8 .3 .8 .5 .5 .5 .1 .5-.2 .4-.7 .5-1.3 .2-1.3 .5-.2 .3 1.3 .2 1.4 .3 .5 .5-.5 .5-1.2 .5-.7 .3 .9 .2 1.5 .5 .9 .5 0 .5-1.1 .3-1.4 .7-1.1 .3-.4 .3 .2 .3 .5 .3 1.2 .1 1.6 .4 1.4 .2 .5 .6-1.2 .6-2 .7-1.9 .7 .1 .3 1.2 .2 .9 .1 .2 .5 .2 .2 .7 .3 .6 .4-.2 .5-1.2 .7-.8 .4 1.3 0 1.4 .2 .5 .4-.6 .6-.9 .7-.4 .4-.1 .5-.9 .4-1.2 .6 .4 .1 2.6 0 2.1 0 .8 .4-.5 .6-.9 .5-.3 .6-.4 .6-1.5 .7-1.7 .6-.1 .3 2-.2 2.3 0 1 .3-.2 .3-.2 .6 .3 .5 .2 .5-.7 .5-1.8 .9-1.1 .6 .8 .1 1.7-.2 .9 .4-.2 .3 0 .6 .6 .1 .9 .3 .1 .6-1 .5-1.2 .8 0 .3 .9 .2 .3 .4-.8 .4-.7 .7 .8 0 1.7 0 1.1 .2 .2 .6-.3 .5-.1 .5-.1 .5-.6 .6-1.9 .9-1.6 .7 .3 .1 2-.3 2.3-.2 1.1 .2 .2 .6-.1 .5-.1 .5-.4 .5-.9 .7-1.2 .8-.2 .3 .9 0 1 .2 .1 .5-.9 .5-.3 .6 .9-.1 1.6 0 1.2 .2 .3 .4-.4 .7-.6 .7-.8 .5-1 .9-1 .5-.3 .4 .9 0 1.9-.3 1.5 .1 .6 .4-.4 .4-.6 .8-.2 .4 .6 .4 .5 .2-.1 .6-1.3 .8-1.8 .9-.6 .5 1.3-.1 2.5-.5 1.5-.1 .7 .5-.5 .5-.8 .9-.6 .6 .1 .3 .2 .4-.1 .4-.6 .7-.6 .4 .1 .4 1 .1 1.2-.2 .8 .2 .6 .4 .4 .4 .1 .4-.3 .6-.7 .7-1.6 1.1-1.3 .7-.1 .3 1.4-.3 2.2-.3 1.2 .1 .3 .4-.5 .7-.6 .5 0 .5 .8 .3 .7 0 .1 .5-.8 .8-1.9 .9-1 .9 .3 .2 1.4-.3 1.7-.3 .9 .2 .7 .3 .6 .4 .4 .1-.2 .6-1.1 1-2.1 1.3-1.5 .8 .4 .2 1.9-.4 1.6-.3 .4 .4-.3 .4 0 .5-.3 .4-1.4 .6-1.8 .9-.7 .5-.1 .6 .1 .3 .2 .5 .4 .4 .7 .4 .3 .4 .6 .4 1.5-.3 1.4 .1 .8 0 .8 .3 1-.1 1.4 .1 .7 .3-.7 .9-1.6 1.1-2.2 1.1-.8 .6 .8 0 1.4 0 .8 0 0 .3-.3 .7 .2 .2 .9 .3 .8 0 .4 .4-.1 .6-.4 .4-.2 .7 .5 .1 1 .2 .7 0-.1 .6-.9 .9-2.1 1-1.5 1.1-.1 0 1.5 0 2.2-.4 1.3 0 .5 .2 0 .5-.1 .5 .3 .5 .2 .2 0 .5-.5 .7-1.1 .9-.7 .5 .5 .1 1.4 0 .9 .2-.1 .6-1.3 .7-1.4 .9-.2 .3 1.6-.2 2.2-.3 1.4 0 .5 .3-.2 .8-.4 .7-.5 .4-.4 .8-1.4 .8-1.8 .8-1 .7 .7 0 2.3-.4 2.4-.5 1.2 .2 0 .6-.9 .6-.5 .8 .1 .2 .6 .4 .5 .2 0 .5-.2 .7-.3 .4-.1 .3-.2 .6-.8 .5-1 .9-.5 .4 .9 0 2-.3 1.7 .1 .7 .1-.2 .6-.7 .7-.3 .4 .2 .5 .6 .3 .3 .2-.2 .6-.4 .7-.5 .4-.1 .6-.4 .3-.8 .6-.9 .7-.1 .3 1.5-.1 2.4-.5 1.8 0 .8 .3-.3 .9-1.2 .6-.7 .7 0 .5 .3 .2 .1 .5-.9 .7-1.4 .7-.6 .5 .7 .2 1.5-.1 1.3 .1 .2 .1-.1 .6 .1 .4 .9 .3 1.4 0 1 .2-.1 .5-1.5 1.2-2.7 1.1-2.4 1.2-.7 .2 1.1-.1 1.9-.1 1.8-.3 1.1 .1 .6 .3 .5 .3 .5 .3 .4 .5-.1 .5-.6 .7-1 .8-1.1 .8-.2 .3 .8 .2 1.3-.2 .8 .1 .2 .4-.6 .9-1.7 .9-1.6 .9-.4 .5 1.2-.1 2.5-.7 2.2-.5 1.7 0 .6 .3-.6 .8-1.4 1.1-1.6 1.2-1.4 .9-.2 .3 .9 .3 1-.2 .8 .3-.1 .3-.4 .7-.4 .4 .1 .3 .7 .2 .9-.1 .7 .2 .4 .4 .3 .4 .5 .1 .8 .1 .9 .1 .4 .3-.4 1-1.4 1.1-2.8 1.6-2.4 1.4-.8 .6 1.1-.2 2.5-.9 2.8-.9 1.6-.2 .8 .1 .2 .4 0 .5 .1 .5 0 .5-.2 .7-.6 .8-1.1 .8-.9 1-.2 .4 .8-.1 1.4-.2 .9-.2 .4 .3-.3 .7-.9 .8-.4 .8 .6 0 1.6-.6 1.6-.3 1.3-.2 .4 .4-.5 1.1-1.5 1.1-1.9 1.7-1.4 1.1-.1 .4 1-.3 1.7-.5 1.5-.6 .9-.1 .6 .2 .3 .2 .3 .3 .3 .4 .2 .5 0 .6-.3 .8-.7 .7-.4 .9-.1 .4 .7 .1 .8-.2 .8 0 .2 .2-.4 .9-1 1-.9 1-.1 .7 .7-.2 1.8-1 2.2-.9 1.8-.7 1.3-.3 .5 .3-.3 .8-.8 1.2-.9 1.3-1.2 1.2-.9 1.3-.6 .7-.3 .6-.1 .6 0 .4 .2 .1 .7-.2 1.3-.6 2-.8 1.4-.7 1.3-.3 .8 .1 .1 .6-.5 1-.8 1.1-.8 1.2-.5 .7 .3 .1 1.1-.2 1.1-.1 .8-.2 .3 .4-.2 .7-.8 1.1-1.4 1.2-1.1 1.1-.4 .7 .3 .2 .9-.3 1.2-.5 1.3-.2 1-.3 .8 .1 .8 .2 .7 .2 .7-.1 .7 .2 .3 .4-.2 .8-.8 1.1-1.5 1.4-2.2 1.5-1.6 1.2-.4 .5 1-.3 2.1-.8 2.4-1.1 1.6-.2 .7 .2-.1 .7-.8 1-1.1 .9-.5 .6 .8 .1 1.5-.5 1.5-.2 1.2 0 .1 .5-.9 1.1-1.8 1.5-2.7 1.7-1.8 1.2-.3 .5 1.2-.6 2.5-.7 2.6-1.1 1.7-.3 1.1 0 .5 .3 0 .6-.1 .6-.2 .7-.3 .7-.4 .7-.8 .8-1.2 1.2-1.3 1-.8 .7 .1 .2 .9-.2 1.6-.3 1.5-.6 1.1 0 .4 .3 0 .2 .1 .5 .4 .3 .8 .1 1.2-.2 1.1-.2 .8 0 .1 .7-.7 1-1.4 1.3-1.9 2-1.7 1.5-1 .7 .1 .3 .8-.1 1.1-.4 1.1-.4 1.1-.1 1-.4 1-.4 1.1-.4 1.3-.2 1.1-.2 .6 .3-.3 .5-.7 1.4-1.1 1.6-1.8 1.8-1.1 1.3 0 .3 1.1-.5 1.8-1.1 1.7-.6 .9-.4 .5 .4-.2 .8-.6 .9-1 1.2-.4 1.1-.1 .4 .4 .1 .6-.2 .8-.1 .6-.1 .7 0 .6-.1 .8-.1 .9-.1 .8-.1 .5 .1 .2 .5 0 .9-.5 .9-.5 .9-.5 .9 0 .5 .4 .1 .7-.1 .1 .5L420 480L0 480Z" fill="#f5b5c3"/><path d="M8 466l.4-.2-.1-.5 0-.6 .2-.5 .5-.2 .9 .1 1.2 .2 .8 .2 .1-.3-.2-.6 .1-.9 .2-.3 .3 .3 .7 0 .4-.3 .1-.5-.2-.8-.4-.8-.1-.9-.3-1.1-.5-1-.1-1.1 .2-.7 .9 0 1.6 .9 2.2 1.7 2.6 1.9 1.6 1.3 .4 .1-.7-1.1-1.5-1.9-1.4-2.1-.9-1.6-.4-1.1 0-.8 .2-.5 .5-.2 .8 0 1 .3 1 .2 .7 .3 .4-.4 .1-.7 0-.3 .8-.1 1.4 .9 1.8 .9 1.3 .7 .1-.3-1.1-1.4-1.9-2.1-1.2-1.8-.7-1.2 0-.8 .4-.4 .7-.1 .9-.1 .8 .3 1.1 .1 1.3 .2 .8 .2 .2-.2 0-.6 .1-.4 .6-.2 1 .1 .8 .3 .3-.4-.8-.8-1.5-1.6-1.1-1.3-.6-1.2-.1-.6 .5-.2 1.1-.2 1.2 .2 1.2 .1 1.1 .4 .9 0 .5 0 .3-.4-.3-.5-.4-.8-.5-.6-.1-.7 .2-.5 .5-.3 .1-.2-.1-.7-.5-.9-.7-1-.4-.8 .3-.5 1.1 0 1.6 .4 2.4 .7 1.7 .7 .7 .1-.1-.7-.9-.8-1-.9-.8-1-.4-.9-.3-.5 0-.6 0-.5 .2-.5 .3-.5 .2-.5 .1-.5 .2-.5 .5-.3 .9-.1 1.9 .4 2.3 .9 1.9 .4 .4-.1-1.3-1-2.4-1.5-2.1-1.6-.9-1 .1-.5 1.1-.3 1 0 .5-.1-.3-.6-.6-.9-.4-.7 .5-.6 1.3 0 2 .6 2.5 .5 1.6 .4 .6-.1-.7-.5-1.7-1.3-2.3-1.2-1.4-1.2-.7-.8 .3-.4 1-.4 1.1-.1 .3-.2-.3-.6-.7-.8-.5-.8 .5-.6 1.5 0 2.6 .4 2.8 .7 1.7 .4 0-.3-1.4-.8-2.1-1.2-2.1-1-1.1-.9-.6-.7 .1-.8 .3-.4 .5-.4 .5-.3 .5-.3 .4-.5 .2-.4 .1-.5 .3-.4 .6-.3 1.3 .1 1.8 0 1.4 .2 .8-.3-.6-.4-1.7-.8-2.2-1.2-1.4-1-.9-.7 0-.8 .7-.3 1.1-.2 1.2-.1 1.1-.2 1-.2 .4-.1 .2-.5-.1-.3-.2-.6-.5-.4-.6-.7-.3-.7-.2-.5 .1-.5 .3-.5 .4-.4 .2-.2 0-.5-.2-.6 0-.5 .3-.4 .8-.4 1.4-.1 1.2 0 .7-.4-.1-.2-.7-.5-.9-.7-1-.8-.8-.7-.8-.7-.6-.7 0-.5 .8-.4 1.3-.1 1.5-.2 1.5-.1 .7-.1 .4-.4 0-.3-.4-.6-.7-.5-1-.7-.6-.7-.2-.5 .2-.5 .4-.4 .2-.2 0-.6-.3-.6-.2-.5-.1-.6 .3-.4 .6-.4 .8-.3 1.1-.2 1 .1 .8-.3 .4-.1 .2-.5 .7-.3 1.9 .2 2.1-.1 .9-.2 .2-.3 .1-.5-.2-.5-1.5-1-2.7-1.3-1.9-1-.3-.6 0-.2 0-.5 .3-.4 .7-.3 .9-.1 .8 .1 .5-.3-.2-.3-.5-.8-.7-.8-.8-.7-.5-.7-.4-1-.4-.7-.3-.7 .3-.6 .8-.2 1.4 .1 1.8 .4 2.1 .4 1.2 .4 .4-.4-.4-.5-.8-.6-.7-.9-.5-.8-.6-.5-.3-.7-.3-.7-.1-.6 .2-.5 .4-.3 .3-.4 .2-.5-.1-.6 .2-.5 .7-.2 1.6 0 2.3 .3 1.8 .4 .5-.1-1-.7-1.9-1-2-1.3-1.2-1-.7-.8 0-.6 .7-.3 1.3-.2 1.3 .1 1.4-.2 .3-.4-.5-.3-.5-.6 .2-.7 1-.2 1.2 .1 .7-.3-.3-.3-1.3-.8-1.5-.8-.8-.9-.4-.6 0-.4 .5-.6 .7-.3 .9-.2 1.1-.2 .9-.3 .2-.5-.5-.3-.6-.6-.2-.5 .6-.4 1-.2 .7-.4-.1-.3-1.3-.7-1.4-.7-1.1-.7-.5-.6 .4-.6 .9-.4 1.1-.3 1.1-.3 .9-.3 .4-.2 .3-.4 .1-.5 .1-.3 0-.5 .2-.2 .2-.5 0-.2-.3-.6-1-.7-1.4-.5-1.3-.7-1.1-.7-.2-.9 .6-.4 1.4-.3 1.8-.3 2.3-.1 1.4-.1 .3-.2-.4-.3-.7-.7-.5-.4-.2-.6 0-.3-.2-.5-.5-.4-.8-.7-.8-.5-.8-.7-.5-.7-.1-.6 .4-.5 1.1-.4 1.4-.4 2.1 .1 1.9 0 1.1-.1-.1-.3-1.1-.5-1.8-.6-1.5-.9-.8-.6-.1-.7 .2-.4 .2-.4 0-.4-.4-.8-.4-.5-.1-.7 .7-.3 1.3-.3 2.3 0 2.1-.1 .9-.1-.5-.3-1.4-.7-1.7-.6-1.2-.7-.6-.5-.2-.6 0-.7 0-.5 .2-.4 .3-.5 .3-.4 .3-.4 .3-.5 .5-.4 1.1-.3 1.5 0 1.5-.2 .6-.2-.7-.4-1.9-.8-2.1-.6-1.3-.7-.4-.9 .2-.4 .8-.4 .8-.4 .7-.4 .4-.4 .3-.5 .2-.2 .4-.5 .4-.4 .5-.2 .6-.4 .4-.2 .1-.3-.6-.6-1.5-.8-1.4-.5-1.2-.7-.6-.9 .4-.5 1.3-.3 1.8-.2 2.3-.2 1.4 0 .3-.2-.7-.7-1.2-.4-1.1-.7-.7-.4-.2-.6 0-.5 .5-.5 1.8-.5 3-.3 2.5-.3 1.3-.6 .4-.5 0-.3 .1-.5-.3-.6-1.1-.4-1.7-.3-1.3-.2-.5-.1-.6-.7-1.1-.4-1.5-.8-1-.7-.6-.7 0-.5 .6-.4 .9-.4 1-.4 1-.1 .4-.4-.1-.3-.2-.6-.3-.3-.1-.5 .1-.5 .2-.3 .3-.5 .2-.4 0-.3-.3-.6-.6-.6-.6-.7-.7-.6-.3-.6 .4-.4 1-.4 1.6-.2 1.9 .1 1.3-.3-.1-.3-1.1-.4-1.6-.8-1.2-.7-.5-.6 .1-.5 .4-.5 .4-.4 .2-.5 0-.2-.1-.6 0-.5 .3-.4 .7-.4 1.2-.4 1 0 .7-.4-.1-.3-.8-.4-1.3-.7-1.2-.8-.9-.6-.4-.6 .1-.5 .8-.7 1.2-.3 1.6 0 1.6-.2 .8-.2-.1-.3-.9-.6-1.4-.5-1.1-.7-.5-.6 .1-.5 .3-.5 .5-.5 .3-.4 0-.3-.2-.5-.1-.6 .1-.5 .4-.5 .6-.1 .9-.4 .7-.4 .5-.2 .3-.5-.1-.2-.6-.6-1.2-.5-1.1-.7-.9-.7-.4-.6 .3-.5 .8-.4 1.1-.3 1.3-.3 1-.3 .5-.2 .2-.5 0-.3-.3-.5-.6-.4-.7-.6-.5-.7-.3-.5 .1-.3 .3-.4 .4-.5 .1-.5-.2-.5-.4-.6-.4-.6 0-.5 .3-.5 .7-.3 .8-.2 1-.3 .9-.3 .6-.2 .5-.4 .1-.2-.4-.6-1.1-.5-1.5-.7-1-.7-.6-.6 .2-.5 .7-.6 .8-.4 .6-.3 .2-.3 .1-.4 .1-.5 .4-.4 .4-.4 .2-.5 .2-.2 .6-.3 .9-.3 .9-.1 1.1 0 1.6 .1 2.1 .4 1.8-.1 .7-.3 .2-.4 .1-.7 0-.4-.8-.6-1.8-1.1-2.6-1.3-2.1-1.1-1-.8-.6-.4-.2-.7 .5-.4 .9-.1 1.2-.3 .4-.2-.7-.4-1.8-1-1.5-.7-1-.8 .2-.8 1.3-.3 1.6 .1 1.9-.1 .5-.1-.7-.8-1.3-.6-.5-.7 .3-.5 1.2 0 1.9-.1 1 0-.4-.3-1.7-1-1.9-.8-1.2-.9-.3-.7 .7-.6 1.5-.2 2.5 .1 3.6 .4 3.2 .3 2 0 .8-.3 .2-.2 .2-.5 0-.2-.4-.7-1.6-.7-3.3-.9-4-1.4-2.6-1.3-.9-.8 .2-.5 1-.5 1.4-.1 1.6 .2 1.5-.1 .5-.2-.1-.5-.7-.5-.7-.7-.5-.7-.1-.3 .3-.4 .5-.4 .1-.5-.5-.4-.7-.7-.7-.7-.3-.9 .2-.4 .9-.3 1.2-.1 1.6 0 1.4 0 .7-.1 .4-.3 0-.3-.4-.6-.9-.7-1.5-.7-1-1.1-.8-.7-.1-.5 .5-.5 1-.2 1-.3 .8-.2 .2-.4-.2-.5-.1-.5 .4-.5 1.1 0 1.6 .1 1.3 .2 .5-.3-.7-.6-2-.9-2-1.1-1.2-1.1-.6-.6 .4-.6 1.2-.3 1.4-.2 1.1 0 .7 0 .3-.6 0-.3 .2-.2 .7-.4 .8 0 .7-.1 .4-.4-.5-.5-1.3-.8-1.5-1.2-1.1-1-.6-.8 .3-.8 1-.1 1.5 0 1.6 .2 1.4 .4 .8-.1 .4-.4-.2-.3-.3-.7-.8-.6-.8-.8-.4-.7-.1-.6 .4-.6 .3-.3 .2-.3 .2-.7 0-.5 .1-.4 .5-.4 .8-.1 1.1 .1 1.3 .3 1 .1 .6 .1 .2-.4-.4-.5-.9-1-1.2-1.2-.9-1.2-.6-1-.1-.8 .6-.3 1 0 1.3 .2 1.1 .4 1.1 .1 .4 0 .7-.1 1.8 .8 2.4 1.1 1.6 .7 .6 0 .2-.2 .1-.1 .2-.4-.5-.8-1.8-2.1-2.9-2.8-2-2.4-.1-1.2 .7 0 1.2 .4 1.4 .7 1.8 1 1.1 .8 .4 0-.3-.9-1-1.3-.9-1.6-.4-1 .2-.8 .5-.2 .7 .2 .9 0 .5-.1 .3-.4 0-.4 .3-.5 .6-.2 .9 .5 1.4 .7 1.1 .4 .3 0-.4-1-1.3-1.5-.9-1.8-.6-1.4 .2-1 .8-.3 1.3 .5 1.1 1 1.1 1.5 .8 1.4 .7 .6 .2 .1 .1-.6 0-1 0-1.1 0-1 .6-.7 .3-.4 .4-.2 .6 0 .6 0 .5-.2 .4-.2 .5-.4 .4-.2 .6 .1 .5 .6 .6 1.2 .6 1.8 .3 1.4 .4 .3 .2-.9 .3-2 .1-2 .7-1.3 .4-.5 .5 .3 .6 1.6 .6 3.3 .4 3.7 .4 2.3 .3 .9 .2 .1 .5 0 .2-.1 .5-.5 .5-1.7 .4-3.2 .7-3.4 .5-2.2 .5-.9 .6-.3 .5 .3 .6 1 .6 1.8 .3 1.9 .2 1 .6-.2 0-.6 0 1.3 0 2.4 .6 1.3 .2 .3 .6 0 .5-.1 .6-.8 .5-2.6 1.1-4.2 .8-2.6 .6 .3 .5 1.6 .6 2.6 .2 1.8 .3 .2 .3-1.3 .3-2.1 .5-1.6 .5-.7 .6 0 .5 .3 .5 .2 .3 0 .5-.3 .5-.3 .5-.1 .7 .3 .5 .6 .3 1 .5 1.5 .2 1.5 .5 1 .2 .1 .3-1.2 .3-2.3 .6-2.2 .6-1.3 .5-.6 .8 .3 .5 .7 .5 .8 .6 .8 .2 .8 .5 1 .2 .8 .6 .5 .2 .1 .3-.2 .5-.2 .3-.3 .6-.5 .3-1.1 .6-1.2 .6-.8 .2 1 .1 3.9 .1 4.2 .2 2.1 .2 .6 .3 0 .5 0 .3-.1 .3-.8 .9-2.4 1.2-3.5 .9-2.5 .6-.9 .5-.3 .5-.5 .6-.7 .5-.4 .5 .3 .5 .9 .4 1.7 .4 2.4 .1 1.8 .5 .7 .3-.6 .3-1.7 .5-2.1 .6-1.6 .5-1 .4-.6 .7 0 .6 .4 .4 .7 .6 .8 .4 .8 .4 .8 .4 .4 .4-.1 .2-.2 .7-.1 .4 .3 .4 .7 .3 .7 .4 .6 .3 1.3 .7 2.6 .4 2.7 .6 1.2 .7 .2 .6 0 .6-.3 .5-1.4 .5-3.1 .4-2.6 .3-.5 .2 .4 .5-.1 .2-.9 .4-1.5 .4-1.5 .3-.8 .4-.2 .7 .2 .4 .1 .4-.3 .5-.8 .3-.6 .6-.1 .7 .7 .7 1.4 .8 2 .5 1.3 .4 .2 .2-.6 .4-1.2 0-1.3 .2-1.5 .2-1.1 .3-.6 .5-.1 .6 .5 .7 .4 .5 .1 .3-.6 .2-.6 .5-.1 .8 .6 1.3 1.5 1 1.1 .3 .1 0-.7 0-1.2-.3-1.2 0-1.2 .2-1 .4 .1 1.6 2.9 2 3.7 1 1.6 .6 0 .5-.2 .4-.5-.2-1.6-.4-3.2 0-1.6 .8 .4 .4 .2 0-.7-.2-1.3-.2-1.5-.1-.8 .3-.6 .3-.4 .5-.3 .5-.1 .6-.1 .3 .1 .5-.2 .5-.3 .4-.2 .7 .1 .8 .7 .8 1.3 .9 .8 .2 .1-.1-.9-.1-1.6 .1-.3 1 2.2 1.4 3.6 .9 2.8 .7 1 .2 .3 .3-.1 .3-.1 .2-.5 .2-1.5 .1-2.8 .1-3 .4-1.7 .2-.3 .5 0 .5-.1 .2-.6 .3-1.3 .3-1.3 .3-1.1 .4-.7 .6 .1 .6 .9 .7 1.2 .8 1.6 .5 1 .5 .1 .2-.5 .3-1 .1-1.1 .3-.9 .4-.6 .4-.4 .5-.1 .6 .2 .6 .4 .7 .5 .3 .3 .5-.2 .4-.6 .2-.3 .5-.1 .6 .4 .4 .8 .6 .4 .2-.3 .3-1.3 .2-1.3 .3-1.1 .5-.4 .8 .3 .7 1.1 .5 1.7 .7 1.6 .4 .8 .2-.2 .3-1.1 .1-1.6 .4-1.4 .4-1.2 .5-.7 .5-.3 .6 .4 .6 .9 .6 1.2 .6 1.5 .3 .9 .2 .2 .5-.4 .3-.7 .5-.5 .3-.3 .5-.3 .2-.5 .6-.5 .5-.5 .5-.5 .8-.1 .5 0 .4 .3 .4 .5 .6 .8 .1 1.4 0 1.7-.1 1.3 .2 .3 .4-.8 .7-1.6 .8-.8-.9 2.5-1.5 3.6-1.1 1.7-.3 .2 .1 .1 .4 0 1.2-.7 1.8-1.8 2.1-1.6 1.1-.9 1-.2 .5 .2 .3 .4-.1 .4 .2 .5 .4 .2 .6 0 .6-.3 .8-.3 1-.4 .9-.4 .8-.1 .3 .4 .1 1.2-.7 1.3-1 2.1-1 1.5-.3 .8 .3-.1 1.2-.6 1.4-1.1 1.6-1 1.2-.5 1.1-.3 .6 .2 .2 .6-.2 1.2-.7 1.2-1.1 1.4-1.2 1-.3 .6 .3 .1 .9-.3 1.3-.2 1.1-.1 .6 .3 .3 .1 .3 .4 .3 .4 .3 .7 .2 .5-.1 .6-.4 .4-.2 .6 .1 .6 .2 .2-.1 .6-.4 .8-.5 .6 .1 .3 1.1 0 1.4-.3 .9 0 .7 .4 .4 .3 .4 .3 .2 .4-.2 .7-.7 1.2-1.5 1.6-1.3 1.3-.3 .5 .9 0 1.4-.7 1.8-.7 1.3-.6 1.2-.2 1.2 .1 .6 .2 .1 .6-.5 1-.9 1.2-1.2 1.5-1 1.2-.2 .4 .6 0 1-.1 .9 0 .2 .1-.2 .7-.4 .8-.3 .4 .5 0 1.4-.2 1.6-.2 1.4-.1 1 0 .6 .4 .1 .8-.5 .8-.9 .9-1.4 1.2-1.9 1-1.3 1.1-.2 .3 .9-.1 1.7-.4 1.8-.1 .8 .2 0 .5-.2 .6 .3 .2 .9 .2 1.2 .2 .9 .2 .4 .6-.3 .7-.7 .8-.9 .8-1.6 .8-1.5 1.1-1 .6 .2 .2 1.6-.1 2.1-.4 1.5 0 .6 .4-.1 .6-.3 .6-.1 .5 .3 .4 .6 .4 .4 .4 .3 .4-.1 .6-.4 .6-.7 .4-1 .8-1 .8-.5 .4 .3 .2 1.4 .1 1.9 0 1.4 .2 .8 .2 .1 .5-.5 .7-.8 .8-.8 .8-.4 .6 0 .3 .5 .4 .6 .3 .3 .2 .2 .4-.2 .6-.5 .7-.5 .5 0 .5 .7 .1 1.5-.1 1.5 0 1.2 .1 .6 .3-.3 1-1.1 .9-1.7 .9-1.2 1.1-.1 .3 1.1 .1 1.4-.3 .7 .3 0 .6-.9 .9-1.2 .8-.3 .7 .9-.1 2.1-.3 1.7-.3 1.3-.1 .5 .4-.3 .6-.7 .9-.7 1-.6 .9-.5 .9-.2 .4 .1 .6 .1 .2 .4 .4 .2 .2 .4 .4 .5 0 1.2-.1 1.5-.4 1.5-.3 1-.1 0 .6-.6 1.4-1.2 1.4-1.5 1.3-.5 .9 .1 .3 .4 0 .6 .2 .5 0 .8 0 .9 0 .7 .2 .5 .2 .5 .3 .7 .1 .8 0 .7 .2 .2 .6-.6 1-1.1 1.3-1.4 1.2-.5 1 0 .2 .5 .1 .7 .1 .9-.3 1.3-.3 1.2-.1 .8 .1 .3 .3-.1 .7-.1 .6 .2 .5 .5 .2 .5 .3 .2 .5-.3 .7-.7 1-.9 1.1-.8 .8-.3 .7 .2 .2 .7-.2 1.7-.4 1.9-.7 1.7-.4 1.5-.1 .7 .6-.5 .9-1.3 1.4-1.9 1.3-2 1.7-1.2 .9 .1 .3 1-.2 1.7-.5 1.8-.6 1.4-.1 .8 .2 .4 .4-.1 .7-.3 .7-.2 .7-.1 .5 .1 .4 .3 .3 .2 .3 .2 .5 .6 0M327.5 235.5l.8 .4-.2 .5-.2 .3 .2 .4 .2 .5-.2 .4-.9 .3-.8 0 0 .5 .9 .5 .8 .7 .3 .3-.1 .5-.4 .5-.4 .2-.8 .4-.8 .2-.4 .2 .5 .4 .9 .4 .3 .7-.2 .2-.6 .6 .1 .3 .6 .4 .7 .6-.1 .3-1.2 .4-1.9 .1-1 .3 .6 .6 .3 .5-1.4 .6-1.7 .6-.9 .4-.3 .4 0 .5 0 .5 0 .5 .2 .2 .5 .6 .6 0 .9 0 1.7 .4 1.8 .3 .8 .5 .5 .5 .1 .5-.2 .4-.7 .5-1.3 .2-1.3 .5-.2 .3 1.3 .2 1.4 .3 .5 .5-.5 .5-1.2 .5-.7 .3 .9 .2 1.5 .5 .9 .5 0 .5-1.1 .3-1.4 .7-1.1 .3-.4 .3 .2 .3 .5 .3 1.2 .1 1.6 .4 1.4 .2 .5 .6-1.2 .6-2 .7-1.9 .7 .1 .3 1.2 .2 .9 .1 .2 .5 .2 .2 .7 .3 .6 .4-.2 .5-1.2 .7-.8 .4 1.3 0 1.4 .2 .5 .4-.6 .6-.9 .7-.4 .4-.1 .5-.9 .4-1.2 .6 .4 .1 2.6 0 2.1 0 .8 .4-.5 .6-.9 .5-.3 .6-.4 .6-1.5 .7-1.7 .6-.1 .3 2-.2 2.3 0 1 .3-.2 .3-.2 .6 .3 .5 .2 .5-.7 .5-1.8 .9-1.1 .6 .8 .1 1.7-.2 .9 .4-.2 .3 0 .6 .6 .1 .9 .3 .1 .6-1 .5-1.2 .8 0 .3 .9 .2 .3 .4-.8 .4-.7 .7 .8 0 1.7 0 1.1 .2 .2 .6-.3 .5-.1 .5-.1 .5-.6 .6-1.9 .9-1.6 .7 .3 .1 2-.3 2.3-.2 1.1 .2 .2 .6-.1 .5-.1 .5-.4 .5-.9 .7-1.2 .8-.2 .3 .9 0 1 .2 .1 .5-.9 .5-.3 .6 .9-.1 1.6 0 1.2 .2 .3 .4-.4 .7-.6 .7-.8 .5-1 .9-1 .5-.3 .4 .9 0 1.9-.3 1.5 .1 .6 .4-.4 .4-.6 .8-.2 .4 .6 .4 .5 .2-.1 .6-1.3 .8-1.8 .9-.6 .5 1.3-.1 2.5-.5 1.5-.1 .7 .5-.5 .5-.8 .9-.6 .6 .1 .3 .2 .4-.1 .4-.6 .7-.6 .4 .1 .4 1 .1 1.2-.2 .8 .2 .6 .4 .4 .4 .1 .4-.3 .6-.7 .7-1.6 1.1-1.3 .7-.1 .3 1.4-.3 2.2-.3 1.2 .1 .3 .4-.5 .7-.6 .5 0 .5 .8 .3 .7 0 .1 .5-.8 .8-1.9 .9-1 .9 .3 .2 1.4-.3 1.7-.3 .9 .2 .7 .3 .6 .4 .4 .1-.2 .6-1.1 1-2.1 1.3-1.5 .8 .4 .2 1.9-.4 1.6-.3 .4 .4-.3 .4 0 .5-.3 .4-1.4 .6-1.8 .9-.7 .5-.1 .6 .1 .3 .2 .5 .4 .4 .7 .4 .3 .4 .6 .4 1.5-.3 1.4 .1 .8 0 .8 .3 1-.1 1.4 .1 .7 .3-.7 .9-1.6 1.1-2.2 1.1-.8 .6 .8 0 1.4 0 .8 0 0 .3-.3 .7 .2 .2 .9 .3 .8 0 .4 .4-.1 .6-.4 .4-.2 .7 .5 .1 1 .2 .7 0-.1 .6-.9 .9-2.1 1-1.5 1.1-.1 0 1.5 0 2.2-.4 1.3 0 .5 .2 0 .5-.1 .5 .3 .5 .2 .2 0 .5-.5 .7-1.1 .9-.7 .5 .5 .1 1.4 0 .9 .2-.1 .6-1.3 .7-1.4 .9-.2 .3 1.6-.2 2.2-.3 1.4 0 .5 .3-.2 .8-.4 .7-.5 .4-.4 .8-1.4 .8-1.8 .8-1 .7 .7 0 2.3-.4 2.4-.5 1.2 .2 0 .6-.9 .6-.5 .8 .1 .2 .6 .4 .5 .2 0 .5-.2 .7-.3 .4-.1 .3-.2 .6-.8 .5-1 .9-.5 .4 .9 0 2-.3 1.7 .1 .7 .1-.2 .6-.7 .7-.3 .4 .2 .5 .6 .3 .3 .2-.2 .6-.4 .7-.5 .4-.1 .6-.4 .3-.8 .6-.9 .7-.1 .3 1.5-.1 2.4-.5 1.8 0 .8 .3-.3 .9-1.2 .6-.7 .7 0 .5 .3 .2 .1 .5-.9 .7-1.4 .7-.6 .5 .7 .2 1.5-.1 1.3 .1 .2 .1-.1 .6 .1 .4 .9 .3 1.4 0 1 .2-.1 .5-1.5 1.2-2.7 1.1-2.4 1.2-.7 .2 1.1-.1 1.9-.1 1.8-.3 1.1 .1 .6 .3 .5 .3 .5 .3 .4 .5-.1 .5-.6 .7-1 .8-1.1 .8-.2 .3 .8 .2 1.3-.2 .8 .1 .2 .4-.6 .9-1.7 .9-1.6 .9-.4 .5 1.2-.1 2.5-.7 2.2-.5 1.7 0 .6 .3-.6 .8-1.4 1.1-1.6 1.2-1.4 .9-.2 .3 .9 .3 1-.2 .8 .3-.1 .3-.4 .7-.4 .4 .1 .3 .7 .2 .9-.1 .7 .2 .4 .4 .3 .4 .5 .1 .8 .1 .9 .1 .4 .3-.4 1-1.4 1.1-2.8 1.6-2.4 1.4-.8 .6 1.1-.2 2.5-.9 2.8-.9 1.6-.2 .8 .1 .2 .4 0 .5 .1 .5 0 .5-.2 .7-.6 .8-1.1 .8-.9 1-.2 .4 .8-.1 1.4-.2 .9-.2 .4 .3-.3 .7-.9 .8-.4 .8 .6 0 1.6-.6 1.6-.3 1.3-.2 .4 .4-.5 1.1-1.5 1.1-1.9 1.7-1.4 1.1-.1 .4 1-.3 1.7-.5 1.5-.6 .9-.1 .6 .2 .3 .2 .3 .3 .3 .4 .2 .5 0 .6-.3 .8-.7 .7-.4 .9-.1 .4 .7 .1 .8-.2 .8 0 .2 .2-.4 .9-1 1-.9 1-.1 .7 .7-.2 1.8-1 2.2-.9 1.8-.7 1.3-.3 .5 .3-.3 .8-.8 1.2-.9 1.3-1.2 1.2-.9 1.3-.6 .7-.3 .6-.1 .6 0 .4 .2 .1 .7-.2 1.3-.6 2-.8 1.4-.7 1.3-.3 .8 .1 .1 .6-.5 1-.8 1.1-.8 1.2-.5 .7 .3 .1 1.1-.2 1.1-.1 .8-.2 .3 .4-.2 .7-.8 1.1-1.4 1.2-1.1 1.1-.4 .7 .3 .2 .9-.3 1.2-.5 1.3-.2 1-.3 .8 .1 .8 .2 .7 .2 .7-.1 .7 .2 .3 .4-.2 .8-.8 1.1-1.5 1.4-2.2 1.5-1.6 1.2-.4 .5 1-.3 2.1-.8 2.4-1.1 1.6-.2 .7 .2-.1 .7-.8 1-1.1 .9-.5 .6 .8 .1 1.5-.5 1.5-.2 1.2 0 .1 .5-.9 1.1-1.8 1.5-2.7 1.7-1.8 1.2-.3 .5 1.2-.6 2.5-.7 2.6-1.1 1.7-.3 1.1 0 .5 .3 0 .6-.1 .6-.2 .7-.3 .7-.4 .7-.8 .8-1.2 1.2-1.3 1-.8 .7 .1 .2 .9-.2 1.6-.3 1.5-.6 1.1 0 .4 .3 0 .2 .1 .5 .4 .3 .8 .1 1.2-.2 1.1-.2 .8 0 .1 .7-.7 1-1.4 1.3-1.9 2-1.7 1.5-1 .7 .1 .3 .8-.1 1.1-.4 1.1-.4 1.1-.1 1-.4 1-.4 1.1-.4 1.3-.2 1.1-.2 .6 .3-.3 .5-.7 1.4-1.1 1.6-1.8 1.8-1.1 1.3 0 .3 1.1-.5 1.8-1.1 1.7-.6 .9-.4 .5 .4-.2 .8-.6 .9-1 1.2-.4 1.1-.1 .4 .4 .1 .6-.2 .8-.1 .6-.1 .7 0 .6-.1 .8-.1 .9-.1 .8-.1 .5 .1 .2 .5 0 .9-.5 .9-.5 .9-.5 .9 0 .5 .4 .1 .7-.1 .1 .5" fill="none" stroke="#231a1c" stroke-width="1.25" stroke-linejoin="round"/></g>
<path d="M297 218.2C295.8 215.5 292.2 206.5 290 202C287.8 197.5 286.2 194.7 283.7 191.2C281.2 187.7 278.1 183.8 275 181.2C271.9 178.6 268.8 176.7 265 175.6C261.2 174.5 256.7 174.2 252.5 174.4C248.3 174.6 244.2 175.1 240 176.9C235.8 178.7 231.7 182 227.5 185C223.3 188 219.6 191.9 215 195C210.4 198.1 205.8 201.7 200 203.5C194.2 205.3 188.3 206.6 180 206C171.7 205.4 158.3 201.6 150 200C141.7 198.4 134.8 196.3 130 196.5C125.2 196.7 123.1 198.1 121 201C118.9 203.9 117.7 209 117.5 214C117.3 219 118.5 225.3 120 231C121.5 236.7 125.2 245.2 126.2 248" fill="none" stroke="#231a1c" stroke-width="3.1" stroke-linecap="round"/>
<path d="M297 218.2C295.8 215.5 292.2 206.5 290 202C287.8 197.5 286.2 194.7 283.7 191.2C281.2 187.7 278.1 183.8 275 181.2C271.9 178.6 268.8 176.7 265 175.6C261.2 174.5 256.7 174.2 252.5 174.4C248.3 174.6 244.2 175.1 240 176.9C235.8 178.7 231.7 182 227.5 185C223.3 188 219.6 191.9 215 195C210.4 198.1 205.8 201.7 200 203.5C194.2 205.3 188.3 206.6 180 206C171.7 205.4 158.3 201.6 150 200C141.7 198.4 134.8 196.3 130 196.5C125.2 196.7 123.1 198.1 121 201C118.9 203.9 117.7 209 117.5 214C117.3 219 118.5 225.3 120 231C121.5 236.7 125.2 245.2 126.2 248" fill="none" stroke="#fff" stroke-width="1.3" stroke-linecap="round"/>
<path d="M1 466C3.3 463 9.3 456.6 15 448C20.7 439.4 29.2 428.5 35 414.5C40.8 400.5 45.4 380.8 50 364C54.6 347.2 58.8 330.7 62.5 314C66.2 297.3 69.2 280.7 72.5 264C75.8 247.3 79.6 227.6 82.5 214C85.4 200.4 87.1 192.3 90 182.5C92.9 172.7 96.7 162.1 100 155C103.3 147.9 105.8 144.3 110 140C114.2 135.7 118.3 131.7 125 129C131.7 126.3 139.2 124.8 150 124C160.8 123.2 180.8 124.3 190 124C199.2 123.7 200.8 123 205 122C209.2 121 211.2 119.8 215 118C218.8 116.2 223.3 113.2 227.5 111.2C231.7 109.2 235.8 107.3 240 106.2C244.2 105.1 248.3 104.3 252.5 104.4C256.7 104.5 260.8 105.4 265 106.9C269.2 108.5 273.3 110.7 277.5 113.7C281.7 116.7 286.2 120.8 290 125C293.8 129.2 296.9 133.3 300 138.7C303.1 144.1 306 150.2 308.7 157.5C311.4 164.8 313.9 175.4 316.2 182.5C318.5 189.6 320.6 195.8 322.5 200C324.4 204.2 324.9 204.3 327.5 207.5C330.1 210.7 336.3 217.4 338.1 219.4C336.3 220.1 331.4 222.7 327.5 223.7C323.6 224.7 318.8 225.6 315 225.6C311.2 225.6 307.9 225 305 223.7C302.1 222.4 298.8 218.8 297.5 217.8L296.2 218.6C297.2 219.9 299.8 223.8 302.5 226.2C305.2 228.6 309.2 231.4 312.5 233C315.8 234.6 319.4 235.5 322.5 235.6C325.6 235.7 328 234.6 331 233.8C334 233 339 231.1 340.6 230.6C340.1 232.2 337.9 236.6 337.5 240C337.1 243.4 337.4 246.8 338 251C338.6 255.2 339.6 259 341 265C342.4 271 343 274.7 346.5 287C350 299.3 356.9 322 362 339C367.1 356 371.6 374.2 377 389C382.4 403.8 387 415.2 394.5 428C402 440.8 417.4 459.7 422 466" fill="none" stroke="#231a1c" stroke-width="1.4" stroke-linejoin="round"/>
<path d="M93.5 466C94.8 461.7 99.1 446.8 101.2 440C103.3 433.2 104.3 430.5 106 425C107.7 419.5 109.9 417.4 111.2 407C112.5 396.6 112.9 376.7 113.7 362.5C114.5 348.3 115.6 334.1 116.2 322C116.8 309.9 116.7 299.5 117.5 290C118.3 280.5 120.2 270.8 121.2 265C122.2 259.2 122.9 257.8 123.7 255C124.5 252.2 124.7 251.6 126.2 248C127.7 244.4 130 237.1 132.5 233.7C135 230.3 137.7 228.9 141.2 227.5C144.7 226.1 148.5 225.1 153.7 225.2C158.9 225.3 166.4 226.6 172.5 228C178.6 229.4 185.4 232.5 190 233.7C194.6 234.9 195.6 235.8 200 235C204.4 234.2 210.4 231.8 216.2 228.7C222 225.6 228.3 219.7 235 216.2C241.7 212.7 250.2 207.9 256.2 207.5C262.2 207.1 266.6 210.4 271 214C275.4 217.6 279.2 223.4 282.5 229C285.8 234.6 288.8 241.1 291 247.5C293.2 253.9 294.3 256.8 296 267.5C297.7 278.2 299.5 298.3 301 312C302.5 325.7 303.5 337 305 349.5C306.5 362 307.5 375.4 310 387C312.5 398.6 317.5 411.7 320 419C322.5 426.3 321 423.2 325 431C329 438.8 340.6 460.2 343.8 466Z" fill="#fbdacd"/>
<g clip-path="url(#boneA)"><use href="#trab"/><use href="#trabx"/></g>
<path d="M93.5 466C94.8 461.7 99.1 446.8 101.2 440C103.3 433.2 104.3 430.5 106 425C107.7 419.5 109.9 417.4 111.2 407C112.5 396.6 112.9 376.7 113.7 362.5C114.5 348.3 115.6 334.1 116.2 322C116.8 309.9 116.7 299.5 117.5 290C118.3 280.5 120.2 270.8 121.2 265C122.2 259.2 122.9 257.8 123.7 255C124.5 252.2 124.7 251.6 126.2 248C127.7 244.4 130 237.1 132.5 233.7C135 230.3 137.7 228.9 141.2 227.5C144.7 226.1 148.5 225.1 153.7 225.2C158.9 225.3 166.4 226.6 172.5 228C178.6 229.4 185.4 232.5 190 233.7C194.6 234.9 195.6 235.8 200 235C204.4 234.2 210.4 231.8 216.2 228.7C222 225.6 228.3 219.7 235 216.2C241.7 212.7 250.2 207.9 256.2 207.5C262.2 207.1 266.6 210.4 271 214C275.4 217.6 279.2 223.4 282.5 229C285.8 234.6 288.8 241.1 291 247.5C293.2 253.9 294.3 256.8 296 267.5C297.7 278.2 299.5 298.3 301 312C302.5 325.7 303.5 337 305 349.5C306.5 362 307.5 375.4 310 387C312.5 398.6 317.5 411.7 320 419C322.5 426.3 321 423.2 325 431C329 438.8 340.6 460.2 343.8 466" fill="none" stroke="#231a1c" stroke-width="1.4"/>
<clipPath id="hnd"><path d="M460.6 -2L439.4 42.5L434.4 62.5L431.9 76.2L428.7 92.5Q437.5 99.5 447.5 100.6L465 78.7L481.2 62.5L495 38.7L514 -2Z"/></clipPath>
<path d="M460.6 -2L439.4 42.5L434.4 62.5L431.9 76.2L428.7 92.5Q437.5 99.5 447.5 100.6L465 78.7L481.2 62.5L495 38.7L514 -2Z" fill="#c7c9cc"/>
<g clip-path="url(#hnd)"><path d="M442.9 35.5Q461.4 56 487 52.5L489.1 48.8Q463.4 52.3 444.7 31.8Z" fill="#f2f2f4"/><path d="M442.9 35.5Q461.4 56 487 52.5" fill="none" stroke="#41373a" stroke-width="0.85"/><path d="M444.7 31.8Q463.4 52.3 489.1 48.8" fill="none" stroke="#41373a" stroke-width="0.7"/><path d="M445.4 30.5Q464.4 49 490.8 46" fill="none" stroke="#8d8e92" stroke-width="0.6"/><path d="M446.6 28.1Q465.4 48.6 491.3 45.1L493.4 41.4Q467.3 44.9 448.4 24.4Z" fill="#f2f2f4"/><path d="M446.6 28.1Q465.4 48.6 491.3 45.1" fill="none" stroke="#41373a" stroke-width="0.85"/><path d="M448.4 24.4Q467.3 44.9 493.4 41.4" fill="none" stroke="#41373a" stroke-width="0.7"/><path d="M449.1 23.1Q468.4 41.6 495 38.6" fill="none" stroke="#8d8e92" stroke-width="0.6"/><path d="M450.3 20.7Q469.3 41.2 495.5 37.7L497.2 34Q471 37.5 452.1 17Z" fill="#f2f2f4"/><path d="M450.3 20.7Q469.3 41.2 495.5 37.7" fill="none" stroke="#41373a" stroke-width="0.85"/><path d="M452.1 17Q471 37.5 497.2 34" fill="none" stroke="#41373a" stroke-width="0.7"/><path d="M452.8 15.7Q472 34.2 498.5 31.2" fill="none" stroke="#8d8e92" stroke-width="0.6"/><path d="M454 13.3Q472.8 33.8 498.9 30.3L500.6 26.6Q474.6 30.1 455.8 9.6Z" fill="#f2f2f4"/><path d="M454 13.3Q472.8 33.8 498.9 30.3" fill="none" stroke="#41373a" stroke-width="0.85"/><path d="M455.8 9.6Q474.6 30.1 500.6 26.6" fill="none" stroke="#41373a" stroke-width="0.7"/><path d="M456.5 8.3Q475.6 26.8 501.9 23.8" fill="none" stroke="#8d8e92" stroke-width="0.6"/><path d="M457.7 5.9Q476.4 26.4 502.3 22.9L504.1 19.2Q478.2 22.7 459.5 2.2Z" fill="#f2f2f4"/><path d="M457.7 5.9Q476.4 26.4 502.3 22.9" fill="none" stroke="#41373a" stroke-width="0.85"/><path d="M459.5 2.2Q478.2 22.7 504.1 19.2" fill="none" stroke="#41373a" stroke-width="0.7"/><path d="M460.2 0.9Q479.1 19.4 505.4 16.4" fill="none" stroke="#8d8e92" stroke-width="0.6"/><path d="M461.3 -1.5Q480 19 505.8 15.5L507.5 11.8Q481.8 15.3 463.2 -5.2Z" fill="#f2f2f4"/><path d="M461.3 -1.5Q480 19 505.8 15.5" fill="none" stroke="#41373a" stroke-width="0.85"/><path d="M463.2 -5.2Q481.8 15.3 507.5 11.8" fill="none" stroke="#41373a" stroke-width="0.7"/><path d="M463.8 -6.5Q482.7 12 508.8 9" fill="none" stroke="#8d8e92" stroke-width="0.6"/><path d="M465 -8.9Q483.6 11.6 509.2 8.1L511 4.4Q485.4 7.9 466.9 -12.6Z" fill="#f2f2f4"/><path d="M465 -8.9Q483.6 11.6 509.2 8.1" fill="none" stroke="#41373a" stroke-width="0.85"/><path d="M466.9 -12.6Q485.4 7.9 511 4.4" fill="none" stroke="#41373a" stroke-width="0.7"/><path d="M467.5 -13.9Q486.3 4.6 512.3 1.6" fill="none" stroke="#8d8e92" stroke-width="0.6"/><path d="M468.7 -16.3Q487.2 4.2 512.7 0.7L514.4 -3Q489 0.5 470.6 -20Z" fill="#f2f2f4"/><path d="M468.7 -16.3Q487.2 4.2 512.7 0.7" fill="none" stroke="#41373a" stroke-width="0.85"/><path d="M470.6 -20Q489 0.5 514.4 -3" fill="none" stroke="#41373a" stroke-width="0.7"/><path d="M471.2 -21.3Q489.9 -2.8 515.7 -5.8" fill="none" stroke="#8d8e92" stroke-width="0.6"/><path d="M472.4 -23.7Q490.8 -3.2 516.1 -6.7L517.8 -10.4Q492.6 -6.9 474.3 -27.4Z" fill="#f2f2f4"/><path d="M472.4 -23.7Q490.8 -3.2 516.1 -6.7" fill="none" stroke="#41373a" stroke-width="0.85"/><path d="M474.3 -27.4Q492.6 -6.9 517.8 -10.4" fill="none" stroke="#41373a" stroke-width="0.7"/><path d="M474.9 -28.7Q493.5 -10.2 519.1 -13.2" fill="none" stroke="#8d8e92" stroke-width="0.6"/><path d="M439.4 42.5Q455 56.5 481.9 61.9L466.2 78Q449 74 435 61.2Z" fill="#c7c9cc"/><path d="M435 61.2Q449 74 466.2 78L458 87.5Q444.5 85 432.5 75.6Z" fill="#f3f3f5"/><path d="M432.5 75.6Q444.5 85 458 87.5L447.5 100.6Q437.5 99.5 428.7 92.5Z" fill="#c4c6c9"/><path d="M439.4 42.5Q455 56.5 481.9 61.9" fill="none" stroke="#41373a" stroke-width="0.95"/><path d="M435 61.2Q449 74 466.2 78" fill="none" stroke="#41373a" stroke-width="0.95"/><path d="M432.5 75.6Q444.5 85 458 87.5" fill="none" stroke="#41373a" stroke-width="0.95"/></g>
<path d="M460.6 -2L439.4 42.5L434.4 62.5L431.9 76.2L428.7 92.5Q437.5 99.5 447.5 100.6L465 78.7L481.2 62.5L495 38.7L514 -2Z" fill="none" stroke="#41373a" stroke-width="1.15" stroke-linejoin="round"/>
<path d="M429.7 94L412 142.5L401 177.5L400.5 178.5L406.2 180.6L417 150L443.5 100.3Q436 99.5 429.7 94Z" fill="#c6c8cb" stroke="#41373a" stroke-width="1" stroke-linejoin="round"/>
<path d="M434 103L424 128L416 146" fill="none" stroke="#8f9094" stroke-width="0.8"/>
<path d="M400.5 178.5L406 180" fill="none" stroke="#41373a" stroke-width="0.9"/>
<path d="M400.5 178.5Q392 189 383.8 197Q374 203 365 206L342.5 218.8Q348 222.5 355 225Q361 227.3 367.5 227.8Q373 228.2 377.5 227Q381.5 225.5 383.8 220Q386 211 390 202.5Q395 195 402.5 186L406.2 180.6Z" fill="#c8cacd" stroke="#41373a" stroke-width="1" stroke-linejoin="round"/>
<path d="M352.5 218.8L379.4 203.5" fill="none" stroke="#77787d" stroke-width="0.8"/>
<clipPath id="silB"><path d="M624 480C626.3 477 632.3 470.6 638 462C643.7 453.4 652.7 438.8 658 428.5C663.3 418.2 665.9 413.1 670 400C674.1 386.9 678.8 366.7 682.5 350C686.2 333.3 689.2 316.7 692.5 300C695.8 283.3 699.6 264.3 702.5 250C705.4 235.7 707.9 222.3 710 214C712.1 205.7 712.1 205.7 715 200C717.9 194.3 721.7 188.8 727.5 180C733.3 171.2 742.1 157.9 750 147.5C757.9 137.1 766.7 126.2 775 117.5C783.3 108.8 795.8 98.8 800 95L805 96L806 102.5L811 104L813 107.5C810 110.4 802.2 117.5 795 125C787.8 132.5 777.5 142.9 770 152.5C762.5 162.1 754.7 173.4 750 182.5C745.3 191.6 743 200.4 742 207C741 213.6 741.8 215 744 222C746.2 229 753.2 244.5 755 249L758 275L906 275L901 229C900.8 228.3 901.4 228.2 900 225C898.6 221.8 895.4 215.6 892.5 210C889.6 204.4 886.2 197.4 882.5 191.2C878.8 184.9 874.6 178.3 870 172.5C865.4 166.7 859.1 160 855 156.2C850.9 152.4 848.3 151.4 845.5 149.5C842.7 147.6 839.3 145.8 838.1 145L848.7 132.7C851.8 134.3 861.3 137.9 867.5 142.5C873.7 147.1 880.4 153.3 886 160C891.6 166.7 896 174.2 901 182.5C906 190.8 911 200.4 916 210C921 219.6 926.7 233.2 931 240C935.3 246.8 940.2 249.2 942 251L956 248C956.8 251.7 959.8 264.7 961 270C962.2 275.3 961.4 272.7 963.5 280C965.6 287.3 970.6 305.7 973.5 314C976.4 322.3 976.8 319 981 330C985.2 341 992.2 363.3 998.5 380C1004.8 396.7 1010.6 413.3 1018.5 430C1026.4 446.7 1041.4 471.7 1046 480Z"/></clipPath>
<clipPath id="boneB"><path d="M717 479.5C718.3 475.2 722.6 460.3 724.7 453.5C726.8 446.7 727.8 444 729.5 438.5C731.2 433 733.4 430.9 734.7 420.5C736 410.1 736.4 390.2 737.2 376C738 361.8 739.1 347.6 739.7 335.5C740.3 323.4 740.2 313 741 303.5C741.8 294 743.7 284.3 744.7 278.5C745.7 272.7 746.4 271.3 747.2 268.5C748 265.7 748.2 265.1 749.7 261.5C751.2 257.9 753.5 250.6 756 247.2C758.5 243.8 761.2 242.4 764.7 241C768.2 239.6 772 238.6 777.2 238.7C782.4 238.8 790 240.1 796 241.5C802 242.9 808.9 246 813.5 247.2C818.1 248.4 819.1 249.3 823.5 248.5C827.9 247.7 833.9 245.3 839.7 242.2C845.5 239.1 851.8 233.2 858.5 229.7C865.2 226.2 873.8 221.4 879.8 221C885.8 220.6 890.1 223.9 894.5 227.5C898.9 231.1 902.7 236.9 906 242.5C909.3 248.1 912.2 254.6 914.5 261C916.8 267.4 917.8 270.2 919.5 281C921.2 291.8 923 311.8 924.5 325.5C926 339.2 927 350.5 928.5 363C930 375.5 931 388.9 933.5 400.5C936 412.1 941 425.2 943.5 432.5C946 439.8 944.5 436.7 948.5 444.5C952.5 452.3 964.1 473.7 967.2 479.5Z"/></clipPath>
<path d="M624 480C626.3 477 632.3 470.6 638 462C643.7 453.4 652.7 438.8 658 428.5C663.3 418.2 665.9 413.1 670 400C674.1 386.9 678.8 366.7 682.5 350C686.2 333.3 689.2 316.7 692.5 300C695.8 283.3 699.6 264.3 702.5 250C705.4 235.7 707.9 222.3 710 214C712.1 205.7 712.1 205.7 715 200C717.9 194.3 721.7 188.8 727.5 180C733.3 171.2 742.1 157.9 750 147.5C757.9 137.1 766.7 126.2 775 117.5C783.3 108.8 795.8 98.8 800 95L805 96L806 102.5L811 104L813 107.5C810 110.4 802.2 117.5 795 125C787.8 132.5 777.5 142.9 770 152.5C762.5 162.1 754.7 173.4 750 182.5C745.3 191.6 743 200.4 742 207C741 213.6 741.8 215 744 222C746.2 229 753.2 244.5 755 249L758 275L906 275L901 229C900.8 228.3 901.4 228.2 900 225C898.6 221.8 895.4 215.6 892.5 210C889.6 204.4 886.2 197.4 882.5 191.2C878.8 184.9 874.6 178.3 870 172.5C865.4 166.7 859.1 160 855 156.2C850.9 152.4 848.3 151.4 845.5 149.5C842.7 147.6 839.3 145.8 838.1 145L848.7 132.7C851.8 134.3 861.3 137.9 867.5 142.5C873.7 147.1 880.4 153.3 886 160C891.6 166.7 896 174.2 901 182.5C906 190.8 911 200.4 916 210C921 219.6 926.7 233.2 931 240C935.3 246.8 940.2 249.2 942 251L956 248C956.8 251.7 959.8 264.7 961 270C962.2 275.3 961.4 272.7 963.5 280C965.6 287.3 970.6 305.7 973.5 314C976.4 322.3 976.8 319 981 330C985.2 341 992.2 363.3 998.5 380C1004.8 396.7 1010.6 413.3 1018.5 430C1026.4 446.7 1041.4 471.7 1046 480Z" fill="#ef95a7"/>
<g clip-path="url(#silB)"><path d="M632.5 480l.1-.3 .7-.4 .5-.1 0-.3-.9-.8-1.1-1-.9-1.3-.2-1 .8 0 2 .2 2.3 1.1 1.5 1 .3-.4-.7-1.2-.9-1-.1-.8 .6 .1 1.1 .4 .6 .1-.4-.8-1.2-1.6-1-1.7-.5-1.4 .6-.3 1.7 .7 2.7 1.8 2.8 2.2 1.3 1-.6-.9-2.3-2.4-2.2-2.7-1.2-1.8 .2-.9 1.2 .1 1.7 .9 1.9 1 1 .6-.2-.5-.6-1.3-.2-.9 .5 .1 1.9 1 1.8 1.1 .4 0-1.8-2-2.7-2.7-1.8-2.6-.2-1.3 1.5 .6 3 1.7 3.7 2.3 2.3 1.6 .2 .1-1-1.2-1.6-1.7-1.6-1.7-.7-1.3-.1-.8 .6-.3 1.6 .9 2.4 1.1 1.7 .8 .8 .2 .5-.4 .3-.5 .4-.7 .3-.4 1.1 .5 .7 .2-1.9-1.6-3-2.7-1.9-1.8-.8-1.1 .1-.8 .4-.3 1-.2 1.1 .2 1.2 .2 .7-.2-.2-.5-.3-.8 .3-.3 1.7 .4 2.9 1.5 2.3 1.2 .4-.1-1.8-1.4-2.9-2.2-2-1.9-1.1-1.3-.1-1 .6-.3 1 0 1.4 .2 1.5 .3 1.4 .6 .9-.1-.1-.4-.5-1-.5-.6 .3-.4 1 .2 1.5 .3 .9 .2-.1-.4-1.4-1.4-1.9-1.5-1.5-1.6-.6-1.3 .4-.4 1.4 .2 2 .6 2.4 .9 1.9 .8 .8 .2 0-.6-.6-.7-1-.9-1-1.2-.6-1-.2-.7 .3-.4 .8-.1 .6 0 0-.5-.7-1-.8-1.1-.1-.9 1 0 1.8 .3 2 1 1.6 .5 1.2 .1 .5 .1-.3-.4-1.5-1.4-2.2-1.8-1.3-1.3 0-.9 .9 .1 1.3 0 .6-.1 0-.4 0-.7 0-.4 .4-.4 .5-.4 .8-.1 1.6 .7 2.2 .9 1.2 .5-.7-.8-2.4-1.9-1.9-1.9-.5-1.2 .7-.3 1.3 .3 .9 .2 .4-.3 0-.5 .1-.6 .1-.5 .3-.2 1-.2 1.8 .5 1.8 .8 .6 0-1.3-1.2-2.5-1.7-1.4-1.2-.2-.9 .8-.1 1.1-.1 .8-.2 .4-.2 .8-.3 .7-.1 .1-.3-.6-.7-.3-.8 .3-.3 1.2 0 1-.1-.2-.3-1.1-.9-.8-.8-.3-.5 .1-.7 0-.5 0-.5 .5-.3 1.4-.1 2.3 .2 1.3 .2-.1-.6-1.3-.7-1.4-.9-.8-.5-.3-.6-.3-.6-.2-.6 .2-.5 .8-.5 1.1 0 1.4-.2 .7-.3-.3-.4-.8-.7-.5-.4 .2-.5 .9-.3 .9-.1 .5-.4-.4-.4-1.1-.8-.9-.8-.6-.5-.1-.8 .1-.6 .4-.1 .7-.4 1-.3 1.8 0 1.8 .2 1.2 .1-.1-.3-1.3-1-2.3-.9-1.5-1-.9-.8 .1-.5 .8-.4 1-.2 .8-.3 .5-.4 .2-.2 0-.6 .1-.5 .2-.5 .3-.1 .6-.3 .8-.3 .8 0 .6-.3 0-.3-.8-.8-1.6-1-1.3-.7-.9-1.1-.1-.6 .9-.2 1.6-.3 1.7 .3 1.4-.1 .5-.1 0-.5-.3-.4-.4-.7-.7-.5-.7-.7-.5-.7 0-.6 .5-.4 .8-.2 .9-.3 0-.2-.4-.7-.2-.6 .3-.5 .7-.3 .9 .1 .6-.4 0-.2-.1-.6-.2-.4 .9-.2 2 .7 1.8 0 .7-.3 .2-.4 .2-.5-.3-.7-.3-.6-.1-.9-1.1-.6-1.8-1.1-1.6-.8-.2-.6 .5-.4 .8-.2 .2-.5-.7-.7-1-.9-.7-.7 .3-.4 1.3-.4 1.9 .1 2.1 .4 1.1-.2-.1-.3-1-.5-1.4-.9-1-.8-.5-.7 .1-.5 .7-.4 .6 0 .2-.5-.5-.7-.6-.7-.2-.6 .8-.3 1.8 0 1.9 0 .8 0-.3-.4-1-.7-1.4-.9-1.1-.5-.9-1-.3-.6 .8-.5 1.5-.1 1.9 0 .9 0-.3-.6-.8-.4-.5-.6-.1-.5 .2-.5 .2-.4 .2-.4 .3-.5-.1-.2-.6-.7-.8-.6-.5-.9 .1-.5 1-.2 1.8-.1 1.8 .1 .6-.4-.8-.4-1.4-.8-.7-.7 .1-.5 .6-.1 .8-.4-.1-.3-.9-.7-.8-.7-.5-.7 .1-.5 .8-.4 .9-.1 1.2-.4 .8-.1 .5-.5-.1-.3-.5-.4-.9-.8-.7-.6-.4-.5 .2-.4 .6-.5 .6-.3 .4-.4-.2-.5-.3-.5-.1-.6 .2-.4 .6-.3 .6-.3 .3-.4-.1-.5-.2-.4-.3-.5-.3-.5-.4-.5-.4-.7 0-.5 .5-.3 1.2-.5 1.8 .1 1.2-.2 .1-.4-1-.4-1.6-.8-1.1-.6-.7-.6-.1-.7 .2-.4 .5-.4 .7-.4 .6-.3 .6-.4 .3-.4 .1-.5 .4-.4 .6-.2 1-.3 .6-.1-.3-.6-1.5-.5-1.8-.8-1.2-.7-.4-.6 .4-.7 1-.4 1-.1 .8-.4 .4-.5 .2-.3 .2-.5 .2-.2 .4-.5 .2-.3 .2-.5 .1-.3-.1-.3-.5-.7-1.1-.5-1-.7-.8-.7-.2-.4 .5-.5 1-.5 1.1-.1 1.1-.5 .9-.2 .4-.2 .2-.4-.3-.7-.7-.4-.8-.5-.4-.4 .1-.6 .4-.3 .1-.3-.3-.8-.8-.5-.7-.7-.1-.6 .8-.3 1.3-.5 2-.1 1.4 0 .4-.4-.7-.3-1.4-.7-1.8-.7-1.3-.6-.6-.8 .4-.4 1.3-.5 1.8-.3 1.4 0 .1-.5-.8-.3-.9-.6-.1-.5 .5-.5 .4-.1 0-.5-.7-.6-.7-.6-.5-.6-.2-.6 .1-.5 .4-.4 .8-.4 1.3-.4 1.7 0 .9-.1 0-.6-1.2-.4-1.5-.7-1.1-.4-.5-.6-.2-.6 .1-.5 .4-.5 .6-.5 .7-.4 .8-.2 .3-.5-.3-.3-.2-.6 .1-.5 .5-.2 .6-.5 .1-.3-.4-.6-.6-.3-.5-.7-.4-.6-.5-.3-.1-.6 .3-.5 .8-.4 1.2-.4 .9-.2 .1-.3-.3-.6-.5-.3-.2-.6-.1-.6-.1-.3 0-.5 .1-.3 .1-.6-.2-.5-.4-.4-.4-.6 0-.6 .6-.4 1.1-.5 1.1-.1 .5-.2-.1-.6-.5-.3-.3-.6-.4-.3-.3-.6-.1-.6-.1-.3 .1-.5 .1-.6-.3-.3-.4-.6-.1-.6 .4-.5 1-.4 1.5 0 1-.5-.2-.2-.9-.7-.8-.4-.2-.6 .4-.4 .5-.2 0-.6-.7-.6-.7-.4-.5-.6-.1-.5 .3-.5 .6-.4 .8-.4 1.3-.4 1.1-.1 .5-.4-.6-.3-1.2-.7-1-.7-.2-.5 .4-.4 .6-.2 .2-.5-.5-.5-.6-.6-.4-.5 .1-.5 .4-.6 .7-.4 1-.3 1.3-.3 1.1 0 .2-.4-1-.4-1.8-.7-1.2-.7-.4-.7 .3-.4 .9-.5 1-.2 .5-.4-.2-.4-.5-.7-.2-.4 .1-.4 .5-.2 .9-.6 .7-.2 .2-.3-.4-.5-1-.5-.8-.8-.7-.4-.2-.7 .5-.6 1-.2 1.6-.4 1.4-.1 .5-.2-.6-.4-1.3-.5-1.1-.8-.5-.4 0-.6 .5-.6 .4-.2 .2-.6-.1-.3-.1-.6 0-.5 .4-.5 .6-.2 .8-.4 .6-.2 .3-.5 0-.3-.2-.6-.5-.3-.7-.7-.8-.6-.8-.7-.4-.6 .1-.5 .9-.3 1.3-.3 1.7-.1 1.3-.3 .3-.2-.4-.5-1-.4-1-.7-.6-.6-.2-.5 0-.5 .1-.4 .3-.6 .3-.4 .1-.5-.1-.4 0-.5 .1-.6 .4-.4 .9-.2 1.3-.1 1.1-.1 .9-.2 .8-.2 1-.3 .6-.2 .2-.4 .2-.5 .1-.4-.3-.5-1-.7-1.8-1-1.8-1-.6-.7 .1-.4 .6-.5 .9-.1 .9 .1 .8-.3 .3-.2-.1-.4-.5-.8-.9-.7-.5-.9-.1-.7 .3-.4 .7 0 .8-.2 .6-.3-.1-.3-.1-.7 .1-.6 .3-.4 .6-.2 .9 .1 .8 .2 .6-.1 .4-.3-.2-.4-.5-1-.6-1.1-.5-1-.1-.7 .5-.3 1.1 0 1.2 .4 1.2 .5 .6 .1 .2-.4 0-.6-.2-.6-.2-.7-.1-.7 .1-.5 .3-.4 .4-.3 .4-.3 .2-.4 .1-.6 .2-.4 .5-.2 .9 0 1 .4 .8-.1 .1-.2-.2-.7-.5-.7-.3-.8-.3-.8-.2-.7 .1-.5 .7-.4 .9 0 1.3 .4 1.1 .1 .3-.1-.2-.7-.5-.6-.4-.8-.3-.7-.1-.7-.1-.6 .2-.5 .7-.2 .9-.1 1.2 .4 .8-.2 .1-.2-.3-.8-.4-.8-.4-.5 0-.6 0-.6 .2-.5 .3-.4 .3-.1 .6-.3 .4-.4 .3-.4 .1-.2 .5-.4 .9-.1 .7 .1 .4-.4-.5-.6-1.2-1.1-.8-1.1-.4-.8 .5-.3 1.1 0 1.5 .3 1.5 .2 .6 0-.1-.6-.6-.6-.5-.8-.2-.8 0-.5 .1-.5 .3-.4 .4-.4 .3-.3 .2-.4 .3-.5 .3-.3 .5 0 .9 0 .8 .1 .5-.3-.3-.5-.7-1-.6-1-.3-.9 .1-.5 .6-.2 1 0 1.2 .2 1 .4 .7-.1 .1-.2-.3-.8-.7-1.1-.5-.9-.3-.8 .1-.5 .5-.2 .9 0 .9 .1 .9 0 .4-.3-.1-.4-.2-.6 .1-.6 .4-.3 .6-.2 .5-.2 .1-.2-.2-.8-.3-.8-.2-.8 0-.6 .4-.3 .8 0 .9 0 1.2 .3 .8 .3 .6-.2-.1-.3-.2-.9-.6-.9-.4-.9-.1-.8 .2-.5 .6-.2 .8 0 .8 .1 .6-.1 .1-.3 0-.5 .3-.4 .5-.2 .5-.3 0-.2 0-.7 .1-.5 .3-.4 .3-.4 0-.4 0-.7 .2-.4 .6-.2 1 .2 1 .2 .5 0 .3-.4 0-.4 .1-.5-.2-.9-.4-.7-.3-.9 .1-.6 .5-.3 .9 .1 .9 .1 .8 0 .4 0 .5-.2 .3-.1 .4-.4 .1-.6-.3-.6-.2-.8 .2-.6 .4-.3 .3-.1 .5-.3 .2-.5 0-.6 .2-.6 .4-.3 .5-.2 .5 .1 .7-.1 .6-.1 .7 0 .5 .2 .5-.2-.1-.4-.3-1-.4-1.1-.2-.9 .2-.4 .6-.1 .8 0 .7 0 .3-.1 .3-.5 .3-.4 .3-.2 .5-.2 .6-.1 .4 0 .5-.2 .3-.1 .3-.5-.1-.6-.1-.9 0-.9 .2-.7 .5-.1 .7 .4 1.1 .4 1 .4 .2-.1 .1-.7-.2-.8 .1-.7 .4-.4 .2-.1 .5-.2 .6-.2 .2-.1 .4-.3 .3-.5 .3-.4 .2-.5 .3-.4 .3-.1 .6 0 .9 .3 .9 .3 .3 0 .1-.7-.4-1.1-.3-1.1-.1-.7 .5-.5 .6 .1 .8 .3 1.1 .4 .9 .3 .5 0 .2-.4-.1-.7-.2-.9-.3-.7-.2-.6 .2-.7 .2-.2 .5-.4 .4-.1 .5-.4 .3-.2 .3-.5 .2-.2 .5-.4 .6 0 1-.2 .5 0 .3-.6-.6-.5-.8-1-.5-.7-.2-.6 .3-.4 .4-.3 .6-.4 .5-.3 .3-.3 .1-.5 .1-.4 .4-.3L806 96L830 70L960 90L990 240L952 246L952 250l-.3 .4-.1 .3 .2 .5 0 .4-.2 .4-.2 .4 .3 .5 .5 .5 .4 .6 .1 .5-.2 .5-.7 .5-1.5 .4-1.9 .1-.9 .2 1.1 .4 2.4 .5 1.5 .7 .4 .6-.3 .6-.6 .2-.7 .6-1.1 .6-1.2 .4-.2 .3 1.3 .3 1.2 .3 .3 .7-.3 .4-.4 .5 .3 .4 .3 .4 0 .5-.1 .5 .3 .4 .4 .5-.3 .5-1.4 .6-1.3 .7 0 .2 .8 .4-.3 .8-1.4 1-1.1 1-.4 .6-.1 .5 .1 .6 .1 .5 .1 .3 .5-.1 1.7 0 2.5-.4 1.7 .3 .3 .2 0 .5-.3 .6-.9 .7-1.3 .8-.5 .4 1 .1 1.5 .3 .6 .4-.2 .3-.3 .6 0 .6 .4 .2 .4 .4 .1 .5-.2 .5-.2 .6-.3 .5-.4 .4-.6 .6-.2 .4 .9 .3 1.7 .1 1.5 .2 .7 .3-.7 .7-1.5 .9-2.3 1.1-1 .6 .5 .1 .9 0-.4 .1-1.2 .6-.7 .8-.1 .5 .1 .6 .2 .5 .2 .2 .5 .4 1.1 .6 2 0 1.9 0 .6 .4 0 .6-.3 .6 0 .5 .5 .4 .6 .4 .3 .4-.2 .6-.7 .4-.7 .7-.3 .6 0 .2 .2 .5 .2 .4 .7 .3 1.2 .1 1.3 .2 .8 .2 0 .6-1 .8-1.8 1.1-1.7 .7-.3 .3 1.1 .3 1.5-.1 .9 .4 .2 .5-.3 .3 0 .5 .7 .4 .9 .3 .9 .3 .3 .6-.6 .6-1.3 .8-1.9 .9-1.1 .5 .2 .5 1.2-.1 1.4 .2 .9 .2 .2 .5 0 .5 .3 .2 .7 .3 1 .2 .7 .5-.2 .6-1.3 1-2.2 1-1.4 1 .4 .1 2-.2 1.7-.2 .4 .4-.2 .7-.3 .5 .7 .2 .7 .2 .4 .4 .2 .4 .3 .3 .3 .5-.5 .8-1.7 1.3-1.2 1 .5 0 1.6-.3 1.4-.3 .7 .2 .6 .3 .6 .3 .2 .6-.6 .9-1 .7-.1 .4 .8 .1 .7 .5-.4 .5-1.2 .9-.7 .6 .5 .3 1.2 0 1.2 0 .9 .2 1.1 .1 .9 .2 0 .5-1.2 1.5-2.8 1.2-2.3 1.2-.3 .2 1.8-.2 2.5-.4 1.6-.1 1 .3 .6 .5 .2 .6-.6 .6-1.1 1-1.5 .9-.5 .4 .8 .1 1.4 .1 .5 .3-.6 .6-1.1 .9-.5 .4 1.1 .1 2-.1 1.6 0 .8 .3-.3 .8-1.2 .9-1.5 1-1.4 .6-.3 .6 .5 .1 1.1 .2 1.1 0 .8 .3 .3 .4 0 .6-.1 .6-.2 .3 .5 .4 1 .2 .9 .3 .1 .6-1.1 .8-2.3 1.3-2.1 .8-.1 .3 2.1-.3 2.6-.5 1.5 .2 .4 .4-.3 .7-.4 .7-.4 .7-.4 .7-.4 .4 .2 .5 .4 .2 0 .6-.9 .5-.8 .8 .6 .1 2.2-.3 1.9 0 .9 .3-.2 1-1.1 .6-1.3 .9-1.5 1.1-1.3 .6-.5 .5 1.1 0 2.5-.5 2 0 .8 .4-.2 .6-.5 .7 0 .3 .4 .5-.2 .6-.8 .8-1.3 .7-.1 .6 .5 .2 .2 .2-.5 .7-.5 .5 .9 0 2.3-.1 1.8 0 1 .3-.2 .6-.5 1-.7 .5-.6 .7-1.5 1-2 .9-1.2 .7 .6 0 2.4-.1 2.5-.5 1.1 .2 .2 .5-.5 .6-.2 .7 .2 .4 .6 .4 .5 .3 .3 .5-.1 .5-.4 .7-.7 .7-1.4 .9-1.6 .8-1 .8 .2 .2 1.8-.3 3-.5 2-.2 1.1 .2-.2 .7-1 .9-.8 .8-.1 .6 .4 .2 .6 .3 .2 .6-.5 .7-1 .9-1.2 .7-1 .6-.5 .7 .1 .3 1.1-.1 2.3-.5 2.3-.3 1.7 0 .6 .6-.6 .8-1.3 1-.8 .8 .1 .5 .7 0 .6 .4-.2 .6-1.2 .9-1.8 1.2-1.3 .7-.1 .3 .9 0 1.7-.1 2-.2 1.3-.1 1.1 .3 .6 .3 0 .6-.4 .9-.7 .8-.7 .5-.3 .6 .1 .5 .1 .5-.4 .4-.8 .8-1 .9-.3 .4 1.1-.2 2.3-.3 2.2-.3 1.5 0 .6 .5-.7 .8-1.2 1-1.3 1-.7 .7 .4 .4 .7 0 .7 .3-.2 .5-.7 .9-.8 .5-.1 .6 .7 0 1.3 0 1.2 0 .6 .3 .4 .4 .2 .4 .4 .4 .6 .3 .3 .3-.1 .9-.8 .9-1.8 .9-1.6 1.2-.6 .5 .9 .2 1.6-.4 1.8-.2 .9 .2 .4 .4-.1 .2 .2 .5 .4 .4 .6 .3 .4 .3 0 .6-.3 .7-.3 .6 0 .6 .4 .4 .2 .4-.5 .6-1.6 1.2-1.9 1.4-1.1 .7 .8 0 2.7-1 3.3-1.1 2.3-.3 1.1 .1-.1 .9-.9 1-1 .9-.6 .9-.4 .7-.4 .8-.7 .6-.5 .8-.2 .3 .6 .1 .9 .2 .6 0 .1 .5-.2 .4 .5 .3 1.4-.3 1.8-.2 1.6-.2 .9 .4-.4 .8-1.4 1.3-1.8 1.4-1.5 1-.2 .7 .4 .1 .6 .3 .2 .2 .1 .3 .5 .3 .8-.1 1.1 .1 .7 .3 .2 .2 .4 .4 .7 .2 1.2 .1 1.1 0 .5 .4-.7 .9-1.7 1.4-2.8 2-2 1.3-.1 .3 1.5-.4 2.3-.8 1.9-.4 .9 .2 .2 .5-.1 .6-.1 .4 .1 .5 .3 .4 .4 .4 .4 .1 1 .1 1 .1 .7 .2-.1 .8-1.1 1.2-2.3 1.8-2.6 1.6-1.2 .9 .7 0 2.2-.9 2.7-.9 1.8-.3 .7 .1 .1 .5-.2 .7-.1 .6 .1 .6 .2 .3 .4 .4 .5 .3 .6 .2 .6 .2 .5 .2 .1 .5-.4 1-1.3 1.3-2.1 1.7-1.7 1.2-.4 .5 1.1-.1 2-.9 2.4-.9 1.3-.3 .7 .4 .1 .4 0 .4 .4 .5 .5 .2 .4 .3 .1 .4-.1 .8-.1 .4 .6 .4 .8-.1 .9 .1 .1 .7-.9 1.1-1.9 2.2-2.1 1.9-1.2 .9 .4 .2 1-.4 1-.3 1 0 1.1-.4 1.8-1 2.1-.9 1.9-1.2 1.7-.3 .5 .4-.6 1.1-1.1 1.8-1.1 1.7-1.3 1.5-.4 1.2 0 .3 .4 .1 .5 .3 .3 .1 .2 .3 .3 .4 .3 .1 .5 .3 .4 0 .7 .1 .7-.3 .9-.3 1-.3 1.1-.4 1.1-.3 1 0 .5 .4-.1 .8-.6 1.5-1.2 1.9-2 2.6-1.1 1.8-.2 .4 .9-.6 1.6-1.1 1.5-1 1.3-.6 .6 .2 .3 .4 .2 .5 .2 .4 .4 .3 .1 .1L1036 490L632 490Z" fill="#f5b5c3"/><path d="M632.5 480l.1-.3 .7-.4 .5-.1 0-.3-.9-.8-1.1-1-.9-1.3-.2-1 .8 0 2 .2 2.3 1.1 1.5 1 .3-.4-.7-1.2-.9-1-.1-.8 .6 .1 1.1 .4 .6 .1-.4-.8-1.2-1.6-1-1.7-.5-1.4 .6-.3 1.7 .7 2.7 1.8 2.8 2.2 1.3 1-.6-.9-2.3-2.4-2.2-2.7-1.2-1.8 .2-.9 1.2 .1 1.7 .9 1.9 1 1 .6-.2-.5-.6-1.3-.2-.9 .5 .1 1.9 1 1.8 1.1 .4 0-1.8-2-2.7-2.7-1.8-2.6-.2-1.3 1.5 .6 3 1.7 3.7 2.3 2.3 1.6 .2 .1-1-1.2-1.6-1.7-1.6-1.7-.7-1.3-.1-.8 .6-.3 1.6 .9 2.4 1.1 1.7 .8 .8 .2 .5-.4 .3-.5 .4-.7 .3-.4 1.1 .5 .7 .2-1.9-1.6-3-2.7-1.9-1.8-.8-1.1 .1-.8 .4-.3 1-.2 1.1 .2 1.2 .2 .7-.2-.2-.5-.3-.8 .3-.3 1.7 .4 2.9 1.5 2.3 1.2 .4-.1-1.8-1.4-2.9-2.2-2-1.9-1.1-1.3-.1-1 .6-.3 1 0 1.4 .2 1.5 .3 1.4 .6 .9-.1-.1-.4-.5-1-.5-.6 .3-.4 1 .2 1.5 .3 .9 .2-.1-.4-1.4-1.4-1.9-1.5-1.5-1.6-.6-1.3 .4-.4 1.4 .2 2 .6 2.4 .9 1.9 .8 .8 .2 0-.6-.6-.7-1-.9-1-1.2-.6-1-.2-.7 .3-.4 .8-.1 .6 0 0-.5-.7-1-.8-1.1-.1-.9 1 0 1.8 .3 2 1 1.6 .5 1.2 .1 .5 .1-.3-.4-1.5-1.4-2.2-1.8-1.3-1.3 0-.9 .9 .1 1.3 0 .6-.1 0-.4 0-.7 0-.4 .4-.4 .5-.4 .8-.1 1.6 .7 2.2 .9 1.2 .5-.7-.8-2.4-1.9-1.9-1.9-.5-1.2 .7-.3 1.3 .3 .9 .2 .4-.3 0-.5 .1-.6 .1-.5 .3-.2 1-.2 1.8 .5 1.8 .8 .6 0-1.3-1.2-2.5-1.7-1.4-1.2-.2-.9 .8-.1 1.1-.1 .8-.2 .4-.2 .8-.3 .7-.1 .1-.3-.6-.7-.3-.8 .3-.3 1.2 0 1-.1-.2-.3-1.1-.9-.8-.8-.3-.5 .1-.7 0-.5 0-.5 .5-.3 1.4-.1 2.3 .2 1.3 .2-.1-.6-1.3-.7-1.4-.9-.8-.5-.3-.6-.3-.6-.2-.6 .2-.5 .8-.5 1.1 0 1.4-.2 .7-.3-.3-.4-.8-.7-.5-.4 .2-.5 .9-.3 .9-.1 .5-.4-.4-.4-1.1-.8-.9-.8-.6-.5-.1-.8 .1-.6 .4-.1 .7-.4 1-.3 1.8 0 1.8 .2 1.2 .1-.1-.3-1.3-1-2.3-.9-1.5-1-.9-.8 .1-.5 .8-.4 1-.2 .8-.3 .5-.4 .2-.2 0-.6 .1-.5 .2-.5 .3-.1 .6-.3 .8-.3 .8 0 .6-.3 0-.3-.8-.8-1.6-1-1.3-.7-.9-1.1-.1-.6 .9-.2 1.6-.3 1.7 .3 1.4-.1 .5-.1 0-.5-.3-.4-.4-.7-.7-.5-.7-.7-.5-.7 0-.6 .5-.4 .8-.2 .9-.3 0-.2-.4-.7-.2-.6 .3-.5 .7-.3 .9 .1 .6-.4 0-.2-.1-.6-.2-.4 .9-.2 2 .7 1.8 0 .7-.3 .2-.4 .2-.5-.3-.7-.3-.6-.1-.9-1.1-.6-1.8-1.1-1.6-.8-.2-.6 .5-.4 .8-.2 .2-.5-.7-.7-1-.9-.7-.7 .3-.4 1.3-.4 1.9 .1 2.1 .4 1.1-.2-.1-.3-1-.5-1.4-.9-1-.8-.5-.7 .1-.5 .7-.4 .6 0 .2-.5-.5-.7-.6-.7-.2-.6 .8-.3 1.8 0 1.9 0 .8 0-.3-.4-1-.7-1.4-.9-1.1-.5-.9-1-.3-.6 .8-.5 1.5-.1 1.9 0 .9 0-.3-.6-.8-.4-.5-.6-.1-.5 .2-.5 .2-.4 .2-.4 .3-.5-.1-.2-.6-.7-.8-.6-.5-.9 .1-.5 1-.2 1.8-.1 1.8 .1 .6-.4-.8-.4-1.4-.8-.7-.7 .1-.5 .6-.1 .8-.4-.1-.3-.9-.7-.8-.7-.5-.7 .1-.5 .8-.4 .9-.1 1.2-.4 .8-.1 .5-.5-.1-.3-.5-.4-.9-.8-.7-.6-.4-.5 .2-.4 .6-.5 .6-.3 .4-.4-.2-.5-.3-.5-.1-.6 .2-.4 .6-.3 .6-.3 .3-.4-.1-.5-.2-.4-.3-.5-.3-.5-.4-.5-.4-.7 0-.5 .5-.3 1.2-.5 1.8 .1 1.2-.2 .1-.4-1-.4-1.6-.8-1.1-.6-.7-.6-.1-.7 .2-.4 .5-.4 .7-.4 .6-.3 .6-.4 .3-.4 .1-.5 .4-.4 .6-.2 1-.3 .6-.1-.3-.6-1.5-.5-1.8-.8-1.2-.7-.4-.6 .4-.7 1-.4 1-.1 .8-.4 .4-.5 .2-.3 .2-.5 .2-.2 .4-.5 .2-.3 .2-.5 .1-.3-.1-.3-.5-.7-1.1-.5-1-.7-.8-.7-.2-.4 .5-.5 1-.5 1.1-.1 1.1-.5 .9-.2 .4-.2 .2-.4-.3-.7-.7-.4-.8-.5-.4-.4 .1-.6 .4-.3 .1-.3-.3-.8-.8-.5-.7-.7-.1-.6 .8-.3 1.3-.5 2-.1 1.4 0 .4-.4-.7-.3-1.4-.7-1.8-.7-1.3-.6-.6-.8 .4-.4 1.3-.5 1.8-.3 1.4 0 .1-.5-.8-.3-.9-.6-.1-.5 .5-.5 .4-.1 0-.5-.7-.6-.7-.6-.5-.6-.2-.6 .1-.5 .4-.4 .8-.4 1.3-.4 1.7 0 .9-.1 0-.6-1.2-.4-1.5-.7-1.1-.4-.5-.6-.2-.6 .1-.5 .4-.5 .6-.5 .7-.4 .8-.2 .3-.5-.3-.3-.2-.6 .1-.5 .5-.2 .6-.5 .1-.3-.4-.6-.6-.3-.5-.7-.4-.6-.5-.3-.1-.6 .3-.5 .8-.4 1.2-.4 .9-.2 .1-.3-.3-.6-.5-.3-.2-.6-.1-.6-.1-.3 0-.5 .1-.3 .1-.6-.2-.5-.4-.4-.4-.6 0-.6 .6-.4 1.1-.5 1.1-.1 .5-.2-.1-.6-.5-.3-.3-.6-.4-.3-.3-.6-.1-.6-.1-.3 .1-.5 .1-.6-.3-.3-.4-.6-.1-.6 .4-.5 1-.4 1.5 0 1-.5-.2-.2-.9-.7-.8-.4-.2-.6 .4-.4 .5-.2 0-.6-.7-.6-.7-.4-.5-.6-.1-.5 .3-.5 .6-.4 .8-.4 1.3-.4 1.1-.1 .5-.4-.6-.3-1.2-.7-1-.7-.2-.5 .4-.4 .6-.2 .2-.5-.5-.5-.6-.6-.4-.5 .1-.5 .4-.6 .7-.4 1-.3 1.3-.3 1.1 0 .2-.4-1-.4-1.8-.7-1.2-.7-.4-.7 .3-.4 .9-.5 1-.2 .5-.4-.2-.4-.5-.7-.2-.4 .1-.4 .5-.2 .9-.6 .7-.2 .2-.3-.4-.5-1-.5-.8-.8-.7-.4-.2-.7 .5-.6 1-.2 1.6-.4 1.4-.1 .5-.2-.6-.4-1.3-.5-1.1-.8-.5-.4 0-.6 .5-.6 .4-.2 .2-.6-.1-.3-.1-.6 0-.5 .4-.5 .6-.2 .8-.4 .6-.2 .3-.5 0-.3-.2-.6-.5-.3-.7-.7-.8-.6-.8-.7-.4-.6 .1-.5 .9-.3 1.3-.3 1.7-.1 1.3-.3 .3-.2-.4-.5-1-.4-1-.7-.6-.6-.2-.5 0-.5 .1-.4 .3-.6 .3-.4 .1-.5-.1-.4 0-.5 .1-.6 .4-.4 .9-.2 1.3-.1 1.1-.1 .9-.2 .8-.2 1-.3 .6-.2 .2-.4 .2-.5 .1-.4-.3-.5-1-.7-1.8-1-1.8-1-.6-.7 .1-.4 .6-.5 .9-.1 .9 .1 .8-.3 .3-.2-.1-.4-.5-.8-.9-.7-.5-.9-.1-.7 .3-.4 .7 0 .8-.2 .6-.3-.1-.3-.1-.7 .1-.6 .3-.4 .6-.2 .9 .1 .8 .2 .6-.1 .4-.3-.2-.4-.5-1-.6-1.1-.5-1-.1-.7 .5-.3 1.1 0 1.2 .4 1.2 .5 .6 .1 .2-.4 0-.6-.2-.6-.2-.7-.1-.7 .1-.5 .3-.4 .4-.3 .4-.3 .2-.4 .1-.6 .2-.4 .5-.2 .9 0 1 .4 .8-.1 .1-.2-.2-.7-.5-.7-.3-.8-.3-.8-.2-.7 .1-.5 .7-.4 .9 0 1.3 .4 1.1 .1 .3-.1-.2-.7-.5-.6-.4-.8-.3-.7-.1-.7-.1-.6 .2-.5 .7-.2 .9-.1 1.2 .4 .8-.2 .1-.2-.3-.8-.4-.8-.4-.5 0-.6 0-.6 .2-.5 .3-.4 .3-.1 .6-.3 .4-.4 .3-.4 .1-.2 .5-.4 .9-.1 .7 .1 .4-.4-.5-.6-1.2-1.1-.8-1.1-.4-.8 .5-.3 1.1 0 1.5 .3 1.5 .2 .6 0-.1-.6-.6-.6-.5-.8-.2-.8 0-.5 .1-.5 .3-.4 .4-.4 .3-.3 .2-.4 .3-.5 .3-.3 .5 0 .9 0 .8 .1 .5-.3-.3-.5-.7-1-.6-1-.3-.9 .1-.5 .6-.2 1 0 1.2 .2 1 .4 .7-.1 .1-.2-.3-.8-.7-1.1-.5-.9-.3-.8 .1-.5 .5-.2 .9 0 .9 .1 .9 0 .4-.3-.1-.4-.2-.6 .1-.6 .4-.3 .6-.2 .5-.2 .1-.2-.2-.8-.3-.8-.2-.8 0-.6 .4-.3 .8 0 .9 0 1.2 .3 .8 .3 .6-.2-.1-.3-.2-.9-.6-.9-.4-.9-.1-.8 .2-.5 .6-.2 .8 0 .8 .1 .6-.1 .1-.3 0-.5 .3-.4 .5-.2 .5-.3 0-.2 0-.7 .1-.5 .3-.4 .3-.4 0-.4 0-.7 .2-.4 .6-.2 1 .2 1 .2 .5 0 .3-.4 0-.4 .1-.5-.2-.9-.4-.7-.3-.9 .1-.6 .5-.3 .9 .1 .9 .1 .8 0 .4 0 .5-.2 .3-.1 .4-.4 .1-.6-.3-.6-.2-.8 .2-.6 .4-.3 .3-.1 .5-.3 .2-.5 0-.6 .2-.6 .4-.3 .5-.2 .5 .1 .7-.1 .6-.1 .7 0 .5 .2 .5-.2-.1-.4-.3-1-.4-1.1-.2-.9 .2-.4 .6-.1 .8 0 .7 0 .3-.1 .3-.5 .3-.4 .3-.2 .5-.2 .6-.1 .4 0 .5-.2 .3-.1 .3-.5-.1-.6-.1-.9 0-.9 .2-.7 .5-.1 .7 .4 1.1 .4 1 .4 .2-.1 .1-.7-.2-.8 .1-.7 .4-.4 .2-.1 .5-.2 .6-.2 .2-.1 .4-.3 .3-.5 .3-.4 .2-.5 .3-.4 .3-.1 .6 0 .9 .3 .9 .3 .3 0 .1-.7-.4-1.1-.3-1.1-.1-.7 .5-.5 .6 .1 .8 .3 1.1 .4 .9 .3 .5 0 .2-.4-.1-.7-.2-.9-.3-.7-.2-.6 .2-.7 .2-.2 .5-.4 .4-.1 .5-.4 .3-.2 .3-.5 .2-.2 .5-.4 .6 0 1-.2 .5 0 .3-.6-.6-.5-.8-1-.5-.7-.2-.6 .3-.4 .4-.3 .6-.4 .5-.3 .3-.3 .1-.5 .1-.4 .4-.3" fill="none" stroke="#231a1c" stroke-width="1.25" stroke-linejoin="round"/><path d="M952 250l-.3 .4-.1 .3 .2 .5 0 .4-.2 .4-.2 .4 .3 .5 .5 .5 .4 .6 .1 .5-.2 .5-.7 .5-1.5 .4-1.9 .1-.9 .2 1.1 .4 2.4 .5 1.5 .7 .4 .6-.3 .6-.6 .2-.7 .6-1.1 .6-1.2 .4-.2 .3 1.3 .3 1.2 .3 .3 .7-.3 .4-.4 .5 .3 .4 .3 .4 0 .5-.1 .5 .3 .4 .4 .5-.3 .5-1.4 .6-1.3 .7 0 .2 .8 .4-.3 .8-1.4 1-1.1 1-.4 .6-.1 .5 .1 .6 .1 .5 .1 .3 .5-.1 1.7 0 2.5-.4 1.7 .3 .3 .2 0 .5-.3 .6-.9 .7-1.3 .8-.5 .4 1 .1 1.5 .3 .6 .4-.2 .3-.3 .6 0 .6 .4 .2 .4 .4 .1 .5-.2 .5-.2 .6-.3 .5-.4 .4-.6 .6-.2 .4 .9 .3 1.7 .1 1.5 .2 .7 .3-.7 .7-1.5 .9-2.3 1.1-1 .6 .5 .1 .9 0-.4 .1-1.2 .6-.7 .8-.1 .5 .1 .6 .2 .5 .2 .2 .5 .4 1.1 .6 2 0 1.9 0 .6 .4 0 .6-.3 .6 0 .5 .5 .4 .6 .4 .3 .4-.2 .6-.7 .4-.7 .7-.3 .6 0 .2 .2 .5 .2 .4 .7 .3 1.2 .1 1.3 .2 .8 .2 0 .6-1 .8-1.8 1.1-1.7 .7-.3 .3 1.1 .3 1.5-.1 .9 .4 .2 .5-.3 .3 0 .5 .7 .4 .9 .3 .9 .3 .3 .6-.6 .6-1.3 .8-1.9 .9-1.1 .5 .2 .5 1.2-.1 1.4 .2 .9 .2 .2 .5 0 .5 .3 .2 .7 .3 1 .2 .7 .5-.2 .6-1.3 1-2.2 1-1.4 1 .4 .1 2-.2 1.7-.2 .4 .4-.2 .7-.3 .5 .7 .2 .7 .2 .4 .4 .2 .4 .3 .3 .3 .5-.5 .8-1.7 1.3-1.2 1 .5 0 1.6-.3 1.4-.3 .7 .2 .6 .3 .6 .3 .2 .6-.6 .9-1 .7-.1 .4 .8 .1 .7 .5-.4 .5-1.2 .9-.7 .6 .5 .3 1.2 0 1.2 0 .9 .2 1.1 .1 .9 .2 0 .5-1.2 1.5-2.8 1.2-2.3 1.2-.3 .2 1.8-.2 2.5-.4 1.6-.1 1 .3 .6 .5 .2 .6-.6 .6-1.1 1-1.5 .9-.5 .4 .8 .1 1.4 .1 .5 .3-.6 .6-1.1 .9-.5 .4 1.1 .1 2-.1 1.6 0 .8 .3-.3 .8-1.2 .9-1.5 1-1.4 .6-.3 .6 .5 .1 1.1 .2 1.1 0 .8 .3 .3 .4 0 .6-.1 .6-.2 .3 .5 .4 1 .2 .9 .3 .1 .6-1.1 .8-2.3 1.3-2.1 .8-.1 .3 2.1-.3 2.6-.5 1.5 .2 .4 .4-.3 .7-.4 .7-.4 .7-.4 .7-.4 .4 .2 .5 .4 .2 0 .6-.9 .5-.8 .8 .6 .1 2.2-.3 1.9 0 .9 .3-.2 1-1.1 .6-1.3 .9-1.5 1.1-1.3 .6-.5 .5 1.1 0 2.5-.5 2 0 .8 .4-.2 .6-.5 .7 0 .3 .4 .5-.2 .6-.8 .8-1.3 .7-.1 .6 .5 .2 .2 .2-.5 .7-.5 .5 .9 0 2.3-.1 1.8 0 1 .3-.2 .6-.5 1-.7 .5-.6 .7-1.5 1-2 .9-1.2 .7 .6 0 2.4-.1 2.5-.5 1.1 .2 .2 .5-.5 .6-.2 .7 .2 .4 .6 .4 .5 .3 .3 .5-.1 .5-.4 .7-.7 .7-1.4 .9-1.6 .8-1 .8 .2 .2 1.8-.3 3-.5 2-.2 1.1 .2-.2 .7-1 .9-.8 .8-.1 .6 .4 .2 .6 .3 .2 .6-.5 .7-1 .9-1.2 .7-1 .6-.5 .7 .1 .3 1.1-.1 2.3-.5 2.3-.3 1.7 0 .6 .6-.6 .8-1.3 1-.8 .8 .1 .5 .7 0 .6 .4-.2 .6-1.2 .9-1.8 1.2-1.3 .7-.1 .3 .9 0 1.7-.1 2-.2 1.3-.1 1.1 .3 .6 .3 0 .6-.4 .9-.7 .8-.7 .5-.3 .6 .1 .5 .1 .5-.4 .4-.8 .8-1 .9-.3 .4 1.1-.2 2.3-.3 2.2-.3 1.5 0 .6 .5-.7 .8-1.2 1-1.3 1-.7 .7 .4 .4 .7 0 .7 .3-.2 .5-.7 .9-.8 .5-.1 .6 .7 0 1.3 0 1.2 0 .6 .3 .4 .4 .2 .4 .4 .4 .6 .3 .3 .3-.1 .9-.8 .9-1.8 .9-1.6 1.2-.6 .5 .9 .2 1.6-.4 1.8-.2 .9 .2 .4 .4-.1 .2 .2 .5 .4 .4 .6 .3 .4 .3 0 .6-.3 .7-.3 .6 0 .6 .4 .4 .2 .4-.5 .6-1.6 1.2-1.9 1.4-1.1 .7 .8 0 2.7-1 3.3-1.1 2.3-.3 1.1 .1-.1 .9-.9 1-1 .9-.6 .9-.4 .7-.4 .8-.7 .6-.5 .8-.2 .3 .6 .1 .9 .2 .6 0 .1 .5-.2 .4 .5 .3 1.4-.3 1.8-.2 1.6-.2 .9 .4-.4 .8-1.4 1.3-1.8 1.4-1.5 1-.2 .7 .4 .1 .6 .3 .2 .2 .1 .3 .5 .3 .8-.1 1.1 .1 .7 .3 .2 .2 .4 .4 .7 .2 1.2 .1 1.1 0 .5 .4-.7 .9-1.7 1.4-2.8 2-2 1.3-.1 .3 1.5-.4 2.3-.8 1.9-.4 .9 .2 .2 .5-.1 .6-.1 .4 .1 .5 .3 .4 .4 .4 .4 .1 1 .1 1 .1 .7 .2-.1 .8-1.1 1.2-2.3 1.8-2.6 1.6-1.2 .9 .7 0 2.2-.9 2.7-.9 1.8-.3 .7 .1 .1 .5-.2 .7-.1 .6 .1 .6 .2 .3 .4 .4 .5 .3 .6 .2 .6 .2 .5 .2 .1 .5-.4 1-1.3 1.3-2.1 1.7-1.7 1.2-.4 .5 1.1-.1 2-.9 2.4-.9 1.3-.3 .7 .4 .1 .4 0 .4 .4 .5 .5 .2 .4 .3 .1 .4-.1 .8-.1 .4 .6 .4 .8-.1 .9 .1 .1 .7-.9 1.1-1.9 2.2-2.1 1.9-1.2 .9 .4 .2 1-.4 1-.3 1 0 1.1-.4 1.8-1 2.1-.9 1.9-1.2 1.7-.3 .5 .4-.6 1.1-1.1 1.8-1.1 1.7-1.3 1.5-.4 1.2 0 .3 .4 .1 .5 .3 .3 .1 .2 .3 .3 .4 .3 .1 .5 .3 .4 0 .7 .1 .7-.3 .9-.3 1-.3 1.1-.4 1.1-.3 1 0 .5 .4-.1 .8-.6 1.5-1.2 1.9-2 2.6-1.1 1.8-.2 .4 .9-.6 1.6-1.1 1.5-1 1.3-.6 .6 .2 .3 .4 .2 .5 .2 .4 .4 .3 .1 .1" fill="none" stroke="#231a1c" stroke-width="1.25" stroke-linejoin="round"/></g>
<path d="M624 480C626.3 477 632.3 470.6 638 462C643.7 453.4 652.7 438.8 658 428.5C663.3 418.2 665.9 413.1 670 400C674.1 386.9 678.8 366.7 682.5 350C686.2 333.3 689.2 316.7 692.5 300C695.8 283.3 699.6 264.3 702.5 250C705.4 235.7 707.9 222.3 710 214C712.1 205.7 712.1 205.7 715 200C717.9 194.3 721.7 188.8 727.5 180C733.3 171.2 742.1 157.9 750 147.5C757.9 137.1 766.7 126.2 775 117.5C783.3 108.8 795.8 98.8 800 95L805 96L806 102.5L811 104L813 107.5C810 110.4 802.2 117.5 795 125C787.8 132.5 777.5 142.9 770 152.5C762.5 162.1 754.7 173.4 750 182.5C745.3 191.6 743 200.4 742 207C741 213.6 741.8 215 744 222C746.2 229 753.2 244.5 755 249L758 275L906 275L901 229C900.8 228.3 901.4 228.2 900 225C898.6 221.8 895.4 215.6 892.5 210C889.6 204.4 886.2 197.4 882.5 191.2C878.8 184.9 874.6 178.3 870 172.5C865.4 166.7 859.1 160 855 156.2C850.9 152.4 848.3 151.4 845.5 149.5C842.7 147.6 839.3 145.8 838.1 145L848.7 132.7C851.8 134.3 861.3 137.9 867.5 142.5C873.7 147.1 880.4 153.3 886 160C891.6 166.7 896 174.2 901 182.5C906 190.8 911 200.4 916 210C921 219.6 926.7 233.2 931 240C935.3 246.8 940.2 249.2 942 251L956 248C956.8 251.7 959.8 264.7 961 270C962.2 275.3 961.4 272.7 963.5 280C965.6 287.3 970.6 305.7 973.5 314C976.4 322.3 976.8 319 981 330C985.2 341 992.2 363.3 998.5 380C1004.8 396.7 1010.6 413.3 1018.5 430C1026.4 446.7 1041.4 471.7 1046 480" fill="none" stroke="#231a1c" stroke-width="1.4" stroke-linejoin="round"/>
<path d="M717 479.5C718.3 475.2 722.6 460.3 724.7 453.5C726.8 446.7 727.8 444 729.5 438.5C731.2 433 733.4 430.9 734.7 420.5C736 410.1 736.4 390.2 737.2 376C738 361.8 739.1 347.6 739.7 335.5C740.3 323.4 740.2 313 741 303.5C741.8 294 743.7 284.3 744.7 278.5C745.7 272.7 746.4 271.3 747.2 268.5C748 265.7 748.2 265.1 749.7 261.5C751.2 257.9 753.5 250.6 756 247.2C758.5 243.8 761.2 242.4 764.7 241C768.2 239.6 772 238.6 777.2 238.7C782.4 238.8 790 240.1 796 241.5C802 242.9 808.9 246 813.5 247.2C818.1 248.4 819.1 249.3 823.5 248.5C827.9 247.7 833.9 245.3 839.7 242.2C845.5 239.1 851.8 233.2 858.5 229.7C865.2 226.2 873.8 221.4 879.8 221C885.8 220.6 890.1 223.9 894.5 227.5C898.9 231.1 902.7 236.9 906 242.5C909.3 248.1 912.2 254.6 914.5 261C916.8 267.4 917.8 270.2 919.5 281C921.2 291.8 923 311.8 924.5 325.5C926 339.2 927 350.5 928.5 363C930 375.5 931 388.9 933.5 400.5C936 412.1 941 425.2 943.5 432.5C946 439.8 944.5 436.7 948.5 444.5C952.5 452.3 964.1 473.7 967.2 479.5Z" fill="#fbdacd"/>
<g clip-path="url(#boneB)"><g transform="translate(623.5 13.5)"><use href="#trab"/><use href="#trabx"/></g></g>
<path d="M717 479.5C718.3 475.2 722.6 460.3 724.7 453.5C726.8 446.7 727.8 444 729.5 438.5C731.2 433 733.4 430.9 734.7 420.5C736 410.1 736.4 390.2 737.2 376C738 361.8 739.1 347.6 739.7 335.5C740.3 323.4 740.2 313 741 303.5C741.8 294 743.7 284.3 744.7 278.5C745.7 272.7 746.4 271.3 747.2 268.5C748 265.7 748.2 265.1 749.7 261.5C751.2 257.9 753.5 250.6 756 247.2C758.5 243.8 761.2 242.4 764.7 241C768.2 239.6 772 238.6 777.2 238.7C782.4 238.8 790 240.1 796 241.5C802 242.9 808.9 246 813.5 247.2C818.1 248.4 819.1 249.3 823.5 248.5C827.9 247.7 833.9 245.3 839.7 242.2C845.5 239.1 851.8 233.2 858.5 229.7C865.2 226.2 873.8 221.4 879.8 221C885.8 220.6 890.1 223.9 894.5 227.5C898.9 231.1 902.7 236.9 906 242.5C909.3 248.1 912.2 254.6 914.5 261C916.8 267.4 917.8 270.2 919.5 281C921.2 291.8 923 311.8 924.5 325.5C926 339.2 927 350.5 928.5 363C930 375.5 931 388.9 933.5 400.5C936 412.1 941 425.2 943.5 432.5C946 439.8 944.5 436.7 948.5 444.5C952.5 452.3 964.1 473.7 967.2 479.5" fill="none" stroke="#231a1c" stroke-width="1.4"/>
<clipPath id="silC"><path d="M340 859C340.4 858.5 339.2 860.2 342.5 856C345.8 851.8 354.4 842.5 360 834C365.6 825.5 371.8 814 376.2 805C380.6 796 383.1 789.3 386.2 780C389.3 770.7 392.7 759.5 395 749C397.3 738.5 398.6 726.5 400 717C401.4 707.5 402.2 700.3 403.7 692C405.1 683.7 406.9 675.3 408.7 667C410.5 658.7 412.6 649.8 414.4 642C416.2 634.2 417.6 627.5 419.5 620C421.4 612.5 423 604.3 425.6 597C428.2 589.7 431.4 583.2 435 576.2C438.6 569.2 442.9 561.5 447.5 555C452.1 548.5 456.9 543.1 462.5 537.5C468.1 531.9 474.9 525.5 481.2 521.2C487.4 516.9 493.8 514.3 500 511.9C506.2 509.5 513.5 507.9 518.7 506.9C523.9 505.8 525.8 505.7 531 505.6C536.2 505.5 543.5 505.6 549.7 506.2C556 506.8 562.2 507.9 568.5 509.4C574.8 510.9 581 512.6 587.2 515C593.5 517.4 600.4 520.4 606 523.7C611.6 527 616.4 530.8 621 535C625.6 539.2 629.7 543.1 633.5 548.7C637.3 554.3 642 565.4 643.8 568.8L623.8 582.5L645 627.5L671 622.5C672.1 627.1 674.8 640.1 677.5 650C680.2 659.9 682.9 668.3 687 682C691.1 695.7 697 715.3 702 732C707 748.7 711.6 767.2 717 782C722.4 796.8 727 808.2 734.5 821C742 833.8 757.4 852.2 762 858.5Z"/></clipPath>
<clipPath id="boneC"><path d="M435 859C436.8 853.2 443.1 835 445.8 824C448.4 813 449.6 802.4 450.8 793C451.9 783.6 451.6 779.2 452.5 767.5C453.4 755.8 454.9 735.4 456 723C457.1 710.6 458 701.8 459 693C460 684.2 461 677.2 462 670C463 662.8 463.2 658.3 465 650C466.8 641.7 469.6 629.6 472.5 620C475.4 610.4 477.9 600.8 482.5 592.5C487.1 584.2 492.9 576.2 500 570C507.1 563.8 516.7 558.3 525 555C533.3 551.7 541.7 549.8 550 550C558.3 550.2 566.7 551.8 575 556C583.3 560.2 592.9 567.7 600 575C607.1 582.3 612.5 590.8 617.5 600C622.5 609.2 626.8 619.2 630 630C633.2 640.8 635.2 652.5 637 665C638.8 677.5 639.7 692.1 641 705C642.3 717.9 643.5 730 645 742.5C646.5 755 647.5 768.4 650 780C652.5 791.6 657.5 804.7 660 812C662.5 819.3 661 816.2 665 824C669 831.8 680.6 853.2 683.8 859Z"/></clipPath>
<clipPath id="graftC"><path d="M474 616C475.8 615 481.5 611.6 485 610C488.5 608.4 489.6 607.5 495 606.5C500.4 605.5 509.2 604.6 517.5 604C525.8 603.4 536.7 603.2 545 603C553.3 602.8 560 603.4 567.5 602.5C575 601.6 584.1 598.2 590 597.5C595.9 596.8 599.2 597.4 603 598C606.8 598.6 609.8 599.8 612.5 601C615.2 602.2 617.9 604.3 619 605L640 600L640 540L460 540L460 620Z"/></clipPath>
<clipPath id="trabC"><path d="M474 616C475.8 615 481.5 611.6 485 610C488.5 608.4 489.6 607.5 495 606.5C500.4 605.5 509.2 604.6 517.5 604C525.8 603.4 536.7 603.2 545 603C553.3 602.8 560 603.4 567.5 602.5C575 601.6 584.1 598.2 590 597.5C595.9 596.8 599.2 597.4 603 598C606.8 598.6 609.8 599.8 612.5 601C615.2 602.2 617.9 604.3 619 605L700 600L700 870L400 870L400 620Z"/></clipPath>
<path d="M340 859C340.4 858.5 339.2 860.2 342.5 856C345.8 851.8 354.4 842.5 360 834C365.6 825.5 371.8 814 376.2 805C380.6 796 383.1 789.3 386.2 780C389.3 770.7 392.7 759.5 395 749C397.3 738.5 398.6 726.5 400 717C401.4 707.5 402.2 700.3 403.7 692C405.1 683.7 406.9 675.3 408.7 667C410.5 658.7 412.6 649.8 414.4 642C416.2 634.2 417.6 627.5 419.5 620C421.4 612.5 423 604.3 425.6 597C428.2 589.7 431.4 583.2 435 576.2C438.6 569.2 442.9 561.5 447.5 555C452.1 548.5 456.9 543.1 462.5 537.5C468.1 531.9 474.9 525.5 481.2 521.2C487.4 516.9 493.8 514.3 500 511.9C506.2 509.5 513.5 507.9 518.7 506.9C523.9 505.8 525.8 505.7 531 505.6C536.2 505.5 543.5 505.6 549.7 506.2C556 506.8 562.2 507.9 568.5 509.4C574.8 510.9 581 512.6 587.2 515C593.5 517.4 600.4 520.4 606 523.7C611.6 527 616.4 530.8 621 535C625.6 539.2 629.7 543.1 633.5 548.7C637.3 554.3 642 565.4 643.8 568.8L623.8 582.5L645 627.5L671 622.5C672.1 627.1 674.8 640.1 677.5 650C680.2 659.9 682.9 668.3 687 682C691.1 695.7 697 715.3 702 732C707 748.7 711.6 767.2 717 782C722.4 796.8 727 808.2 734.5 821C742 833.8 757.4 852.2 762 858.5Z" fill="#ef95a7"/>
<g clip-path="url(#silC)"><path d="M352 859l.9 .3 .5 .1 .3-.2 0-.7-.1-.8 0-.7 .3-.5 .6 .2 .8 .1 .1-.5-.7-1.4-.7-1.6 0-.7 1.5 .6 2.6 2 3.5 2.4 1.5 1.3-.4-.8-1.9-2.2-2.5-2.5-1.3-1.8-.8-1.1 .3-.6 1.4 .2 1.9 .9 2.4 1.3 1 .2-.9-1.2-1.7-1.6-.4-.9 .8 .1 2.4 1 2.1 .8 .3-.5-1.9-1.2-2.1-1.9-1.3-1.7-.6-1 .3-.6 1.2 .1 2 .5 3.1 1.4 2.8 1.2 .9 .3-1.3-1-2.5-2-2-1.6-.5-1 .3-.4 .7 0 1-.3 .7 0 .7-.2 .1-.4-.6-.9-.8-1-.7-.9 .4-.4 1.6 .2 2.8 1 2.7 1.2 1.2 .4-.5-.6-1.8-1.3-2.3-1.8-1.5-1.5-1-1.1-.2-.7 .9-.4 1.5 .3 1.9 .4 1.7 .7 .6-.3-1-.9-1.2-1.2-.3-.8 .8-.2 2 .8 2.6 .9 1.3 .3-.8-.7-2.9-1.9-2.6-2-1.7-1.6-.2-.7 1.6 0 2.4 .6 2.4 1 1.6 .2-.1-.3-.9-.8-.6-1 .2-.5 .8 .1 .9 .2 .8-.3 .1-.2-.4-.5-1.1-1.2-1.7-1.2-1.7-1.6-1-1.4 .4-.4 2.2 .2 2.9 .8 3.1 1.3 1.4 .4 0-.3-.5-.6-.6-.6-.9-1.1-1.2-.9-.4-.9 .3-.4 .6 0 .6-.3-.5-.9-1.1-.9-.8-1.2 .1-.6 1.2 0 1.8 .3 2.3 .8 1.8 .2 .6 0-.3-.4-1.1-.8-1.8-1.2-1.3-1.2-1-1.1-.2-.9 .6-.3 1.6 .2 2.2 .5 2.3 .4 .9 .1-.5-.5-1.4-.9-1.4-1.2-.6-.8-.3-.6 .1-.5 .3-.4 .4-.4 .5-.4 .7-.2 .8-.2 .8-.2 .5-.1 .3-.4 .2-.2 .2-.5 .2-.1 .2-.5-.2-.6-.9-.7-.9-.9-.8-.9-.6-1 0-.5 .7-.5 1.3 0 1.6 .1 2.2 .4 1.7 .4 1 .1 .2-.2-.6-.7-1.4-.8-1.9-1.3-1.5-1.1-1.2-1-.5-.9 .4-.4 1.3-.3 1.6 .1 1.6 .2 1.3-.1 .2-.1-.1-.6-.1-.5 .1-.3 .2-.4 .2-.4 .1-.3 .2-.4 .1-.5-.5-.4-1-.9-1.2-.9-1.1-1.1-.4-.7 .6-.5 1.6 0 1.9 .2 2.5 .3 1.5 .3 .7-.3-.2-.4-1.1-.6-1.6-1-1.7-.9-.9-1-.2-.6 .6-.3 1.2-.2 1.1-.1 .7-.3-.1-.6-.5-.4-.1-.5 .3-.5 .7-.3 .7 0 .6-.4 .1-.2-.2-.6-.5-.7-.9-.6-.9-.8-.6-1 0-.5 1-.3 1.7 0 2.6 .5 1.9 0 .4-.1-.9-.6-1.7-.8-1.9-1.1-1.3-.7-.8-1-.3-.7 .5-.4 1.4-.2 1.9 0 2.5 .4 1.6 .2 .2-.3-.9-.8-1.8-.8-1.5-.8-.7-.8-.4-.6 0-.5 .3-.6 .7-.2 .8-.5 .9-.2 .7-.1 .2-.4-.2-.6 0-.5 .3-.4 .6 0 .8-.3 .3-.4-.6-.4-1.3-.9-1.2-.8-1-.7-.2-.8 .4-.4 1-.3 1.3-.1 1.7-.1 1.2-.2 .4-.2 0-.5-.5-.4-.6-.6-.4-.4-.3-.6-.2-.6-.2-.5-.2-.6-.3-.3-.3-.6-.1-.8 0-.5 .5-.4 1-.3 1.6 .1 1.9-.1 1.1 0 0-.3-1.1-.8-2-.7-1.4-.8-.8-.8 0-.5 .6-.4 .8-.3 .7-.4 .6-.4 .3-.5 .2-.2 .3-.5 .5-.1 .5-.4 .3-.2 .1-.6-.5-.3-.8-.7-.8-.8-.8-.7-.8-.7-.3-.6 .4-.5 1.3-.2 2.1-.1 3 .1 2.1 .2 .5-.2-1.4-.5-2.7-.9-2.6-.8-1.4-1.1-.6-.7 .3-.5 .9-.3 1.2-.3 1.1-.3 1.3-.3 .8-.3 .4-.2 0-.3-.5-.6-.6-.4-.4-.6 .1-.5 .4-.2 .4-.5-.2-.5-1-.5-.9-.7-.7-.7 0-.8 .8-.4 1.3-.2 1.4 0 1.5-.2 1-.1 .4-.4-.6-.4-1.4-.5-1.7-.9-.9-.7-.2-.6 .4-.4 .8-.4 .7-.3 .4-.5 .1-.4 0-.3-.2-.5-.1-.6 0-.5 .4-.4 1.2-.3 1.4 .1 .9-.4-.4-.3-1.6-.8-1.8-.8-1.2-.8-.2-.5 .7-.6 1.4-.2 1.7-.2 1.2-.2 .1-.2-.5-.6-.8-.6-.6-.4 0-.6 .1-.2 .4-.5 .2-.5-.2-.3-.3-.7-.5-.6-.4-.6 0-.6 .5-.4 1.2-.1 2-.2 1.8 .1 .6-.2-.8-.4-2-.9-2-.7-1.3-.7-.4-.9 .4-.5 .9-.4 1-.3 1.1-.4 1.2-.1 .8-.4 .5-.2-.2-.3-.6-.6-1-.4-.7-.7-.4-.3-.1-.6-.2-.6-.2-.5-.1-.6 .1-.5 .7-.4 1.1-.4 1.7 0 1.2-.3 .4-.2-.5-.4-1.1-.7-1.4-.5-1-.6-.8-.7-.5-.6 .1-.8 .8-.4 1.4-.3 2.1-.2 1.7 0 .6-.2-.6-.3-1.3-.7-1.6-.5-1.1-.7-.7-.6-.3-.6 .3-.7 .7-.4 1.1-.4 1.5-.2 1.1-.1 .1-.3-.8-.6-1.1-.7-.7-.3 .1-.5 .6-.4 1-.4 .3-.4-.7-.4-1.1-.6-1-.7-.3-.8 .5-.4 1.3-.3 2-.2 1.7 0 .7-.3-.6-.4-1.4-.7-1.7-.5-1.1-.6-.5-.8 0-.5 .6-.4 .9-.3 1.1-.3 .9-.3 .3-.5-.4-.5-.7-.6-.3-.5 .3-.4 1.4-.2 2.1-.2 1.8-.1 1-.1 .4-.4 .2-.4 .1-.6 .1-.5-.3-.7-1.1-.6-1.6-.7-1.1-.6 .4-.4 .9-.1 .3-.4-.5-.4-1.3-.5-1.7-.7-1-.7-.5-.7 .2-.6 .8-.1 .9-.5 .8-.4-.1-.3-.6-.7-.5-.4 .1-.5 .9-.5 1.8 .1 1.8-.2 .6-.2-1.1-.5-2.5-.7-1.9-.9-1-.8 .1-.5 1.3-.6 1.6 0 1.8-.2 .6-.1-.3-.6-.7-.4-.4-.6 .2-.5 .5-.2 .5-.5-.1-.2-.5-.7-.9-.6-.7-.7-.6-.6-.3-.6 .1-.5 .6-.4 1.1-.5 1.5 0 2.1-.1 1.6 .1 .6-.4-.5-.3-1.5-.6-1.8-.8-1.4-.8-.8-.7-.4-.5 .1-.7 .3-.4 .6-.4 .8-.3 .9-.3 1.3-.2 .8-.3 .3-.4-.4-.3-.7-.7-.6-.6-.1-.5 .1-.4 .4-.4 0-.4-.2-.5-.5-.6-.3-.5-.1-.5 .5-.6 .9-.3 1.3-.1 1 0 .5-.4-.3-.5-.9-.4-1.1-.7-.6-.8-.6-.5-.2-.6 .3-.6 .7-.4 1.3-.3 2 .2 1.6 .1 .4-.2-1-.6-2-1-1.7-.7-1-.8 0-.6 .9-.3 1.2-.3 1.4-.3 .7-.1 .2-.5-.3-.4-.4-.6-.3-.4 0-.5 .1-.5 .4-.2 .4-.5 .1-.5-.6-.4-.7-.7-.8-.8-.2-.6 .6-.3 1.4-.2 2.2 0 1.8 0 .6-.1-.6-.4-1.3-.6-1.5-.9-1-.8-.7-.7-.5-.6 0-.8 .5-.4 1.1-.2 1.5-.2 1.8 .3 1.1-.2 0-.4-.6-.5-.8-.6-.5-.7-.1-.5-.1-.5-.1-.5-.2-.5 0-.4 .2-.6 .3-.4 .3-.5 .1-.2 0-.7 .1-.3 .6-.5 .9 .1 1.6 .1 1.3 .3 .5 0-.5-.5-1.3-1-1.3-1.4-.9-1.1-.4-.9 .1-.6 .6-.3 1 0 1.4 .2 1.8 .7 1.6 .8 1.1 .2 0-.3-.9-1-1.5-1.6-1.1-1.4-.5-1 .1-.5 .8-.3 .8 .1 .8 0 .4-.2 .2-.4 .2-.4 .6-.4 .9 .1 1.2 .5 1.1 .2 .7-.2-.3-.4-1-1-1.3-1.5-1.2-1.1-.6-1.3 0-.6 .9 0 1.7 .1 1.8 .5 1.4 .6 .5-.3-.5-.5-.3-.7 .2-.4 .8-.1 .6 .2 .1-.5-1-1.2-1.4-1.1-.7-1.3-.2-.8 .4-.4 1-.3 .9 .3 1.2 .2 1.6 .4 1.2 .6 .6-.1-.3-.5-.5-.9-.3-.7 .4-.3 .5-.2 0-.3-.6-1-.7-1.1-.5-1 0-.9 .4-.3 .6-.1 1.1-.2 1.1 .2 1.4 .9 1.5 .5 .6 .2-.3-.6-.7-1.2-.9-1.1-.2-.8 .2-.5 .4-.3 .4-.4 0-.3 .1-.7 .3-.5 .5-.3 .7 0 .7 .2 1 .2 .7 .2 .6-.1 .2-.2-.1-.5-.4-1-.6-1.2-.5-1.1-.1-1.1 .3-.4 .9 .2 1.4 .7 1.8 1.1 1.2 .9 .7-.1-.3-.7-.8-1.2-.8-1.5-.3-1 0-.9 .1-.6 .5-.2 .8 .1 1.1 .3 1.4 .7 1 .8 .6 .2 0-.7-.7-1.2-.5-1.4-.4-.8 .2-.6 .5-.2 .8 .1 .7 0 .6-.1 .1-.3 .3-.4 .4-.4 .5-.1 .8 .1 .5 .3 .6-.1 .2-.2 0-.7-.3-1.1-.1-.9-.2-.9 .2-.8 .5-.3 .9 .2 .9 .8 1.8 1.2 1.2 1.2 .5 .2-.3-.8-1-1.8-.9-2.1-.4-1.4 .2-.7 .9 0 1.1 .5 1 .7 1 .5 .4 .2 .4-.3 .3 0 .7 .1 .4 .2 .4-.3-.4-1-.5-1.6-.3-1.4 .1-1.2 .2-.5 .9 0 1 .7 1.1 .9 1.5 1.4 1 1.1 .4 .1-.1-1-.5-1.3-.2-1.2 .2-.6 .2-.2 .3-.4 .1-.9 0-.9 .1-.8 .7-.3 .9 .4 .8 .8 1.3 1.1 1.1 .8 .6 .4 .1-.3-.2-1.3-.8-1.6-.2-1.3 .1-.8 .5-.1 .9 .3 .8 .4 .7 .3 .4-.3 .2-.7 .1-.3 .5-.2 .7 .3 .8 .4 .4 .3 .4-.3 .1-.7-.2-1.1 0-1 0-1 .5-.8 .6 0 1 .9 1.3 1.5 1.1 1.8 .8 .4-.2-.9-.4-1.8-.4-1.4 .3-.5 .5-.1 .6 .1 .3-.4 .3-.7 .2-.8 .3-.5 .7-.2 .7 .3 .9 .9 .9 1.9 1.1 1.8 .5 .8 0-.9-.5-2.4-.2-2.5-.1-1.4 .8-.4 .5 .7 .8 .7 .8 .4 .4-.1 .4-.2 .5 0 .6 .6 .4 .7 .6 .6 .2 .2 .5-.3 .1-.7 .2-1.3 .3-1.5 .3-1.4 .6-.7 .6 .4 .8 1.7 1 2.7 .6 2.5 .3 .8 .1-1.1 0-2.4 .2-2.4 .3-1.5 .4-.9 .8-.2 .6 .7 .7 1.2 .7 1.8 .5 1.9 .3 .9 .2-.5 .4-1.6 .1-2 .4-1.1 .5-.5 .6 .2 .5 .6 .6 .5 .5 .3 .5 0 .3 0 .5 .1 .5 .4 .2 .7 .5 .4 .3-.1 .5-.7 .5-1.1 .5-.9 .5-.5 .5-.1 .5 .3 .5 .6 .5 .9 .4 1.3 .2 1.3 .2 .8 .4 0 .4-1.2 .6-2.1 .7-1.5 .6-1 .5 .1 .7 .9 .4 1.5 .1 1.5 .4 .8 .2 0 .6-.4 .3-.4 .5-.4 .6-.4 .3-.3 .5 0 .5 .1 .5 .2 .5-.1 .6-.5 .3-.7 .8-.5 .4 .3 .5 1.3 .3 2.3 .1 2.2 .3 .7 .3-.8 .6-1.8 .4-2.1 .5-1 .6-.6 .5-.1 .5 .3 .5 .5 .5 .5 .5 .1 .6-.2 .2-.3 .6 .2 .5 1.1 .4 2.3 .2 1.9 .3 .6 .3-1.4 .3-2.6 .6-2.1 .6-1.1 .8-.1 .5 .5 .5 .7 .5 .6 .4 .3 .3 .3 .5 .4 .4 .5 .4 .7 .2 .8 .4 .7 .2 .1 .5-.9 .5-2 .7-1.5 .9-1.1 .8 .1 .5 1.1 .1 1.6-.2 1.7 .1 1 .5 0 .3-.3 .6-.2 .3 0 .5 0 .4-.1 .6-.2 .6-.2 .4-.1 .6-.2 .8-.2 .7-.2 .7 .3 .1 .7-.2 1.4-.5 1.8-.6 1.4 .1 .4 .7-.2 .7-.8 1-.6 .9-.5 .7-.3 .7-.3 .6-.1 .4 .3 .1 .8 .1 .9 .2 .8 .4 .3 .5-.4 .6-.1 .5 .2 .2 .7-.1 1.1 .1 1.1 .1 .5 .6-.1 .5-.7 1-1.2 .9-.9 .8-.8 .7-.5 .7 .2 .2 .9 0 1.5-.2 2-.4 1.8 0 .7 .6-.3 .7-1.2 1.1-1.2 .8-.6 .3-.1 .4 .4 .3 .5 .5 .2 .6-.1 .7-.2 .6-.1 .4 .2 .3 .5 .1 .9-.1 1.2-.4 1.3 0 1.1 0 .4 .6-.6 1.3-1.3 1.3-1.5 1.1-.9 .6-.1 .4 .9-.1 1.2-.3 1.4-.4 1.2 .2 .6 .5 .2 .4-.2 .8-.3 .5-.4 .7-.1 .5 .2 .3 .5 0 .5 .4 .3 .7-.1 .9-.3 .8-.2 .4 .2-.1 .7-.1 1-.4 1.3-.2 1-.1 .4 .4 .3 .5-.3 1-.4 1.2-.6 .9-.4 .7 .1 .2 .5 0 .8-.1 .5 .3 .5 .4 .3 .4 .4 .1 .2 .2 .6 .2 .6 0 .3 .2 .6-.1 .5 .2 .5 .5-.1 1.2-.6 1.2-.5 1-.2 .5 .1 .1 .7-.2 1-.3 1-.5 1.2-.4 1.1-.4 .7 .4 .3 .8-.6 1.6-.9 1.3-.6 .9-.2 .4 .4 .1 .8-.1 .8-.2 .5 0 .8-.2 .9-.2 .6 .2 .5 .4-.1 .8-.3 .8 0 .4 .3 .2 .5 .2 .2 .5 .2 .7 .1 .7 .1 .3 .3 .2 .5 0 .6 0 .7-.1 .7-.4 .9-.5 1-.5 .7 .4 .3 1-.3 1.6-.7 1.2-.5 .8-.3 .7 .3 .4 .4 .2 .7-.3 .6-.4 1.1-.8 1.5-.9 1.1-.2 .5 .7-.2 1.3-.3 1-.5 .8 0 .4 .3 .2 .5 .2 .4 .2 .4 .3 .5 .3 .4 .4 0L640 575L664 620L664 625l-.1 .4 0 .4-.1 .5 0 .3 .2 .5 .5 .3 .4 .5 .3 .4 .4 .6 .5 .3 .3 .6-.8 .6-1.8 .6-2.1 .7-.7 .3 .9 .2 1.7 .3 1.4 .3 .6 .4 .4 .2 .4 .5 .2 .8-.4 .6-1 .4-1.2 .6-.3 .4 .4 .5 .7 .2 .2 .5-.2 .3 0 .6 .7 .2 .8 .5 .6 .2 .2 .6-.3 .6-.2 .7-.2 .3-.3 .7-1.1 .4-1.4 .6-.7 .4 .5 .2 1.8 .4 1.8 0 1 .5 .4 .2 .2 .6 .2 .6-.1 .3-.7 .8-1.4 .9-1.6 .7-.6 .5 .6 .2 1 .1 .8 .4 .1 .4 .3 .3 .6 .3 .6 .3 .6 .5 .1 .4-.1 .7 .1 .4 .2 .4 .2 .4-.2 .7-1 .7-1.4 .6-.9 .6 .4 .4 1.4-.1 1.7 0 1 .3 .4 .5-.2 .6-.4 .5-.3 .6 0 .5 .1 .4 .2 .4-.2 .6-.4 .6-.4 .5-.2 .3 .3 .5 .5 .3 .9 0 .9 .3 .9 .2 .7 .6 0 .5-.7 .7-1.4 .9-1.4 .9-.4 .4 .6 .1 .9 .3 .7 .3 .6 .1 .6 .3 .5 .4 .2 .5-.2 .6-.1 .6 .4 .1 .6 .4 .3 .5-.4 .6-.6 .8-.8 .4-.5 .8-.7 .4-.4 .7 .5 .1 1.7-.2 2 .1 1.4 .1 .5 .5-.3 .6-.6 .8-.6 .7-.6 .5-.9 .8-.9 .5-.4 .7 .3 .3 .9 0 1.1 .3 .7 .1 .1 .6-.2 .3 .4 .5 .8 .1 1.2 .3 1 .3 .1 .6-.7 .8-1.3 .7-1.6 1.1-1.1 .6-.3 .4 .3 .2 .7 .2 1 .2 1.5 .1 1.1 .1 .7 .3 .2 .6-.5 .6-.5 .6 0 .5 .4 .3 .5 .6-.1 .5-.7 .7-1.2 .5-.8 .7-.2 .6 .3 .1 .9 .3 1.3-.1 1.5 .1 1.5 .3 .7 .3-.2 .8-1.2 .8-1.4 .9-1.3 .6-.4 .6 .1 .2 .5 .4 .6 .1 .9 .3 1 .2 .7 .3 .2 .5-.2 .6-.2 .6 0 .5 .4 .4 .5 .4 .1 .5-.5 .4-1.1 .8-1 .5-.2 .6 .6 .1 .9 .3 1.1 0 .9 .3 1 .2 1 .6 .3 .4-.6 .7-1.5 1-2.6 .9-1.7 1 0 .3 1.3-.1 1.7-.2-.3 .9-1.9 1.3-1.2 1.2-.1 .8 .1 .5 .3 .5 .6 .1 .8 .1 1-.3 1.2-.3 1 .2 .5 .2 .6 .4 .8 .3 .8 0 .5 .4 0 .6 0 .5 .2 .5 .4 .5-.1 .5-.8 .8-1.9 .8-1.3 .9 0 .3 1 0 1.6 .1 1.4-.1 1.2 .2 1.2 .2 .8 .6-.4 .6-1.4 1-2.3 1.1-1.9 .9-.5 .4 .7 0 1.4 .2 1.7-.2 1.7 0 1.5 .1 .9 .3-.3 .9-1.3 .9-1.9 1.1-1.7 .8-.4 .6 .7 .1 1.2-.1 1.4 .1 1 .2 .7 .4 .2 .4-.2 .6-.6 .7-.6 .7-.1 .3 .7 .3 .8 .3 .5 .4-.3 .6-1.1 .6-1.3 .9-.4 .4 1 .2 2.2-.2 1.8 0 1.1 .2-.2 .6-1.2 .9-1.9 1.1-1.9 1.1-.5 .5 .9 0 1.7 0 1.5-.2 .7 .3 .2 .4 0 .6-.1 .5 .2 .5 .2 .2 .3 .4 .3 .5 .3 .4 .2 .5 .1 .5-.1 .6-.7 .7-1.5 1-1.6 .8-1 .8 .1 .3 1.2-.2 2-.3 2-.1 1.3 .1 1 .2 .7 .6 .1 .4-.2 .6-.8 .8-1.1 .9-1.6 1-1 .9 0 .2 1.1-.1 1.6 0 1 .3 .1 .4-.6 .8-1.3 .6-.6 .8 .6 0 1.9-.1 1.8-.1 1.4 .1 .5 .6-.7 .8-1.4 1-1.9 1.1-1.3 .7-.1 .6 1-.1 1.5 0 1.1 .2 .4 .1-.1 .6-.4 .6-.3 .7 .2 .2 .9 .2 .9 .2 1 .2 .6 .3 .1 .4-.3 1-.8 .8-1.3 .7-1 .9-.4 .4 .6 .3 1-.1 1.3 .1 .7 .2 .1 .5-.4 .7-.8 .6-.9 .6-1.3 .4-1.5 .6-.7 .5 0 .6 .2 .7 .3 .4 1.2 .4 1.6 .5 .2 .7-.5 .7 .5 .1 1.5 0 1.8-.4 1.4 0 .4 .3-.1 .6-.4 .7-.2 .4 .6 .3 .9 .2 .9 .2 .6 .3 .3 .4 .1 .5 .1 .5 .1 .5 0 .5-.3 .7-.9 1-2 1.1-1.9 1.3-1 .7 .4 .1 1.9-.5 2.8-.9 2.2-.4 1.4 0 .8 .4 .3 .4 .1 .5 0 .9-.6 .7-1.1 1.1-1.9 1.4-1.8 1.1-.6 .5 .7 0 1.6-.1 1.2-.3 .9 .2 .4 .1 .7 .3 .9 .1 .8 .2 .5 .4-.1 .7-.4 .7-.2 .4 .4 .4 .5 .3 .3 .5-.3 .8-1.4 .9-1.8 1.4-1.3 .9-.2 .4 .7 0 1.3-.3 1.4-.1 1.3-.2 1.3 0 1.2 0 1.3 0 1.3 .1 .6 .2-.1 .7-1 1.1-1.5 1.3-1.8 1.4-1.2 1-.2 .3 .8 .3 .9-.1 .7 .3 0 .3-.4 .8-.5 .5 0 .3 .7 .3 1-.2 1.4 0 1-.2 .8 .2 .7 .3 .7 .3 .6 .3 .6 .3 .5 .4 0 .6-.6 .9-1.2 1.2-2 1.6-2.3 1.4-1.6 1.1-.5 .6 .8-.1 1.7-.6 2.4-.6 2.2-.7 1.2 0 .6 .2 .2 .5 0 .6 0 .6 .2 .5 .3 .2 .4 .3 .3 .5 0 .5-.1 .6-.1 .7 0 .6-.2 .3-.1 .7-.5 .8-.9 .8-.8 1-.5 .5 .7 .2 1.6-.6 2.5-.7 2-.6 1.5-.2 .7 .4-.5 .8-1 1.3-1.3 1.3-1.4 1.3-.7 .7 .1 .4 .7 .1 .7 .1 .7-.1 .7 .1 .8 .1 .5 .2 .4 .5-.1 .5-.7 .9-.7 .9 .2 .3 1.5-.4 1.9-.5 1.6-.5 1 .2-.4 .9-1.5 1.6-2.2 2.1-2.1 1.7-.6 1 .4-.3 1.5-.5 1.8-.8 1.8-.8 1.3-.4 1.2-.4 1.1 .1 .2 .3-.2 1-1 1.3-1.1 1.9-1 1.5 0 .4 1-.4 1.4-.8 1.2-.2 .3 .1 .1 .8-.6 1.1-.4 .9 .1 .5 .7 .1 .7-.4 1-.2 .6-.4 .8-.1 .9-.4 1-.4 .8-.3 .4 .1 .2 1-.4 1.5-.9 2.4-1 2.7-.8 1.9-.1 .9 .6-.3 1.1-1.4 1.5-2 1.3-1.7 1-.7 .8-.3 .6 0 .4 .4 .3 .5 .2 .6 .3 .6 .2 .5 .2 .4L752 870L352 870Z" fill="#f5b5c3"/><path d="M352 859l.9 .3 .5 .1 .3-.2 0-.7-.1-.8 0-.7 .3-.5 .6 .2 .8 .1 .1-.5-.7-1.4-.7-1.6 0-.7 1.5 .6 2.6 2 3.5 2.4 1.5 1.3-.4-.8-1.9-2.2-2.5-2.5-1.3-1.8-.8-1.1 .3-.6 1.4 .2 1.9 .9 2.4 1.3 1 .2-.9-1.2-1.7-1.6-.4-.9 .8 .1 2.4 1 2.1 .8 .3-.5-1.9-1.2-2.1-1.9-1.3-1.7-.6-1 .3-.6 1.2 .1 2 .5 3.1 1.4 2.8 1.2 .9 .3-1.3-1-2.5-2-2-1.6-.5-1 .3-.4 .7 0 1-.3 .7 0 .7-.2 .1-.4-.6-.9-.8-1-.7-.9 .4-.4 1.6 .2 2.8 1 2.7 1.2 1.2 .4-.5-.6-1.8-1.3-2.3-1.8-1.5-1.5-1-1.1-.2-.7 .9-.4 1.5 .3 1.9 .4 1.7 .7 .6-.3-1-.9-1.2-1.2-.3-.8 .8-.2 2 .8 2.6 .9 1.3 .3-.8-.7-2.9-1.9-2.6-2-1.7-1.6-.2-.7 1.6 0 2.4 .6 2.4 1 1.6 .2-.1-.3-.9-.8-.6-1 .2-.5 .8 .1 .9 .2 .8-.3 .1-.2-.4-.5-1.1-1.2-1.7-1.2-1.7-1.6-1-1.4 .4-.4 2.2 .2 2.9 .8 3.1 1.3 1.4 .4 0-.3-.5-.6-.6-.6-.9-1.1-1.2-.9-.4-.9 .3-.4 .6 0 .6-.3-.5-.9-1.1-.9-.8-1.2 .1-.6 1.2 0 1.8 .3 2.3 .8 1.8 .2 .6 0-.3-.4-1.1-.8-1.8-1.2-1.3-1.2-1-1.1-.2-.9 .6-.3 1.6 .2 2.2 .5 2.3 .4 .9 .1-.5-.5-1.4-.9-1.4-1.2-.6-.8-.3-.6 .1-.5 .3-.4 .4-.4 .5-.4 .7-.2 .8-.2 .8-.2 .5-.1 .3-.4 .2-.2 .2-.5 .2-.1 .2-.5-.2-.6-.9-.7-.9-.9-.8-.9-.6-1 0-.5 .7-.5 1.3 0 1.6 .1 2.2 .4 1.7 .4 1 .1 .2-.2-.6-.7-1.4-.8-1.9-1.3-1.5-1.1-1.2-1-.5-.9 .4-.4 1.3-.3 1.6 .1 1.6 .2 1.3-.1 .2-.1-.1-.6-.1-.5 .1-.3 .2-.4 .2-.4 .1-.3 .2-.4 .1-.5-.5-.4-1-.9-1.2-.9-1.1-1.1-.4-.7 .6-.5 1.6 0 1.9 .2 2.5 .3 1.5 .3 .7-.3-.2-.4-1.1-.6-1.6-1-1.7-.9-.9-1-.2-.6 .6-.3 1.2-.2 1.1-.1 .7-.3-.1-.6-.5-.4-.1-.5 .3-.5 .7-.3 .7 0 .6-.4 .1-.2-.2-.6-.5-.7-.9-.6-.9-.8-.6-1 0-.5 1-.3 1.7 0 2.6 .5 1.9 0 .4-.1-.9-.6-1.7-.8-1.9-1.1-1.3-.7-.8-1-.3-.7 .5-.4 1.4-.2 1.9 0 2.5 .4 1.6 .2 .2-.3-.9-.8-1.8-.8-1.5-.8-.7-.8-.4-.6 0-.5 .3-.6 .7-.2 .8-.5 .9-.2 .7-.1 .2-.4-.2-.6 0-.5 .3-.4 .6 0 .8-.3 .3-.4-.6-.4-1.3-.9-1.2-.8-1-.7-.2-.8 .4-.4 1-.3 1.3-.1 1.7-.1 1.2-.2 .4-.2 0-.5-.5-.4-.6-.6-.4-.4-.3-.6-.2-.6-.2-.5-.2-.6-.3-.3-.3-.6-.1-.8 0-.5 .5-.4 1-.3 1.6 .1 1.9-.1 1.1 0 0-.3-1.1-.8-2-.7-1.4-.8-.8-.8 0-.5 .6-.4 .8-.3 .7-.4 .6-.4 .3-.5 .2-.2 .3-.5 .5-.1 .5-.4 .3-.2 .1-.6-.5-.3-.8-.7-.8-.8-.8-.7-.8-.7-.3-.6 .4-.5 1.3-.2 2.1-.1 3 .1 2.1 .2 .5-.2-1.4-.5-2.7-.9-2.6-.8-1.4-1.1-.6-.7 .3-.5 .9-.3 1.2-.3 1.1-.3 1.3-.3 .8-.3 .4-.2 0-.3-.5-.6-.6-.4-.4-.6 .1-.5 .4-.2 .4-.5-.2-.5-1-.5-.9-.7-.7-.7 0-.8 .8-.4 1.3-.2 1.4 0 1.5-.2 1-.1 .4-.4-.6-.4-1.4-.5-1.7-.9-.9-.7-.2-.6 .4-.4 .8-.4 .7-.3 .4-.5 .1-.4 0-.3-.2-.5-.1-.6 0-.5 .4-.4 1.2-.3 1.4 .1 .9-.4-.4-.3-1.6-.8-1.8-.8-1.2-.8-.2-.5 .7-.6 1.4-.2 1.7-.2 1.2-.2 .1-.2-.5-.6-.8-.6-.6-.4 0-.6 .1-.2 .4-.5 .2-.5-.2-.3-.3-.7-.5-.6-.4-.6 0-.6 .5-.4 1.2-.1 2-.2 1.8 .1 .6-.2-.8-.4-2-.9-2-.7-1.3-.7-.4-.9 .4-.5 .9-.4 1-.3 1.1-.4 1.2-.1 .8-.4 .5-.2-.2-.3-.6-.6-1-.4-.7-.7-.4-.3-.1-.6-.2-.6-.2-.5-.1-.6 .1-.5 .7-.4 1.1-.4 1.7 0 1.2-.3 .4-.2-.5-.4-1.1-.7-1.4-.5-1-.6-.8-.7-.5-.6 .1-.8 .8-.4 1.4-.3 2.1-.2 1.7 0 .6-.2-.6-.3-1.3-.7-1.6-.5-1.1-.7-.7-.6-.3-.6 .3-.7 .7-.4 1.1-.4 1.5-.2 1.1-.1 .1-.3-.8-.6-1.1-.7-.7-.3 .1-.5 .6-.4 1-.4 .3-.4-.7-.4-1.1-.6-1-.7-.3-.8 .5-.4 1.3-.3 2-.2 1.7 0 .7-.3-.6-.4-1.4-.7-1.7-.5-1.1-.6-.5-.8 0-.5 .6-.4 .9-.3 1.1-.3 .9-.3 .3-.5-.4-.5-.7-.6-.3-.5 .3-.4 1.4-.2 2.1-.2 1.8-.1 1-.1 .4-.4 .2-.4 .1-.6 .1-.5-.3-.7-1.1-.6-1.6-.7-1.1-.6 .4-.4 .9-.1 .3-.4-.5-.4-1.3-.5-1.7-.7-1-.7-.5-.7 .2-.6 .8-.1 .9-.5 .8-.4-.1-.3-.6-.7-.5-.4 .1-.5 .9-.5 1.8 .1 1.8-.2 .6-.2-1.1-.5-2.5-.7-1.9-.9-1-.8 .1-.5 1.3-.6 1.6 0 1.8-.2 .6-.1-.3-.6-.7-.4-.4-.6 .2-.5 .5-.2 .5-.5-.1-.2-.5-.7-.9-.6-.7-.7-.6-.6-.3-.6 .1-.5 .6-.4 1.1-.5 1.5 0 2.1-.1 1.6 .1 .6-.4-.5-.3-1.5-.6-1.8-.8-1.4-.8-.8-.7-.4-.5 .1-.7 .3-.4 .6-.4 .8-.3 .9-.3 1.3-.2 .8-.3 .3-.4-.4-.3-.7-.7-.6-.6-.1-.5 .1-.4 .4-.4 0-.4-.2-.5-.5-.6-.3-.5-.1-.5 .5-.6 .9-.3 1.3-.1 1 0 .5-.4-.3-.5-.9-.4-1.1-.7-.6-.8-.6-.5-.2-.6 .3-.6 .7-.4 1.3-.3 2 .2 1.6 .1 .4-.2-1-.6-2-1-1.7-.7-1-.8 0-.6 .9-.3 1.2-.3 1.4-.3 .7-.1 .2-.5-.3-.4-.4-.6-.3-.4 0-.5 .1-.5 .4-.2 .4-.5 .1-.5-.6-.4-.7-.7-.8-.8-.2-.6 .6-.3 1.4-.2 2.2 0 1.8 0 .6-.1-.6-.4-1.3-.6-1.5-.9-1-.8-.7-.7-.5-.6 0-.8 .5-.4 1.1-.2 1.5-.2 1.8 .3 1.1-.2 0-.4-.6-.5-.8-.6-.5-.7-.1-.5-.1-.5-.1-.5-.2-.5 0-.4 .2-.6 .3-.4 .3-.5 .1-.2 0-.7 .1-.3 .6-.5 .9 .1 1.6 .1 1.3 .3 .5 0-.5-.5-1.3-1-1.3-1.4-.9-1.1-.4-.9 .1-.6 .6-.3 1 0 1.4 .2 1.8 .7 1.6 .8 1.1 .2 0-.3-.9-1-1.5-1.6-1.1-1.4-.5-1 .1-.5 .8-.3 .8 .1 .8 0 .4-.2 .2-.4 .2-.4 .6-.4 .9 .1 1.2 .5 1.1 .2 .7-.2-.3-.4-1-1-1.3-1.5-1.2-1.1-.6-1.3 0-.6 .9 0 1.7 .1 1.8 .5 1.4 .6 .5-.3-.5-.5-.3-.7 .2-.4 .8-.1 .6 .2 .1-.5-1-1.2-1.4-1.1-.7-1.3-.2-.8 .4-.4 1-.3 .9 .3 1.2 .2 1.6 .4 1.2 .6 .6-.1-.3-.5-.5-.9-.3-.7 .4-.3 .5-.2 0-.3-.6-1-.7-1.1-.5-1 0-.9 .4-.3 .6-.1 1.1-.2 1.1 .2 1.4 .9 1.5 .5 .6 .2-.3-.6-.7-1.2-.9-1.1-.2-.8 .2-.5 .4-.3 .4-.4 0-.3 .1-.7 .3-.5 .5-.3 .7 0 .7 .2 1 .2 .7 .2 .6-.1 .2-.2-.1-.5-.4-1-.6-1.2-.5-1.1-.1-1.1 .3-.4 .9 .2 1.4 .7 1.8 1.1 1.2 .9 .7-.1-.3-.7-.8-1.2-.8-1.5-.3-1 0-.9 .1-.6 .5-.2 .8 .1 1.1 .3 1.4 .7 1 .8 .6 .2 0-.7-.7-1.2-.5-1.4-.4-.8 .2-.6 .5-.2 .8 .1 .7 0 .6-.1 .1-.3 .3-.4 .4-.4 .5-.1 .8 .1 .5 .3 .6-.1 .2-.2 0-.7-.3-1.1-.1-.9-.2-.9 .2-.8 .5-.3 .9 .2 .9 .8 1.8 1.2 1.2 1.2 .5 .2-.3-.8-1-1.8-.9-2.1-.4-1.4 .2-.7 .9 0 1.1 .5 1 .7 1 .5 .4 .2 .4-.3 .3 0 .7 .1 .4 .2 .4-.3-.4-1-.5-1.6-.3-1.4 .1-1.2 .2-.5 .9 0 1 .7 1.1 .9 1.5 1.4 1 1.1 .4 .1-.1-1-.5-1.3-.2-1.2 .2-.6 .2-.2 .3-.4 .1-.9 0-.9 .1-.8 .7-.3 .9 .4 .8 .8 1.3 1.1 1.1 .8 .6 .4 .1-.3-.2-1.3-.8-1.6-.2-1.3 .1-.8 .5-.1 .9 .3 .8 .4 .7 .3 .4-.3 .2-.7 .1-.3 .5-.2 .7 .3 .8 .4 .4 .3 .4-.3 .1-.7-.2-1.1 0-1 0-1 .5-.8 .6 0 1 .9 1.3 1.5 1.1 1.8 .8 .4-.2-.9-.4-1.8-.4-1.4 .3-.5 .5-.1 .6 .1 .3-.4 .3-.7 .2-.8 .3-.5 .7-.2 .7 .3 .9 .9 .9 1.9 1.1 1.8 .5 .8 0-.9-.5-2.4-.2-2.5-.1-1.4 .8-.4 .5 .7 .8 .7 .8 .4 .4-.1 .4-.2 .5 0 .6 .6 .4 .7 .6 .6 .2 .2 .5-.3 .1-.7 .2-1.3 .3-1.5 .3-1.4 .6-.7 .6 .4 .8 1.7 1 2.7 .6 2.5 .3 .8 .1-1.1 0-2.4 .2-2.4 .3-1.5 .4-.9 .8-.2 .6 .7 .7 1.2 .7 1.8 .5 1.9 .3 .9 .2-.5 .4-1.6 .1-2 .4-1.1 .5-.5 .6 .2 .5 .6 .6 .5 .5 .3 .5 0 .3 0 .5 .1 .5 .4 .2 .7 .5 .4 .3-.1 .5-.7 .5-1.1 .5-.9 .5-.5 .5-.1 .5 .3 .5 .6 .5 .9 .4 1.3 .2 1.3 .2 .8 .4 0 .4-1.2 .6-2.1 .7-1.5 .6-1 .5 .1 .7 .9 .4 1.5 .1 1.5 .4 .8 .2 0 .6-.4 .3-.4 .5-.4 .6-.4 .3-.3 .5 0 .5 .1 .5 .2 .5-.1 .6-.5 .3-.7 .8-.5 .4 .3 .5 1.3 .3 2.3 .1 2.2 .3 .7 .3-.8 .6-1.8 .4-2.1 .5-1 .6-.6 .5-.1 .5 .3 .5 .5 .5 .5 .5 .1 .6-.2 .2-.3 .6 .2 .5 1.1 .4 2.3 .2 1.9 .3 .6 .3-1.4 .3-2.6 .6-2.1 .6-1.1 .8-.1 .5 .5 .5 .7 .5 .6 .4 .3 .3 .3 .5 .4 .4 .5 .4 .7 .2 .8 .4 .7 .2 .1 .5-.9 .5-2 .7-1.5 .9-1.1 .8 .1 .5 1.1 .1 1.6-.2 1.7 .1 1 .5 0 .3-.3 .6-.2 .3 0 .5 0 .4-.1 .6-.2 .6-.2 .4-.1 .6-.2 .8-.2 .7-.2 .7 .3 .1 .7-.2 1.4-.5 1.8-.6 1.4 .1 .4 .7-.2 .7-.8 1-.6 .9-.5 .7-.3 .7-.3 .6-.1 .4 .3 .1 .8 .1 .9 .2 .8 .4 .3 .5-.4 .6-.1 .5 .2 .2 .7-.1 1.1 .1 1.1 .1 .5 .6-.1 .5-.7 1-1.2 .9-.9 .8-.8 .7-.5 .7 .2 .2 .9 0 1.5-.2 2-.4 1.8 0 .7 .6-.3 .7-1.2 1.1-1.2 .8-.6 .3-.1 .4 .4 .3 .5 .5 .2 .6-.1 .7-.2 .6-.1 .4 .2 .3 .5 .1 .9-.1 1.2-.4 1.3 0 1.1 0 .4 .6-.6 1.3-1.3 1.3-1.5 1.1-.9 .6-.1 .4 .9-.1 1.2-.3 1.4-.4 1.2 .2 .6 .5 .2 .4-.2 .8-.3 .5-.4 .7-.1 .5 .2 .3 .5 0 .5 .4 .3 .7-.1 .9-.3 .8-.2 .4 .2-.1 .7-.1 1-.4 1.3-.2 1-.1 .4 .4 .3 .5-.3 1-.4 1.2-.6 .9-.4 .7 .1 .2 .5 0 .8-.1 .5 .3 .5 .4 .3 .4 .4 .1 .2 .2 .6 .2 .6 0 .3 .2 .6-.1 .5 .2 .5 .5-.1 1.2-.6 1.2-.5 1-.2 .5 .1 .1 .7-.2 1-.3 1-.5 1.2-.4 1.1-.4 .7 .4 .3 .8-.6 1.6-.9 1.3-.6 .9-.2 .4 .4 .1 .8-.1 .8-.2 .5 0 .8-.2 .9-.2 .6 .2 .5 .4-.1 .8-.3 .8 0 .4 .3 .2 .5 .2 .2 .5 .2 .7 .1 .7 .1 .3 .3 .2 .5 0 .6 0 .7-.1 .7-.4 .9-.5 1-.5 .7 .4 .3 1-.3 1.6-.7 1.2-.5 .8-.3 .7 .3 .4 .4 .2 .7-.3 .6-.4 1.1-.8 1.5-.9 1.1-.2 .5 .7-.2 1.3-.3 1-.5 .8 0 .4 .3 .2 .5 .2 .4 .2 .4 .3 .5 .3 .4 .4 0" fill="none" stroke="#231a1c" stroke-width="1.25" stroke-linejoin="round"/><path d="M664 625l-.1 .4 0 .4-.1 .5 0 .3 .2 .5 .5 .3 .4 .5 .3 .4 .4 .6 .5 .3 .3 .6-.8 .6-1.8 .6-2.1 .7-.7 .3 .9 .2 1.7 .3 1.4 .3 .6 .4 .4 .2 .4 .5 .2 .8-.4 .6-1 .4-1.2 .6-.3 .4 .4 .5 .7 .2 .2 .5-.2 .3 0 .6 .7 .2 .8 .5 .6 .2 .2 .6-.3 .6-.2 .7-.2 .3-.3 .7-1.1 .4-1.4 .6-.7 .4 .5 .2 1.8 .4 1.8 0 1 .5 .4 .2 .2 .6 .2 .6-.1 .3-.7 .8-1.4 .9-1.6 .7-.6 .5 .6 .2 1 .1 .8 .4 .1 .4 .3 .3 .6 .3 .6 .3 .6 .5 .1 .4-.1 .7 .1 .4 .2 .4 .2 .4-.2 .7-1 .7-1.4 .6-.9 .6 .4 .4 1.4-.1 1.7 0 1 .3 .4 .5-.2 .6-.4 .5-.3 .6 0 .5 .1 .4 .2 .4-.2 .6-.4 .6-.4 .5-.2 .3 .3 .5 .5 .3 .9 0 .9 .3 .9 .2 .7 .6 0 .5-.7 .7-1.4 .9-1.4 .9-.4 .4 .6 .1 .9 .3 .7 .3 .6 .1 .6 .3 .5 .4 .2 .5-.2 .6-.1 .6 .4 .1 .6 .4 .3 .5-.4 .6-.6 .8-.8 .4-.5 .8-.7 .4-.4 .7 .5 .1 1.7-.2 2 .1 1.4 .1 .5 .5-.3 .6-.6 .8-.6 .7-.6 .5-.9 .8-.9 .5-.4 .7 .3 .3 .9 0 1.1 .3 .7 .1 .1 .6-.2 .3 .4 .5 .8 .1 1.2 .3 1 .3 .1 .6-.7 .8-1.3 .7-1.6 1.1-1.1 .6-.3 .4 .3 .2 .7 .2 1 .2 1.5 .1 1.1 .1 .7 .3 .2 .6-.5 .6-.5 .6 0 .5 .4 .3 .5 .6-.1 .5-.7 .7-1.2 .5-.8 .7-.2 .6 .3 .1 .9 .3 1.3-.1 1.5 .1 1.5 .3 .7 .3-.2 .8-1.2 .8-1.4 .9-1.3 .6-.4 .6 .1 .2 .5 .4 .6 .1 .9 .3 1 .2 .7 .3 .2 .5-.2 .6-.2 .6 0 .5 .4 .4 .5 .4 .1 .5-.5 .4-1.1 .8-1 .5-.2 .6 .6 .1 .9 .3 1.1 0 .9 .3 1 .2 1 .6 .3 .4-.6 .7-1.5 1-2.6 .9-1.7 1 0 .3 1.3-.1 1.7-.2-.3 .9-1.9 1.3-1.2 1.2-.1 .8 .1 .5 .3 .5 .6 .1 .8 .1 1-.3 1.2-.3 1 .2 .5 .2 .6 .4 .8 .3 .8 0 .5 .4 0 .6 0 .5 .2 .5 .4 .5-.1 .5-.8 .8-1.9 .8-1.3 .9 0 .3 1 0 1.6 .1 1.4-.1 1.2 .2 1.2 .2 .8 .6-.4 .6-1.4 1-2.3 1.1-1.9 .9-.5 .4 .7 0 1.4 .2 1.7-.2 1.7 0 1.5 .1 .9 .3-.3 .9-1.3 .9-1.9 1.1-1.7 .8-.4 .6 .7 .1 1.2-.1 1.4 .1 1 .2 .7 .4 .2 .4-.2 .6-.6 .7-.6 .7-.1 .3 .7 .3 .8 .3 .5 .4-.3 .6-1.1 .6-1.3 .9-.4 .4 1 .2 2.2-.2 1.8 0 1.1 .2-.2 .6-1.2 .9-1.9 1.1-1.9 1.1-.5 .5 .9 0 1.7 0 1.5-.2 .7 .3 .2 .4 0 .6-.1 .5 .2 .5 .2 .2 .3 .4 .3 .5 .3 .4 .2 .5 .1 .5-.1 .6-.7 .7-1.5 1-1.6 .8-1 .8 .1 .3 1.2-.2 2-.3 2-.1 1.3 .1 1 .2 .7 .6 .1 .4-.2 .6-.8 .8-1.1 .9-1.6 1-1 .9 0 .2 1.1-.1 1.6 0 1 .3 .1 .4-.6 .8-1.3 .6-.6 .8 .6 0 1.9-.1 1.8-.1 1.4 .1 .5 .6-.7 .8-1.4 1-1.9 1.1-1.3 .7-.1 .6 1-.1 1.5 0 1.1 .2 .4 .1-.1 .6-.4 .6-.3 .7 .2 .2 .9 .2 .9 .2 1 .2 .6 .3 .1 .4-.3 1-.8 .8-1.3 .7-1 .9-.4 .4 .6 .3 1-.1 1.3 .1 .7 .2 .1 .5-.4 .7-.8 .6-.9 .6-1.3 .4-1.5 .6-.7 .5 0 .6 .2 .7 .3 .4 1.2 .4 1.6 .5 .2 .7-.5 .7 .5 .1 1.5 0 1.8-.4 1.4 0 .4 .3-.1 .6-.4 .7-.2 .4 .6 .3 .9 .2 .9 .2 .6 .3 .3 .4 .1 .5 .1 .5 .1 .5 0 .5-.3 .7-.9 1-2 1.1-1.9 1.3-1 .7 .4 .1 1.9-.5 2.8-.9 2.2-.4 1.4 0 .8 .4 .3 .4 .1 .5 0 .9-.6 .7-1.1 1.1-1.9 1.4-1.8 1.1-.6 .5 .7 0 1.6-.1 1.2-.3 .9 .2 .4 .1 .7 .3 .9 .1 .8 .2 .5 .4-.1 .7-.4 .7-.2 .4 .4 .4 .5 .3 .3 .5-.3 .8-1.4 .9-1.8 1.4-1.3 .9-.2 .4 .7 0 1.3-.3 1.4-.1 1.3-.2 1.3 0 1.2 0 1.3 0 1.3 .1 .6 .2-.1 .7-1 1.1-1.5 1.3-1.8 1.4-1.2 1-.2 .3 .8 .3 .9-.1 .7 .3 0 .3-.4 .8-.5 .5 0 .3 .7 .3 1-.2 1.4 0 1-.2 .8 .2 .7 .3 .7 .3 .6 .3 .6 .3 .5 .4 0 .6-.6 .9-1.2 1.2-2 1.6-2.3 1.4-1.6 1.1-.5 .6 .8-.1 1.7-.6 2.4-.6 2.2-.7 1.2 0 .6 .2 .2 .5 0 .6 0 .6 .2 .5 .3 .2 .4 .3 .3 .5 0 .5-.1 .6-.1 .7 0 .6-.2 .3-.1 .7-.5 .8-.9 .8-.8 1-.5 .5 .7 .2 1.6-.6 2.5-.7 2-.6 1.5-.2 .7 .4-.5 .8-1 1.3-1.3 1.3-1.4 1.3-.7 .7 .1 .4 .7 .1 .7 .1 .7-.1 .7 .1 .8 .1 .5 .2 .4 .5-.1 .5-.7 .9-.7 .9 .2 .3 1.5-.4 1.9-.5 1.6-.5 1 .2-.4 .9-1.5 1.6-2.2 2.1-2.1 1.7-.6 1 .4-.3 1.5-.5 1.8-.8 1.8-.8 1.3-.4 1.2-.4 1.1 .1 .2 .3-.2 1-1 1.3-1.1 1.9-1 1.5 0 .4 1-.4 1.4-.8 1.2-.2 .3 .1 .1 .8-.6 1.1-.4 .9 .1 .5 .7 .1 .7-.4 1-.2 .6-.4 .8-.1 .9-.4 1-.4 .8-.3 .4 .1 .2 1-.4 1.5-.9 2.4-1 2.7-.8 1.9-.1 .9 .6-.3 1.1-1.4 1.5-2 1.3-1.7 1-.7 .8-.3 .6 0 .4 .4 .3 .5 .2 .6 .3 .6 .2 .5 .2 .4" fill="none" stroke="#231a1c" stroke-width="1.25" stroke-linejoin="round"/></g>
<path d="M340 859C340.4 858.5 339.2 860.2 342.5 856C345.8 851.8 354.4 842.5 360 834C365.6 825.5 371.8 814 376.2 805C380.6 796 383.1 789.3 386.2 780C389.3 770.7 392.7 759.5 395 749C397.3 738.5 398.6 726.5 400 717C401.4 707.5 402.2 700.3 403.7 692C405.1 683.7 406.9 675.3 408.7 667C410.5 658.7 412.6 649.8 414.4 642C416.2 634.2 417.6 627.5 419.5 620C421.4 612.5 423 604.3 425.6 597C428.2 589.7 431.4 583.2 435 576.2C438.6 569.2 442.9 561.5 447.5 555C452.1 548.5 456.9 543.1 462.5 537.5C468.1 531.9 474.9 525.5 481.2 521.2C487.4 516.9 493.8 514.3 500 511.9C506.2 509.5 513.5 507.9 518.7 506.9C523.9 505.8 525.8 505.7 531 505.6C536.2 505.5 543.5 505.6 549.7 506.2C556 506.8 562.2 507.9 568.5 509.4C574.8 510.9 581 512.6 587.2 515C593.5 517.4 600.4 520.4 606 523.7C611.6 527 616.4 530.8 621 535C625.6 539.2 629.7 543.1 633.5 548.7C637.3 554.3 642 565.4 643.8 568.8L623.8 582.5L645 627.5L671 622.5C672.1 627.1 674.8 640.1 677.5 650C680.2 659.9 682.9 668.3 687 682C691.1 695.7 697 715.3 702 732C707 748.7 711.6 767.2 717 782C722.4 796.8 727 808.2 734.5 821C742 833.8 757.4 852.2 762 858.5" fill="none" stroke="#1d1518" stroke-width="1.6" stroke-linejoin="round"/>
<path d="M534.75 550.5L533.5 540C537.2 539.7 549.1 537.8 556 538C562.9 538.2 568.9 539.4 574.7 541.2C580.5 543 586.2 545.6 591 548.7C595.8 551.8 599.8 556.2 603.5 560C607.2 563.8 610.1 567.5 613.5 571.2C616.9 575 622 580.6 623.8 582.5" fill="none" stroke="#1d1518" stroke-width="1.5" stroke-linejoin="round"/>
<path d="M435 859C436.8 853.2 443.1 835 445.8 824C448.4 813 449.6 802.4 450.8 793C451.9 783.6 451.6 779.2 452.5 767.5C453.4 755.8 454.9 735.4 456 723C457.1 710.6 458 701.8 459 693C460 684.2 461 677.2 462 670C463 662.8 463.2 658.3 465 650C466.8 641.7 469.6 629.6 472.5 620C475.4 610.4 477.9 600.8 482.5 592.5C487.1 584.2 492.9 576.2 500 570C507.1 563.8 516.7 558.3 525 555C533.3 551.7 541.7 549.8 550 550C558.3 550.2 566.7 551.8 575 556C583.3 560.2 592.9 567.7 600 575C607.1 582.3 612.5 590.8 617.5 600C622.5 609.2 626.8 619.2 630 630C633.2 640.8 635.2 652.5 637 665C638.8 677.5 639.7 692.1 641 705C642.3 717.9 643.5 730 645 742.5C646.5 755 647.5 768.4 650 780C652.5 791.6 657.5 804.7 660 812C662.5 819.3 661 816.2 665 824C669 831.8 680.6 853.2 683.8 859Z" fill="#fbdacd"/>
<g clip-path="url(#boneC)"><g clip-path="url(#graftC)"><rect x="455" y="535" width="200" height="90" fill="#eee1cb"/><g fill="#d9c6ae" opacity="0.4"><ellipse cx="564.9" cy="591.5" rx="1.9" ry="13.5"/><ellipse cx="582" cy="601.7" rx="0.8" ry="9.2"/><ellipse cx="611.7" cy="586.3" rx="2.1" ry="6"/><ellipse cx="542.5" cy="563.8" rx="1.6" ry="10.2"/><ellipse cx="475.9" cy="562.1" rx="1.2" ry="13.2"/><ellipse cx="585.8" cy="558.9" rx="1.9" ry="6.2"/><ellipse cx="564.1" cy="557.1" rx="0.8" ry="12.8"/><ellipse cx="504.6" cy="562.1" rx="2.2" ry="12.9"/><ellipse cx="516.2" cy="603.8" rx="1.6" ry="11.1"/><ellipse cx="503.9" cy="602.7" rx="1.8" ry="13.7"/><ellipse cx="604.5" cy="566.7" rx="1.3" ry="6.5"/><ellipse cx="495.3" cy="553.6" rx="1.2" ry="10.4"/><ellipse cx="474.5" cy="588" rx="1.3" ry="7.8"/><ellipse cx="593.5" cy="576.9" rx="1.2" ry="9.3"/><ellipse cx="576.9" cy="553.2" rx="2.2" ry="5.2"/><ellipse cx="583.5" cy="597.3" rx="0.8" ry="12.1"/><ellipse cx="527.5" cy="582.4" rx="0.8" ry="5.4"/><ellipse cx="500.4" cy="603.5" rx="1.1" ry="11.8"/><ellipse cx="609.7" cy="602.8" rx="1.3" ry="8.2"/><ellipse cx="550.6" cy="593.4" rx="1" ry="11.7"/><ellipse cx="590.4" cy="598.1" rx="0.9" ry="13.5"/><ellipse cx="487.3" cy="569.1" rx="1.7" ry="13.3"/><ellipse cx="523.6" cy="601.8" rx="1.6" ry="7.8"/><ellipse cx="520.3" cy="559.9" rx="0.9" ry="6.3"/><ellipse cx="574.6" cy="605.8" rx="1" ry="5.4"/><ellipse cx="618.1" cy="579.9" rx="1.4" ry="7.1"/><ellipse cx="560.7" cy="596.3" rx="1.4" ry="8.8"/><ellipse cx="482.1" cy="601.3" rx="0.8" ry="9.4"/><ellipse cx="596.4" cy="557.3" rx="1.8" ry="13.5"/><ellipse cx="566" cy="594.1" rx="0.9" ry="8.9"/><ellipse cx="495.8" cy="597.3" rx="1.2" ry="9.1"/><ellipse cx="619.9" cy="597.7" rx="2.2" ry="9.1"/><ellipse cx="545.3" cy="590.9" rx="1.5" ry="7.6"/><ellipse cx="533" cy="558.2" rx="1.3" ry="13.9"/><ellipse cx="614.1" cy="585.1" rx="1.5" ry="8"/><ellipse cx="487" cy="565.2" rx="1.9" ry="12.8"/><ellipse cx="526.8" cy="594" rx="1.9" ry="11.3"/><ellipse cx="570.9" cy="592.5" rx="1.3" ry="11.3"/><ellipse cx="515" cy="577.2" rx="1.9" ry="11.2"/><ellipse cx="516.9" cy="603" rx="1.7" ry="10.2"/><ellipse cx="475.7" cy="580.6" rx="1.2" ry="11"/><ellipse cx="541.6" cy="595.7" rx="1.7" ry="12.2"/><ellipse cx="524.8" cy="586.1" rx="1.8" ry="12.5"/><ellipse cx="525.1" cy="597.2" rx="2" ry="11.2"/><ellipse cx="616.5" cy="603.6" rx="1.5" ry="9.8"/><ellipse cx="498.3" cy="596.9" rx="2.1" ry="9.3"/><ellipse cx="574.9" cy="590.3" rx="1.8" ry="6.5"/><ellipse cx="587.9" cy="582.5" rx="1.7" ry="8.8"/><ellipse cx="565.1" cy="593.4" rx="1.7" ry="11.5"/><ellipse cx="478" cy="559" rx="1.4" ry="10.9"/><ellipse cx="506" cy="588.4" rx="1.7" ry="5.4"/><ellipse cx="542.9" cy="562.7" rx="0.9" ry="6.2"/><ellipse cx="520.3" cy="560.2" rx="1.1" ry="5.3"/><ellipse cx="541.9" cy="571.3" rx="1.7" ry="10.3"/><ellipse cx="508.7" cy="600.6" rx="0.8" ry="8.6"/><ellipse cx="514.7" cy="573" rx="1" ry="12.5"/><ellipse cx="528.6" cy="552" rx="1.7" ry="5.9"/><ellipse cx="553.6" cy="569" rx="1.6" ry="13.6"/><ellipse cx="593.5" cy="573.5" rx="1.9" ry="10.8"/><ellipse cx="527.9" cy="558" rx="1.6" ry="10.1"/><ellipse cx="613.8" cy="604.2" rx="1.7" ry="8.2"/><ellipse cx="604.4" cy="550.1" rx="1" ry="10.1"/><ellipse cx="563.8" cy="557.9" rx="1.7" ry="13"/><ellipse cx="528.9" cy="574.2" rx="1.1" ry="7.6"/><ellipse cx="616" cy="571.3" rx="2.1" ry="13.2"/><ellipse cx="561" cy="564.6" rx="2.2" ry="9.5"/><ellipse cx="534.7" cy="567.9" rx="2.2" ry="9.4"/><ellipse cx="515.8" cy="576.7" rx="1" ry="10.6"/><ellipse cx="538.7" cy="566.4" rx="1.9" ry="12.4"/><ellipse cx="475.9" cy="579.8" rx="1.2" ry="13.4"/></g><g fill="#f5ecdc" opacity="0.55"><ellipse cx="588.2" cy="563.8" rx="2.2" ry="4.9"/><ellipse cx="618.4" cy="566.4" rx="3" ry="6.8"/><ellipse cx="568.2" cy="583.8" rx="3.4" ry="4.7"/><ellipse cx="585" cy="566.8" rx="2.8" ry="6"/><ellipse cx="517.3" cy="579.7" rx="2.7" ry="6.2"/><ellipse cx="582.8" cy="583.1" rx="1.6" ry="5.5"/><ellipse cx="540.5" cy="601.3" rx="3.7" ry="7.3"/><ellipse cx="476.1" cy="593.6" rx="2.6" ry="7.5"/><ellipse cx="577.4" cy="585.4" rx="2.7" ry="9.5"/><ellipse cx="530.3" cy="571.9" rx="3.6" ry="5.2"/><ellipse cx="517.3" cy="596.5" rx="1.7" ry="9"/><ellipse cx="575.4" cy="574.2" rx="2.2" ry="8.7"/><ellipse cx="607" cy="558" rx="2.7" ry="7.3"/><ellipse cx="546.7" cy="568.5" rx="1.9" ry="7.5"/><ellipse cx="592.5" cy="553.8" rx="2.1" ry="8.9"/><ellipse cx="589.6" cy="587.2" rx="1.6" ry="8.3"/><ellipse cx="616.9" cy="605.9" rx="3.3" ry="4.3"/><ellipse cx="596.9" cy="562.3" rx="3.1" ry="9.7"/><ellipse cx="578" cy="557.5" rx="2.2" ry="9.5"/><ellipse cx="495.9" cy="584.2" rx="2.5" ry="5"/><ellipse cx="564.9" cy="552.4" rx="1.8" ry="6.3"/><ellipse cx="484.5" cy="553.2" rx="2.9" ry="8.5"/><ellipse cx="602.3" cy="557.5" rx="2.6" ry="5.9"/><ellipse cx="561.6" cy="577.4" rx="3.8" ry="6.2"/><ellipse cx="482.1" cy="589" rx="1.9" ry="7.8"/><ellipse cx="547.9" cy="601" rx="2.9" ry="7.7"/><ellipse cx="512.4" cy="580.9" rx="2.1" ry="8.5"/><ellipse cx="549.5" cy="557.5" rx="2.1" ry="6.2"/><ellipse cx="581.6" cy="560" rx="3.3" ry="7.9"/><ellipse cx="486.4" cy="587.4" rx="1.7" ry="4.7"/><ellipse cx="560.7" cy="563.4" rx="3.7" ry="6.9"/><ellipse cx="521.2" cy="594.6" rx="1.6" ry="8.4"/><ellipse cx="481.8" cy="558.4" rx="3.9" ry="8.1"/><ellipse cx="506.6" cy="556.5" rx="3.9" ry="8"/><ellipse cx="593.8" cy="557.8" rx="3.1" ry="6.1"/></g><g fill="#fbf8f2"><ellipse cx="509.4" cy="570" rx="1.9" ry="1.2" transform="rotate(98 509.4 570)"/><ellipse cx="529.7" cy="591" rx="1.5" ry="0.9" transform="rotate(161 529.7 591)"/><ellipse cx="537.5" cy="598" rx="1.7" ry="1.2" transform="rotate(146 537.5 598)"/><ellipse cx="506.5" cy="561.7" rx="1.1" ry="0.6" transform="rotate(47 506.5 561.7)"/><ellipse cx="504.7" cy="554.1" rx="2.2" ry="1.5" transform="rotate(89 504.7 554.1)"/><ellipse cx="476.1" cy="577.4" rx="2.2" ry="1.6" transform="rotate(109 476.1 577.4)"/><ellipse cx="521.9" cy="576.9" rx="1.3" ry="0.9" transform="rotate(18 521.9 576.9)"/><ellipse cx="529.2" cy="572.8" rx="2.2" ry="1.2" transform="rotate(65 529.2 572.8)"/><ellipse cx="491.7" cy="596.2" rx="2.1" ry="1.5" transform="rotate(8 491.7 596.2)"/><ellipse cx="544.4" cy="553.7" rx="2.3" ry="1.4" transform="rotate(15 544.4 553.7)"/><ellipse cx="573.7" cy="588.4" rx="1.7" ry="1.4" transform="rotate(30 573.7 588.4)"/><ellipse cx="587.5" cy="569.5" rx="1.6" ry="1" transform="rotate(41 587.5 569.5)"/><ellipse cx="480.8" cy="590.6" rx="1.8" ry="1.3" transform="rotate(158 480.8 590.6)"/><ellipse cx="533" cy="604.6" rx="1.5" ry="0.9" transform="rotate(119 533 604.6)"/><ellipse cx="527.3" cy="555.6" rx="2.4" ry="1.6" transform="rotate(61 527.3 555.6)"/><ellipse cx="500.9" cy="563.3" rx="1.1" ry="0.8" transform="rotate(69 500.9 563.3)"/><ellipse cx="476.9" cy="555.3" rx="2.1" ry="1.3" transform="rotate(11 476.9 555.3)"/><ellipse cx="480.7" cy="597.1" rx="2.2" ry="1.5" transform="rotate(24 480.7 597.1)"/><ellipse cx="577.7" cy="564.8" rx="2.1" ry="1.1" transform="rotate(120 577.7 564.8)"/><ellipse cx="483.6" cy="565.1" rx="1.1" ry="0.7" transform="rotate(15 483.6 565.1)"/><ellipse cx="482.8" cy="597" rx="1.6" ry="1.2" transform="rotate(9 482.8 597)"/><ellipse cx="610.9" cy="562.5" rx="2" ry="1.4" transform="rotate(48 610.9 562.5)"/><ellipse cx="551.4" cy="556.6" rx="1.4" ry="0.8" transform="rotate(138 551.4 556.6)"/><ellipse cx="615.9" cy="560.7" rx="1.1" ry="0.8" transform="rotate(159 615.9 560.7)"/><ellipse cx="478.5" cy="581.1" rx="1.7" ry="1.2" transform="rotate(96 478.5 581.1)"/><ellipse cx="550.2" cy="559.2" rx="1" ry="0.8" transform="rotate(176 550.2 559.2)"/><ellipse cx="539.8" cy="596.6" rx="1.3" ry="0.7" transform="rotate(79 539.8 596.6)"/><ellipse cx="544.6" cy="594.1" rx="1.4" ry="0.9" transform="rotate(33 544.6 594.1)"/><ellipse cx="494.4" cy="556.4" rx="1.3" ry="0.7" transform="rotate(109 494.4 556.4)"/><ellipse cx="613.4" cy="588" rx="1.4" ry="0.9" transform="rotate(63 613.4 588)"/><ellipse cx="482.8" cy="562.8" rx="1.4" ry="0.9" transform="rotate(25 482.8 562.8)"/><ellipse cx="486.2" cy="593.6" rx="1.5" ry="1.2" transform="rotate(0 486.2 593.6)"/><ellipse cx="603.2" cy="587.3" rx="2.1" ry="1.4" transform="rotate(113 603.2 587.3)"/><ellipse cx="496.4" cy="589.1" rx="2.1" ry="1.1" transform="rotate(12 496.4 589.1)"/><ellipse cx="575.6" cy="566.5" rx="2.1" ry="1.4" transform="rotate(33 575.6 566.5)"/><ellipse cx="521.6" cy="568.5" rx="1.2" ry="0.8" transform="rotate(82 521.6 568.5)"/><ellipse cx="516.5" cy="555.4" rx="2.1" ry="1.4" transform="rotate(7 516.5 555.4)"/><ellipse cx="493.3" cy="604.4" rx="2.2" ry="1.4" transform="rotate(66 493.3 604.4)"/><ellipse cx="610.8" cy="585" rx="1.3" ry="0.9" transform="rotate(92 610.8 585)"/><ellipse cx="504.6" cy="571.3" rx="1.2" ry="0.9" transform="rotate(41 504.6 571.3)"/><ellipse cx="579.2" cy="557.1" rx="1.7" ry="1" transform="rotate(36 579.2 557.1)"/><ellipse cx="539.4" cy="602.7" rx="2.1" ry="1.1" transform="rotate(81 539.4 602.7)"/><ellipse cx="539.3" cy="564.3" rx="1.8" ry="1" transform="rotate(12 539.3 564.3)"/><ellipse cx="585" cy="602.6" rx="1.7" ry="1.5" transform="rotate(152 585 602.6)"/><ellipse cx="476.2" cy="558.9" rx="2.2" ry="1.6" transform="rotate(53 476.2 558.9)"/><ellipse cx="614.9" cy="553.8" rx="1.8" ry="1.2" transform="rotate(90 614.9 553.8)"/><ellipse cx="531.8" cy="563.6" rx="1.4" ry="0.8" transform="rotate(143 531.8 563.6)"/><ellipse cx="549.2" cy="593.3" rx="2.1" ry="1.3" transform="rotate(63 549.2 593.3)"/><ellipse cx="591.6" cy="587.8" rx="2.3" ry="1.2" transform="rotate(126 591.6 587.8)"/><ellipse cx="532.9" cy="559.7" rx="2.2" ry="1.5" transform="rotate(9 532.9 559.7)"/><ellipse cx="489.3" cy="573.4" rx="2.1" ry="1.2" transform="rotate(51 489.3 573.4)"/><ellipse cx="589.1" cy="592.8" rx="1.7" ry="1.1" transform="rotate(136 589.1 592.8)"/><ellipse cx="564.5" cy="595.2" rx="1.5" ry="0.8" transform="rotate(131 564.5 595.2)"/><ellipse cx="562" cy="585.5" rx="2.1" ry="1.1" transform="rotate(173 562 585.5)"/><ellipse cx="479.8" cy="568.9" rx="1.5" ry="1" transform="rotate(180 479.8 568.9)"/><ellipse cx="574.1" cy="576.3" rx="2.1" ry="1.5" transform="rotate(177 574.1 576.3)"/><ellipse cx="555.2" cy="555.3" rx="1.2" ry="0.8" transform="rotate(151 555.2 555.3)"/><ellipse cx="478.9" cy="593.6" rx="1.3" ry="0.8" transform="rotate(6 478.9 593.6)"/><ellipse cx="488.4" cy="571.2" rx="1.8" ry="1.4" transform="rotate(105 488.4 571.2)"/><ellipse cx="519.6" cy="602.2" rx="1.4" ry="1" transform="rotate(18 519.6 602.2)"/></g></g>
<g clip-path="url(#trabC)"><use href="#trab" transform="translate(340.8 390)"/></g></g>
<path d="M474 616C475.8 615 481.5 611.6 485 610C488.5 608.4 489.6 607.5 495 606.5C500.4 605.5 509.2 604.6 517.5 604C525.8 603.4 536.7 603.2 545 603C553.3 602.8 560 603.4 567.5 602.5C575 601.6 584.1 598.2 590 597.5C595.9 596.8 599.2 597.4 603 598C606.8 598.6 609.8 599.8 612.5 601C615.2 602.2 617.9 604.3 619 605" fill="none" stroke="#1d1518" stroke-width="1"/>
<path d="M435 859C436.8 853.2 443.1 835 445.8 824C448.4 813 449.6 802.4 450.8 793C451.9 783.6 451.6 779.2 452.5 767.5C453.4 755.8 454.9 735.4 456 723C457.1 710.6 458 701.8 459 693C460 684.2 461 677.2 462 670C463 662.8 463.2 658.3 465 650C466.8 641.7 469.6 629.6 472.5 620C475.4 610.4 477.9 600.8 482.5 592.5C487.1 584.2 492.9 576.2 500 570C507.1 563.8 516.7 558.3 525 555C533.3 551.7 541.7 549.8 550 550C558.3 550.2 566.7 551.8 575 556C583.3 560.2 592.9 567.7 600 575C607.1 582.3 612.5 590.8 617.5 600C622.5 609.2 626.8 619.2 630 630C633.2 640.8 635.2 652.5 637 665C638.8 677.5 639.7 692.1 641 705C642.3 717.9 643.5 730 645 742.5C646.5 755 647.5 768.4 650 780C652.5 791.6 657.5 804.7 660 812C662.5 819.3 661 816.2 665 824C669 831.8 680.6 853.2 683.8 859" fill="none" stroke="#1d1518" stroke-width="1.5"/>
<path d="M516.9 597.5Q542 600.3 567.5 595.6L565.6 603.8L565.6 604.2L565.7 604.7L565.7 605.3L565.7 605.9L565.8 606.6L565.8 607.3L565.8 608.1L565.9 608.9L565.9 609.7L566 610.6L566 611.4L566.1 612.3L566.1 613.3L566.2 614.2L566.2 615.1L566.3 616.1L566.3 617L566.4 617.9L566.4 618.8L566.5 619.7L566.5 620.6L566.6 621.4L566.8 622.2L567.3 623L568.2 623.9L568.5 624.7L567.9 625.5L567.1 626.3L566.8 627.2L566.7 628L566.8 628.8L566.8 629.5L566.8 630.3L566.8 631.1L566.8 631.9L566.8 632.7L566.8 633.5L566.8 634.3L566.8 635.1L566.8 635.9L566.8 636.7L566.8 637.5L566.9 638.3L567.2 639.1L568 640L568.7 640.8L568.4 641.6L567.6 642.4L567 643.1L566.8 643.9L566.7 644.7L566.7 645.5L566.7 646.3L566.7 647.1L566.6 648L566.6 648.8L566.6 649.6L566.6 650.4L566.5 651.3L566.5 652.1L566.5 652.9L566.5 653.8L566.4 654.6L566.4 655.5L566.4 656.4L566.5 657.2L567.1 658.1L568 659L568.1 659.8L567.4 660.6L566.6 661.4L566.3 662.2L566.2 663L566.2 663.9L566.1 664.7L566.1 665.6L566.1 666.5L566.1 667.3L566.1 668.2L566 669.1L566 670L566 670.8L566 671.7L565.9 672.6L565.9 673.4L565.9 674.3L565.9 675.1L565.8 675.9L565.8 676.7L565.8 677.5L565.8 678.2L566 679L566.5 679.7L567.2 680.3L567.5 681L566.6 682.1L565.7 683.2L565.4 684.3L565.3 685.3L565.2 686.2L565.1 687.2L565 688L565 688.9L564.9 689.7L564.8 690.4L564.8 691.1L565.1 691.8L565.6 692.4L566.1 693L566.3 693.5L564.6 695.2L564 695.9L563.8 696.2C561 701 555 705.6 547.5 705.6C542 705.6 536 702.5 532.5 697.5L532.4 697.1L532.3 696.6L532.2 696L532.1 695.4L532 694.7L531.9 693.9L531.7 693.2L531.6 692.3L531.4 691.5L531.2 690.6L531.1 689.7L530.9 688.7L530.7 687.7L530.5 686.8L529.9 685.7L528.7 684.7L528.2 683.7L528.6 683L529.2 682.3L529.5 681.6L529.5 680.8L529.3 680L529.2 679.2L529 678.4L528.9 677.6L528.7 676.8L528.6 675.9L528.4 675.1L528.3 674.2L528.1 673.3L528 672.5L527.8 671.6L527.6 670.7L527.5 669.9L527.3 669L527.2 668.1L527 667.3L526.8 666.5L526.5 665.6L525.7 664.8L524.8 664L524.5 663.3L525 662.5L525.7 661.6L525.8 660.8L525.8 659.9L525.6 659.1L525.5 658.3L525.4 657.5L525.3 656.7L525.1 655.9L525 655.1L524.9 654.4L524.8 653.6L524.7 652.8L524.6 652.1L524.5 651.3L524.3 650.5L524.2 649.8L524.1 649L524 648.2L523.7 647.4L523.2 646.6L522.2 645.8L521.6 645L521.9 644.2L522.6 643.4L523 642.6L523 641.8L522.8 641L522.7 640.2L522.6 639.4L522.4 638.6L522.3 637.8L522.2 637L522 636.2L521.9 635.3L521.8 634.5L521.6 633.7L521.5 632.9L521.4 632.1L521.2 631.2L521.1 630.4L520.7 629.6L519.9 628.7L519 627.9L519 627L519.7 626.2L520.2 625.4L520.4 624.6L520.4 623.7L520.3 622.9L520.2 622L520.2 621L520.1 620.1L520 619.2L520 618.3L519.9 617.3L519.9 616.4L519.8 615.5L519.8 614.6L519.8 613.7L519.7 612.8L519.7 612L519.6 611.2L519.6 610.4L519.6 609.6L519.5 608.9L519.5 608.3L519.5 607.7L519.5 607.1L519.4 606.6L519.4 606.2Z" fill="#717277" stroke="#26262b" stroke-width="1.5" stroke-linejoin="round"/><path d="M519.4 606.2Q542 606.8 565.6 603.8" fill="none" stroke="#26262b" stroke-width="1.5"/><path d="M521.5 606.9L540 606.3L540.6 612Q540 614.8 537.5 615L521.3 615.2" fill="none" stroke="#26262b" stroke-width="1.1" stroke-linejoin="round"/><path d="M545 615.5L566 614" stroke="#4a4b51" stroke-width="0.9" stroke-linecap="round"/><path d="M537.5 625L563.8 621.9" stroke="#4a4b51" stroke-width="0.9" stroke-linecap="round"/><path d="M536.9 628.8L560 625.6" stroke="#4a4b51" stroke-width="0.9" stroke-linecap="round"/><path d="M527.5 643.1L546.3 640.6" stroke="#4a4b51" stroke-width="0.9" stroke-linecap="round"/><path d="M536.3 645L553.8 642.5" stroke="#4a4b51" stroke-width="0.9" stroke-linecap="round"/><path d="M533.8 662.5L565 656.3" stroke="#4a4b51" stroke-width="0.9" stroke-linecap="round"/><path d="M548.8 665L562.5 662.5" stroke="#4a4b51" stroke-width="0.9" stroke-linecap="round"/><path d="M535 681.3L556.3 677.5" stroke="#4a4b51" stroke-width="0.9" stroke-linecap="round"/><path d="M532.5 685L547.5 682.5" stroke="#4a4b51" stroke-width="0.9" stroke-linecap="round"/><path d="M538 695L560 691.5" stroke="#4a4b51" stroke-width="0.9" stroke-linecap="round"/><path d="M537 700.5Q543 697.5 548.5 703Q555 697.5 562.5 697.5" fill="none" stroke="#3a3a40" stroke-width="0.9"/>
<path d="M621.2 580.6C622.2 579.7 624.7 576.8 627 575C629.3 573.2 632.7 571.2 635 570C637.3 568.8 639.1 568.1 641 567.6C642.9 567.1 644.5 566.9 646.2 566.9C647.9 566.9 649.5 567.2 651 567.8C652.5 568.4 653.7 569.3 655 570.6C656.3 571.9 657.8 573.5 659 575.5C660.2 577.5 660.9 578 662.5 582.5C664.1 587 667 596.2 668.7 602.5C670.5 608.8 672.3 617.1 673 620C672.1 620.8 670.3 623.3 667.5 625C664.7 626.7 659.5 629.1 656.2 630C652.9 630.9 650.2 631.2 647.5 630.6C644.8 630 642.9 628.6 640 626.2C637.1 623.8 632.9 620.2 630 616.2C627.1 612.2 624.3 606.9 622.5 602.5C620.7 598.1 619.7 593.3 619.4 590C619.1 586.7 619.8 584.6 620.6 582.5C621.4 580.4 623.4 578.3 624 577.5" fill="none" stroke="#0c0a0b" stroke-width="2.4" stroke-linejoin="round" stroke-linecap="round"/>
<path d="M672.5 619.5L680 619.8L688.7 618.5M674 621L681 621.5L686 623.7L693 629.4M677 618L680 622.5L683 619.5" fill="none" stroke="#0c0a0b" stroke-width="1.4" stroke-linecap="round" stroke-linejoin="round"/>
<g font-family="'Liberation Serif', serif" font-size="33.5" fill="#111"><text x="13.3" y="38.3">A</text><text x="635.3" y="38.3">B</text><text x="324.3" y="537.3">C</text></g>
</svg>
</body></html>
